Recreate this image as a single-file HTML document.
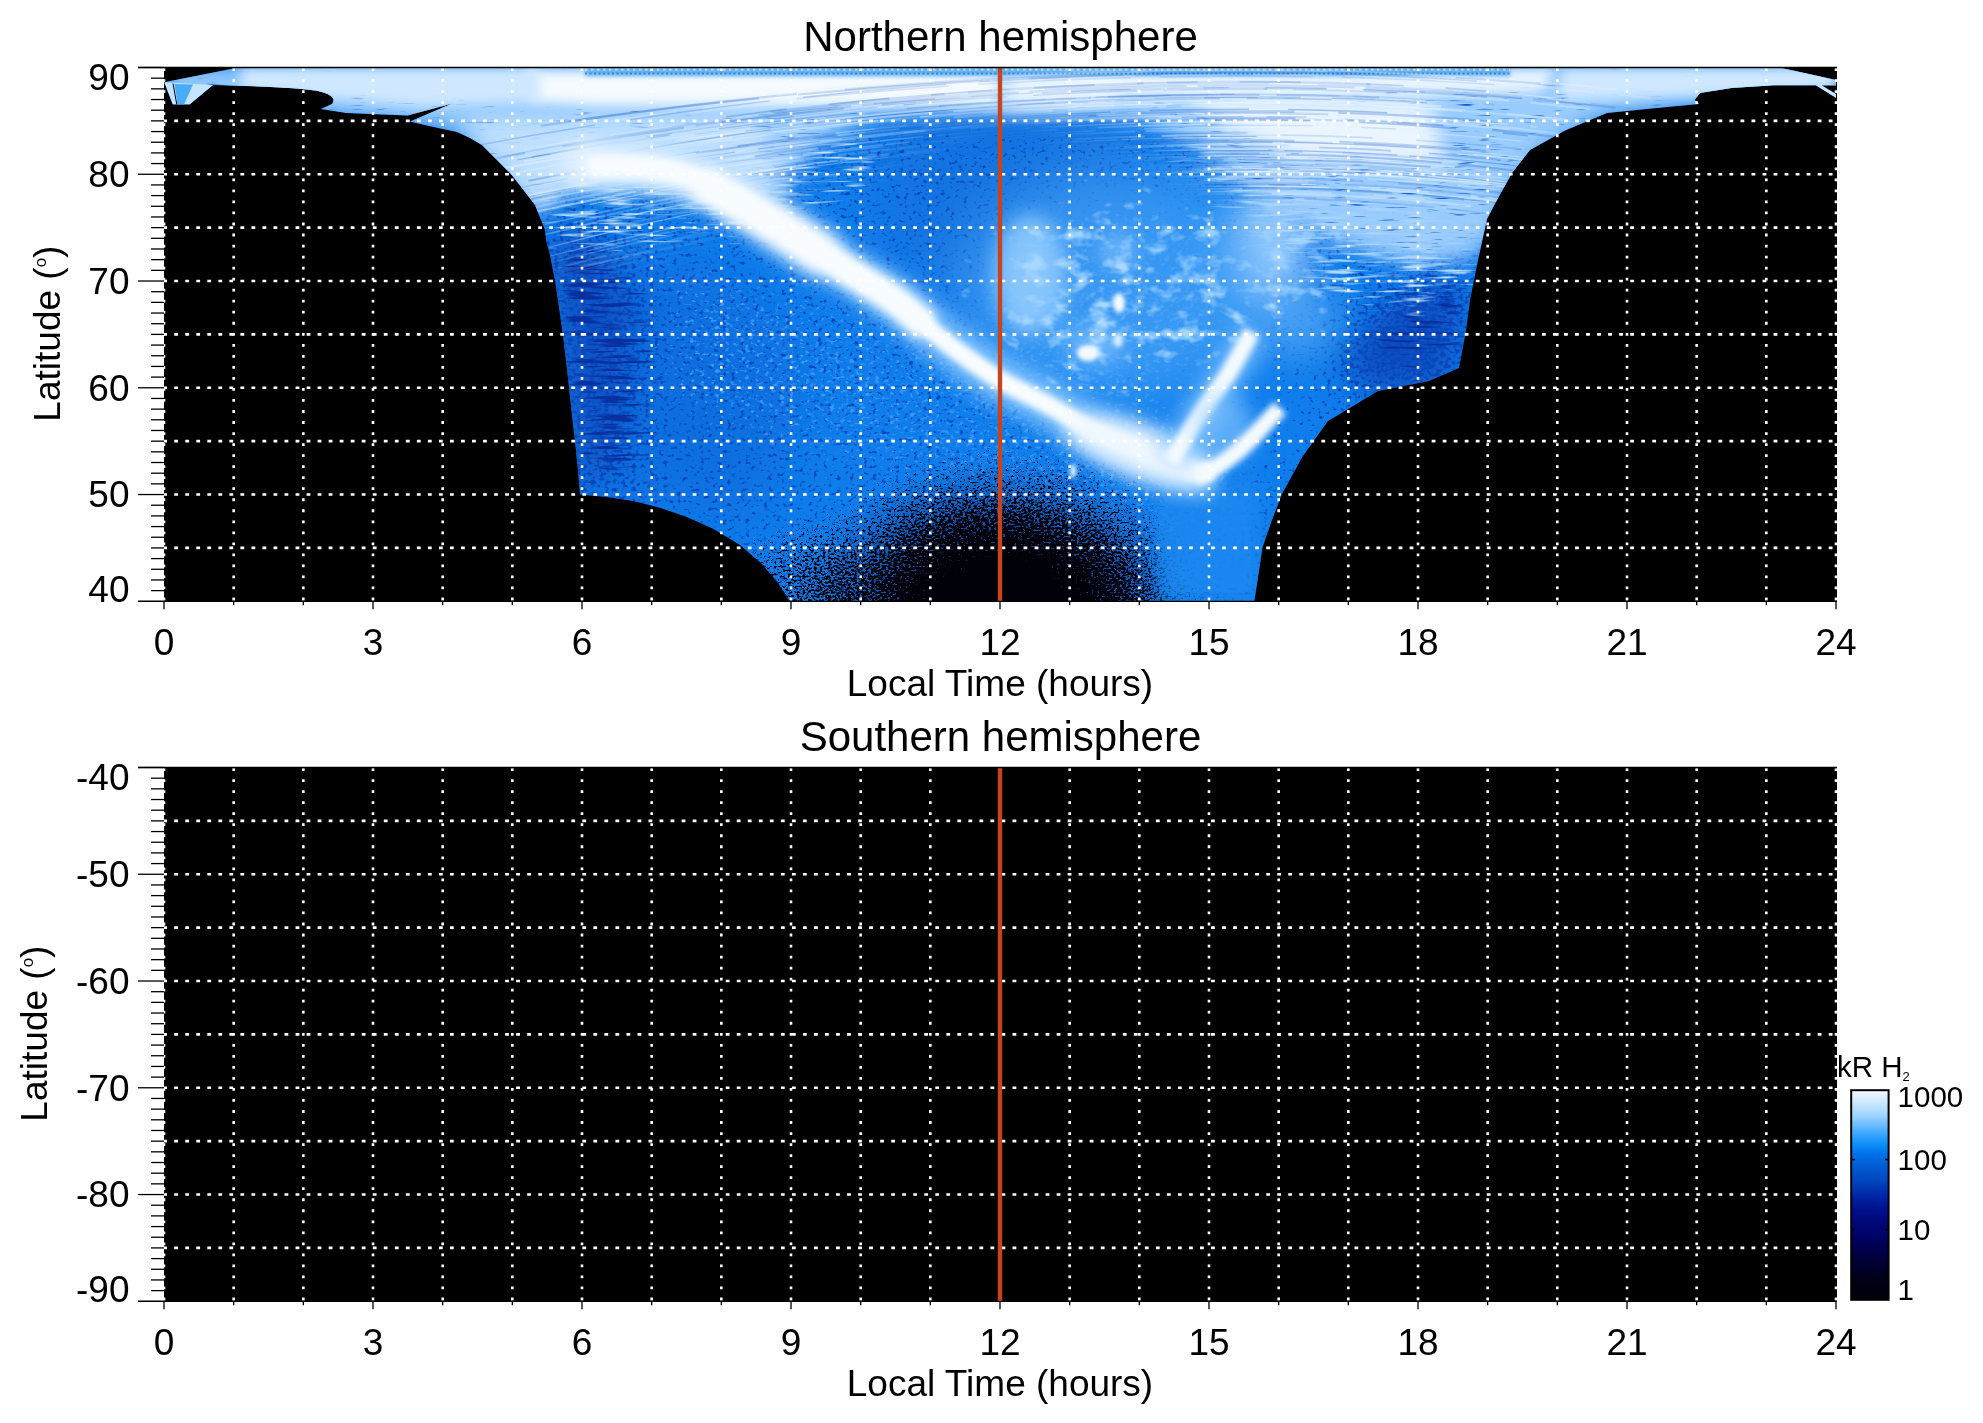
<!DOCTYPE html>
<html><head><meta charset="utf-8"><style>
html,body{margin:0;padding:0;background:#fff;width:1983px;height:1423px;overflow:hidden}
svg{display:block;will-change:transform}
</style></head><body>
<svg width="1983" height="1423" viewBox="0 0 1983 1423">
<defs><clipPath id="plotclipN"><rect x="164.0" y="67.5" width="1672.0" height="533.8"/></clipPath></defs>
<rect width="1983" height="1423" fill="#fff"/>
<rect x="164.0" y="67.5" width="1673.0" height="533.8" fill="#000"/>
<g clip-path="url(#plotclipN)"><defs>
<clipPath id="em"><path d="M238.4,67.5 L1779.4,67.5 L1836,80 L1836,98 L1816,85.3 L1773.8,85.3 L1731.6,88 L1700,93 L1694.7,100 L1699,104 L1656.6,108 L1607,113 L1565,130.6 L1530,150 L1512,173 L1497,200 L1487,219 L1478,260 L1470,300 L1466,330 L1459,368 L1428.6,381 L1378,391 L1328,421 L1302.6,456.5 L1282,494 L1272,520 L1262.6,547 L1254.2,602 L789.7,602 L777.7,582.5 L761.7,563.8 L740,545 L713.6,529 L687,517 L660,507.7 L633.5,501 L606.8,497 L580,494.4 L578,470 L575,441 L572,415 L569,387 L566,360 L563,335 L559,307 L555,280 L550,255 L546,240 L545,230 L535,205 L522,188 L511,174 L497,160 L482,145 L470,138 L457,132 L429,126 L410,121.4 L452.3,103.4 L407.8,115.5 L346.4,113 L321,109 L332,104 C336,99 332,94 318,91 C300,88 270,86.5 213,85 L189.7,104.5 L172.7,104.5 L164.2,82.2 Z"/></clipPath>
<filter id="b2" x="-40%" y="-40%" width="180%" height="180%"><feGaussianBlur stdDeviation="2"/></filter>
<filter id="b3" x="-40%" y="-40%" width="180%" height="180%"><feGaussianBlur stdDeviation="3"/></filter>
<filter id="b6" x="-40%" y="-40%" width="180%" height="180%"><feGaussianBlur stdDeviation="6"/></filter>
<filter id="b10" x="-40%" y="-40%" width="180%" height="180%"><feGaussianBlur stdDeviation="10"/></filter>
<filter id="b18" x="-40%" y="-40%" width="180%" height="180%"><feGaussianBlur stdDeviation="18"/></filter>
<filter id="b30" x="-40%" y="-40%" width="180%" height="180%"><feGaussianBlur stdDeviation="30"/></filter>
<filter id="spkDark" x="0" y="0" width="100%" height="100%" color-interpolation-filters="sRGB"><feTurbulence type="fractalNoise" baseFrequency="0.35 0.5" numOctaves="2" seed="5" result="n"/><feColorMatrix in="n" type="matrix" values="1 0 0 0 0  0 1 0 0 0  0 0 1 0 0  0 0 0 0 1" result="n1"/><feComposite in="n1" in2="SourceGraphic" operator="arithmetic" k1="0" k2="1" k3="1" k4="-0.95" result="s"/><feColorMatrix in="s" type="matrix" values="0 0 0 0 0.000  0 0 0 0 0.000  0 0 0 0 0.031  8 0 0 0 0"/></filter>
<filter id="spkBody" x="0" y="0" width="100%" height="100%" color-interpolation-filters="sRGB"><feTurbulence type="fractalNoise" baseFrequency="0.22 0.26" numOctaves="2" seed="11" result="n"/><feColorMatrix in="n" type="matrix" values="1 0 0 0 0  0 1 0 0 0  0 0 1 0 0  0 0 0 0 1" result="n1"/><feComposite in="n1" in2="SourceGraphic" operator="arithmetic" k1="0" k2="1" k3="1" k4="-0.95" result="s"/><feColorMatrix in="s" type="matrix" values="0 0 0 0 0.031  0 0 0 0 0.282  0 0 0 0 0.737  6 0 0 0 0"/></filter>
<filter id="spkBodyL" x="0" y="0" width="100%" height="100%" color-interpolation-filters="sRGB"><feTurbulence type="fractalNoise" baseFrequency="0.2 0.3" numOctaves="2" seed="29" result="n"/><feColorMatrix in="n" type="matrix" values="1 0 0 0 0  0 1 0 0 0  0 0 1 0 0  0 0 0 0 1" result="n1"/><feComposite in="n1" in2="SourceGraphic" operator="arithmetic" k1="0" k2="1" k3="1" k4="-0.95" result="s"/><feColorMatrix in="s" type="matrix" values="0 0 0 0 0.220  0 0 0 0 0.596  0 0 0 0 0.957  6 0 0 0 0"/></filter>
<filter id="spkEdge" x="0" y="0" width="100%" height="100%" color-interpolation-filters="sRGB"><feTurbulence type="fractalNoise" baseFrequency="0.025 0.28" numOctaves="2" seed="31" result="n"/><feColorMatrix in="n" type="matrix" values="1 0 0 0 0  0 1 0 0 0  0 0 1 0 0  0 0 0 0 1" result="n1"/><feComposite in="n1" in2="SourceGraphic" operator="arithmetic" k1="0" k2="1" k3="1" k4="-0.95" result="s"/><feColorMatrix in="s" type="matrix" values="0 0 0 0 0.031  0 0 0 0 0.188  0 0 0 0 0.627  6 0 0 0 0"/></filter>
<filter id="spkStreak" x="0" y="0" width="100%" height="100%" color-interpolation-filters="sRGB"><feTurbulence type="fractalNoise" baseFrequency="0.04 0.45" numOctaves="2" seed="23" result="n"/><feColorMatrix in="n" type="matrix" values="1 0 0 0 0  0 1 0 0 0  0 0 1 0 0  0 0 0 0 1" result="n1"/><feComposite in="n1" in2="SourceGraphic" operator="arithmetic" k1="0" k2="1" k3="1" k4="-0.95" result="s"/><feColorMatrix in="s" type="matrix" values="0 0 0 0 0.039  0 0 0 0 0.353  0 0 0 0 0.816  5 0 0 0 0"/></filter>
<filter id="spkMottle" x="0" y="0" width="100%" height="100%" color-interpolation-filters="sRGB"><feTurbulence type="fractalNoise" baseFrequency="0.045 0.07" numOctaves="3" seed="41" result="n"/><feColorMatrix in="n" type="matrix" values="1 0 0 0 0  0 1 0 0 0  0 0 1 0 0  0 0 0 0 1" result="n1"/><feComposite in="n1" in2="SourceGraphic" operator="arithmetic" k1="0" k2="1" k3="1" k4="-0.95" result="s"/><feColorMatrix in="s" type="matrix" values="0 0 0 0 0.659  0 0 0 0 0.847  0 0 0 0 1.000  3 0 0 0 0"/></filter>
<filter id="spkLight" x="0" y="0" width="100%" height="100%" color-interpolation-filters="sRGB"><feTurbulence type="fractalNoise" baseFrequency="0.025 0.3" numOctaves="2" seed="17" result="n"/><feColorMatrix in="n" type="matrix" values="1 0 0 0 0  0 1 0 0 0  0 0 1 0 0  0 0 0 0 1" result="n1"/><feComposite in="n1" in2="SourceGraphic" operator="arithmetic" k1="0" k2="1" k3="1" k4="-0.95" result="s"/><feColorMatrix in="s" type="matrix" values="0 0 0 0 0.722  0 0 0 0 0.871  0 0 0 0 0.973  4 0 0 0 0"/></filter>
<radialGradient id="dDark" cx="0.5" cy="0.5" r="0.5">
<stop offset="0" stop-color="#fff"/>
<stop offset="0.25" stop-color="#d4d4d4"/>
<stop offset="0.5" stop-color="#8c8c8c"/>
<stop offset="0.75" stop-color="#4a4a4a"/>
<stop offset="1" stop-color="#000"/>
</radialGradient>
<radialGradient id="gCore" cx="0.5" cy="0.5" r="0.5">
<stop offset="0" stop-color="#000010" stop-opacity="0.7"/>
<stop offset="0.6" stop-color="#000a40" stop-opacity="0.35"/>
<stop offset="1" stop-color="#001060" stop-opacity="0"/>
</radialGradient>
</defs>
<g clip-path="url(#em)">
<rect x="164" y="67" width="1672" height="535" fill="#0f7eec"/>
<path d="M560,250 L700,260 L790,330 L800,420 L760,520 L600,500 L575,420 Z" fill="#0a66d8" filter="url(#b30)" opacity="0.6"/>
<path d="M545,235 L600,240 L630,300 L620,420 L600,490 L575,490 L565,380 Z" fill="#0a48bc" filter="url(#b18)" opacity="0.75"/>
<path d="M1466,280 L1390,300 L1340,360 L1370,395 L1450,385 Z" fill="#0a48bc" filter="url(#b18)" opacity="0.9"/>
<path d="M880,110 L1000,80 L1120,120 L1160,250 L1000,330 L880,250 Z" fill="#1470dc" filter="url(#b30)" opacity="0.7"/>
<g filter="url(#spkBody)"><rect x="164" y="67" width="1672" height="535" fill="#5c5c5c"/><path d="M540,230 L630,240 L650,330 L640,500 L570,500 Z" fill="#7a7a7a" filter="url(#b18)"/><path d="M1470,260 L1380,290 L1330,380 L1460,390 Z" fill="#8a8a8a" filter="url(#b18)"/><path d="M164,67 L1836,67 L1836,130 L164,130 Z" fill="#202020" filter="url(#b10)"/><ellipse cx="1120" cy="300" rx="140" ry="110" fill="#383838" filter="url(#b30)"/><ellipse cx="1190" cy="410" rx="110" ry="70" fill="#303030" filter="url(#b30)"/></g>
<g filter="url(#spkBodyL)"><rect x="164" y="67" width="1672" height="535" fill="#000"/><path d="M640,240 L1000,330 L1250,420 L1260,600 L820,470 L650,420 Z" fill="#646464" filter="url(#b30)"/><ellipse cx="1110" cy="300" rx="130" ry="100" fill="#6c6c6c" filter="url(#b18)"/></g>
<g filter="url(#spkEdge)"><rect x="164" y="67" width="1672" height="535" fill="#000"/><path d="M545,240 L640,250 L660,330 L650,480 L580,495 Z" fill="#7a7a7a" filter="url(#b18)"/><path d="M1470,260 L1400,280 L1360,370 L1460,380 Z" fill="#7a7a7a" filter="url(#b18)"/></g>
<ellipse cx="1000" cy="610" rx="200" ry="150" fill="url(#gCore)"/>
<g filter="url(#spkDark)"><rect x="164" y="67" width="1672" height="535" fill="#000"/><ellipse cx="1000" cy="614" rx="275" ry="205" fill="url(#dDark)"/><ellipse cx="790" cy="590" rx="80" ry="60" fill="#9a9a9a" filter="url(#b18)" opacity="0.6"/></g>
<path d="M1150,492 L1260,482 L1262,602 L1160,602 Z" fill="#1f88f0" filter="url(#b10)" opacity="0.9"/>
<g filter="url(#spkLight)"><rect x="164" y="67" width="1672" height="535" fill="#000"/><path d="M450,120 L850,120 L900,170 L800,240 L700,250 L560,260 L470,150 Z" fill="#707070" filter="url(#b18)"/><path d="M1150,110 L1500,110 L1490,280 L1420,320 L1300,300 L1200,200 Z" fill="#787878" filter="url(#b18)"/></g>
<path d="M164,67 L1836,67 L1836,95 L1700,103 L1600,118 L1545,150 L1510,190 L1490,245 L1460,262 L1400,262 L1330,240 L1262,200 L1205,150 L1135,118 L1070,114 L1012,112 L1000,112 L985,112 L940,112 L870,118 L810,150 L775,200 L700,178 L620,168 L560,178 L532,220 L450,128 L164,96 Z" fill="#a4d2ff" filter="url(#b10)" opacity="0.92"/>
<g filter="url(#spkStreak)"><rect x="164" y="67" width="1672" height="535" fill="#000"/><path d="M164,67 L1836,67 L1836,95 L1700,103 L1600,118 L1545,150 L1510,190 L1490,245 L1460,262 L1400,262 L1330,240 L1262,200 L1205,150 L1135,118 L1070,114 L1012,112 L1000,112 L985,112 L940,112 L870,118 L810,150 L775,200 L700,178 L620,168 L560,178 L532,220 L450,128 L164,96 Z" fill="#484848" filter="url(#b10)"/><path d="M480,68 L980,68 L960,100 L700,110 L480,100 Z" fill="#000" filter="url(#b6)"/></g>
<path d="M525,70 L998,70 L998,106 L900,106 L760,106 L600,106 L530,102 Z" fill="#f4faff" filter="url(#b6)"/>
<path d="M240,68 L540,68 L540,102 L420,106 L240,90 Z" fill="#d0e8ff" filter="url(#b6)"/>
<path d="M1035,68 L1560,68 L1540,92 L1300,98 L1100,96 Z" fill="#e8f4ff" filter="url(#b6)"/>
<path d="M1560,68 L1836,68 L1836,88 L1700,96 L1560,100 Z" fill="#d0e8ff" filter="url(#b6)"/>
<path d="M1002,70 L1120,70 L1120,100 L1068,108 L1002,108 Z" fill="#eef7ff" filter="url(#b10)"/>
<rect x="585" y="67.5" width="925" height="8.5" fill="#62b0f0" filter="url(#b2)"/>
<line x1="585" y1="73.5" x2="1510" y2="73.5" stroke="#0a58c8" stroke-width="1.8" stroke-dasharray="2 2.5" opacity="0.55"/>
<line x1="585" y1="69.5" x2="1510" y2="69.5" stroke="#d8ecff" stroke-width="2" stroke-dasharray="2.5 3.5" opacity="0.8"/>
<path d="M470,120 L760,118 L780,190 L700,172 L600,165 L545,210 L480,140 Z" fill="#c4e2ff" filter="url(#b10)" opacity="0.9"/>
<path d="M1190,96 L1430,100 L1445,165 L1300,160 L1225,130 Z" fill="#eaf5ff" filter="url(#b10)"/>
<ellipse cx="1265" cy="250" rx="42" ry="60" fill="#b8dcff" filter="url(#b18)" opacity="0.9"/>
<ellipse cx="1300" cy="320" rx="40" ry="40" fill="#5aaaf6" filter="url(#b18)" opacity="0.7"/>
<ellipse cx="1115" cy="285" rx="160" ry="115" fill="#4aa4f8" filter="url(#b30)" opacity="0.7"/>
<ellipse cx="1030" cy="275" rx="36" ry="60" fill="#9ad0ff" filter="url(#b10)" opacity="0.8"/>
<ellipse cx="1118" cy="250" rx="18" ry="18" fill="#8ac8ff" filter="url(#b10)" opacity="0.6"/>
<ellipse cx="1095" cy="345" rx="30" ry="20" fill="#8ac8ff" filter="url(#b10)" opacity="0.6"/>
<mask id="stm" maskUnits="userSpaceOnUse" x="164" y="67" width="1672" height="535"><rect x="164" y="67" width="1672" height="535" fill="#000"/><path d="M380,68 L1836,68 L1836,90 L1620,110 L1540,170 L1500,250 L1480,320 L1400,300 L1300,240 L1150,140 L1000,100 L880,150 L700,220 L600,260 L545,250 L470,140 Z" fill="#fff" filter="url(#b18)"/></mask>
<g mask="url(#stm)"><path d="M783.6,139.0 C790.2,138.2 810.2,135.8 823.6,134.4 C836.9,132.9 850.2,131.5 863.6,130.1 C876.9,128.8 890.2,127.5 903.6,126.3 C916.9,125.1 930.2,124.0 943.6,122.9 C956.9,121.9 970.2,120.9 983.6,120.0 C996.9,119.0 1010.2,118.2 1023.6,117.4 C1036.9,116.6 1050.2,115.9 1063.6,115.3 C1076.9,114.6 1090.2,114.0 1103.6,113.5 C1116.9,113.0 1130.2,112.6 1143.6,112.2 C1156.9,111.8 1170.2,111.5 1183.6,111.3 C1196.9,111.1 1216.9,110.9 1223.6,110.8" stroke="#e6f3ff" stroke-opacity="0.31" stroke-width="1.1" stroke-dasharray="161 11" fill="none"/><path d="M436.2,215.8 C442.9,214.4 462.9,209.9 476.2,207.1 C489.6,204.3 502.9,201.5 516.2,198.9 C529.6,196.2 542.9,193.6 556.2,191.1 C569.6,188.5 582.9,186.1 596.2,183.7 C609.6,181.3 622.9,179.0 636.2,176.8 C649.6,174.5 662.9,172.4 676.2,170.3 C689.6,168.2 702.9,166.1 716.2,164.2 C729.6,162.3 742.9,160.4 756.2,158.6 C769.6,156.8 782.9,155.1 796.2,153.4 C809.6,151.7 822.9,150.2 836.2,148.7 C849.6,147.1 862.9,145.7 876.2,144.3 C889.6,143.0 902.9,141.7 916.2,140.5 C929.6,139.3 942.9,138.1 956.2,137.0 C969.6,136.0 982.9,135.0 996.2,134.0 C1009.6,133.1 1022.9,132.3 1036.2,131.5 C1049.6,130.7 1062.9,130.0 1076.2,129.4 C1089.6,128.7 1102.9,128.2 1116.2,127.7 C1129.6,127.2 1142.9,126.8 1156.2,126.4 C1169.6,126.1 1182.9,125.8 1196.2,125.6 C1209.6,125.4 1222.9,125.3 1236.2,125.3 C1249.6,125.2 1262.9,125.2 1276.2,125.4 C1289.6,125.5 1302.9,125.7 1316.2,126.0 C1329.6,126.3 1342.9,126.7 1356.2,127.2 C1369.6,127.8 1389.6,128.7 1396.2,129.0" stroke="#0850c0" stroke-opacity="0.14" stroke-width="1.3" stroke-dasharray="185 48" fill="none"/><path d="M985.3,155.3 C991.9,154.8 1011.9,153.2 1025.3,152.2 C1038.6,151.3 1051.9,150.4 1065.3,149.6 C1078.6,148.8 1091.9,148.1 1105.3,147.5 C1118.6,146.9 1131.9,146.4 1145.3,145.9 C1158.6,145.5 1178.6,145.0 1185.3,144.8" stroke="#0850c0" stroke-opacity="0.17" stroke-width="1.2" stroke-dasharray="84 22" fill="none"/><path d="M740.6,220.6 C747.3,219.4 767.3,216.0 780.6,213.8 C793.9,211.6 807.3,209.6 820.6,207.6 C833.9,205.6 847.3,203.7 860.6,201.9 C873.9,200.1 887.3,198.4 900.6,196.8 C913.9,195.2 927.3,193.7 940.6,192.3 C953.9,190.8 967.3,189.5 980.6,188.3 C993.9,187.0 1007.3,185.9 1020.6,184.8 C1033.9,183.8 1047.3,182.8 1060.6,181.9 C1073.9,181.1 1087.3,180.3 1100.6,179.6 C1113.9,178.9 1127.3,178.3 1140.6,177.8 C1153.9,177.3 1167.3,176.9 1180.6,176.6 C1193.9,176.2 1207.3,176.0 1220.6,175.9 C1233.9,175.7 1247.3,175.7 1260.6,175.8 C1273.9,175.8 1287.3,176.0 1300.6,176.3 C1313.9,176.6 1327.3,177.0 1340.6,177.6 C1353.9,178.1 1367.3,178.8 1380.6,179.6 C1393.9,180.3 1407.3,181.2 1420.6,182.3 C1433.9,183.3 1447.3,184.4 1460.6,185.7 C1473.9,187.0 1493.9,189.1 1500.6,189.8" stroke="#e6f3ff" stroke-opacity="0.36" stroke-width="1.1" stroke-dasharray="72 18" fill="none"/><path d="M574.8,235.2 C581.4,233.7 601.4,229.2 614.8,226.3 C628.1,223.4 641.4,220.6 654.8,217.9 C668.1,215.2 681.4,212.6 694.8,210.1 C708.1,207.6 721.4,205.2 734.8,202.9 C748.1,200.5 761.4,198.3 774.8,196.1 C788.1,194.0 801.4,191.9 814.8,190.0 C828.1,188.0 841.4,186.1 854.8,184.3 C868.1,182.5 881.4,180.8 894.8,179.2 C908.1,177.6 921.4,176.1 934.8,174.7 C948.1,173.2 961.4,171.9 974.8,170.7 C988.1,169.4 1001.4,168.3 1014.8,167.2 C1028.1,166.1 1041.4,165.2 1054.8,164.3 C1068.1,163.4 1081.4,162.6 1094.8,161.9 C1108.1,161.2 1121.4,160.6 1134.8,160.1 C1148.1,159.5 1161.4,159.1 1174.8,158.8 C1188.1,158.4 1201.4,158.2 1214.8,158.0 C1228.1,157.9 1241.4,157.8 1254.8,157.8 C1268.1,157.9 1281.4,158.0 1294.8,158.3 C1308.1,158.5 1321.4,158.9 1334.8,159.4 C1348.1,159.9 1361.4,160.5 1374.8,161.2 C1388.1,162.0 1401.4,162.8 1414.8,163.8 C1428.1,164.8 1448.1,166.5 1454.8,167.1" stroke="#e6f3ff" stroke-opacity="0.29" stroke-width="2.1" stroke-dasharray="200 20" fill="none"/><path d="M922.6,161.3 C929.3,160.7 949.3,158.6 962.6,157.3 C975.9,156.1 989.3,154.9 1002.6,153.8 C1015.9,152.7 1029.3,151.8 1042.6,150.8 C1055.9,149.9 1069.3,149.1 1082.6,148.4 C1095.9,147.7 1109.3,147.0 1122.6,146.5 C1135.9,145.9 1149.3,145.5 1162.6,145.1 C1175.9,144.7 1189.3,144.4 1202.6,144.2 C1215.9,144.0 1229.3,143.9 1242.6,143.8 C1255.9,143.8 1269.3,143.9 1282.6,144.0 C1295.9,144.2 1309.3,144.5 1322.6,144.9 C1335.9,145.4 1349.3,145.9 1362.6,146.5 C1375.9,147.2 1389.3,147.9 1402.6,148.8 C1415.9,149.6 1429.3,150.6 1442.6,151.7 C1455.9,152.8 1469.3,154.0 1482.6,155.3 C1495.9,156.6 1509.3,158.1 1522.6,159.6 C1535.9,161.1 1555.9,163.7 1562.6,164.6" stroke="#e6f3ff" stroke-opacity="0.49" stroke-width="1.2" stroke-dasharray="144 40" fill="none"/><path d="M404.3,176.5 C411.0,175.1 431.0,171.0 444.3,168.3 C457.6,165.6 471.0,163.1 484.3,160.5 C497.6,158.0 511.0,155.6 524.3,153.2 C537.6,150.8 551.0,148.4 564.3,146.2 C577.6,143.9 591.0,141.7 604.3,139.6 C617.6,137.5 631.0,135.4 644.3,133.4 C657.6,131.4 671.0,129.5 684.3,127.6 C697.6,125.8 711.0,124.0 724.3,122.2 C737.6,120.5 751.0,118.8 764.3,117.2 C777.6,115.6 791.0,114.1 804.3,112.6 C817.6,111.1 831.0,109.7 844.3,108.4 C857.6,107.1 871.0,105.8 884.3,104.6 C897.6,103.4 911.0,102.2 924.3,101.2 C937.6,100.1 951.0,99.1 964.3,98.2 C977.6,97.2 991.0,96.3 1004.3,95.5 C1017.6,94.7 1031.0,94.0 1044.3,93.3 C1057.6,92.6 1071.0,92.0 1084.3,91.5 C1097.6,90.9 1111.0,90.4 1124.3,90.0 C1137.6,89.6 1151.0,89.3 1164.3,89.0 C1177.6,88.7 1191.0,88.5 1204.3,88.3 C1217.6,88.2 1231.0,88.1 1244.3,88.1 C1257.6,88.1 1271.0,88.1 1284.3,88.3 C1297.6,88.4 1311.0,88.6 1324.3,88.9 C1337.6,89.3 1351.0,89.7 1364.3,90.2 C1377.6,90.7 1391.0,91.2 1404.3,91.9 C1417.6,92.5 1431.0,93.3 1444.3,94.1 C1457.6,95.0 1471.0,95.9 1484.3,96.9 C1497.6,97.9 1517.6,99.6 1524.3,100.2" stroke="#0850c0" stroke-opacity="0.22" stroke-width="2.2" stroke-dasharray="123 38" fill="none"/><path d="M662.8,204.0 C669.5,202.7 689.5,198.9 702.8,196.4 C716.2,194.0 729.5,191.7 742.8,189.4 C756.2,187.1 769.5,185.0 782.8,182.9 C796.2,180.8 809.5,178.8 822.8,176.9 C836.2,175.0 849.5,173.2 862.8,171.5 C876.2,169.8 889.5,168.1 902.8,166.6 C916.2,165.0 929.5,163.6 942.8,162.2 C956.2,160.8 969.5,159.6 982.8,158.4 C996.2,157.2 1009.5,156.1 1022.8,155.1 C1036.2,154.1 1049.5,153.1 1062.8,152.3 C1076.2,151.5 1089.5,150.7 1102.8,150.1 C1116.2,149.4 1129.5,148.9 1142.8,148.4 C1156.2,147.9 1169.5,147.5 1182.8,147.2 C1196.2,146.9 1209.5,146.7 1222.8,146.6 C1236.2,146.5 1249.5,146.4 1262.8,146.5 C1276.2,146.6 1289.5,146.8 1302.8,147.1 C1316.2,147.4 1329.5,147.8 1342.8,148.3 C1356.2,148.9 1369.5,149.5 1382.8,150.3 C1396.2,151.1 1409.5,151.9 1422.8,152.9 C1436.2,153.9 1449.5,155.1 1462.8,156.3 C1476.2,157.5 1489.5,158.9 1502.8,160.3 C1516.2,161.8 1529.5,163.4 1542.8,165.1 C1556.2,166.8 1576.2,169.6 1582.8,170.5" stroke="#0850c0" stroke-opacity="0.21" stroke-width="1.9" stroke-dasharray="72 38" fill="none"/><path d="M889.6,177.6 C896.3,176.7 916.3,174.1 929.6,172.5 C942.9,170.9 956.3,169.4 969.6,168.0 C982.9,166.6 996.3,165.4 1009.6,164.2 C1022.9,163.0 1036.3,161.9 1049.6,160.9 C1062.9,159.9 1076.3,159.0 1089.6,158.2 C1102.9,157.4 1116.3,156.7 1129.6,156.1 C1142.9,155.5 1156.3,155.0 1169.6,154.6 C1182.9,154.2 1196.3,153.9 1209.6,153.7 C1222.9,153.5 1236.3,153.4 1249.6,153.4 C1262.9,153.4 1276.3,153.5 1289.6,153.8 C1302.9,154.1 1322.9,154.8 1329.6,155.0" stroke="#e6f3ff" stroke-opacity="0.40" stroke-width="1.0" stroke-dasharray="152 17" fill="none"/><path d="M856.3,100.5 C863.0,100.0 883.0,98.3 896.3,97.2 C909.6,96.2 923.0,95.2 936.3,94.3 C949.6,93.4 963.0,92.5 976.3,91.7 C989.6,90.9 1003.0,90.2 1016.3,89.5 C1029.6,88.8 1043.0,88.2 1056.3,87.6 C1069.6,87.0 1083.0,86.5 1096.3,86.1 C1109.6,85.6 1123.0,85.2 1136.3,84.9 C1149.6,84.5 1163.0,84.3 1176.3,84.1 C1189.6,83.8 1203.0,83.7 1216.3,83.6 C1229.6,83.5 1249.6,83.5 1256.3,83.5" stroke="#e6f3ff" stroke-opacity="0.32" stroke-width="2.2" stroke-dasharray="76 28" fill="none"/><path d="M888.0,163.1 C894.6,162.3 914.6,159.9 928.0,158.4 C941.3,156.9 954.6,155.5 968.0,154.2 C981.3,153.0 994.6,151.7 1008.0,150.6 C1021.3,149.5 1034.6,148.5 1048.0,147.6 C1061.3,146.6 1074.6,145.8 1088.0,145.1 C1101.3,144.3 1114.6,143.7 1128.0,143.1 C1141.3,142.5 1154.6,142.1 1168.0,141.7 C1181.3,141.3 1194.6,141.0 1208.0,140.8 C1221.3,140.6 1234.6,140.5 1248.0,140.5 C1261.3,140.5 1274.6,140.6 1288.0,140.8 C1301.3,141.1 1314.6,141.4 1328.0,141.9 C1341.3,142.4 1354.6,142.9 1368.0,143.6 C1381.3,144.4 1394.6,145.2 1408.0,146.1 C1421.3,147.1 1434.6,148.1 1448.0,149.3 C1461.3,150.5 1474.6,151.8 1488.0,153.2 C1501.3,154.6 1514.6,156.2 1528.0,157.9 C1541.3,159.5 1554.6,161.3 1568.0,163.2 C1581.3,165.1 1601.3,168.2 1608.0,169.3" stroke="#e6f3ff" stroke-opacity="0.32" stroke-width="1.5" stroke-dasharray="237 48" fill="none"/><path d="M523.8,149.0 C530.5,147.9 550.5,144.6 563.8,142.4 C577.1,140.3 590.5,138.3 603.8,136.3 C617.1,134.3 630.5,132.3 643.8,130.5 C657.1,128.6 670.5,126.8 683.8,125.0 C697.1,123.3 710.5,121.6 723.8,120.0 C737.1,118.4 750.5,116.8 763.8,115.3 C777.1,113.8 790.5,112.3 803.8,111.0 C817.1,109.6 830.5,108.3 843.8,107.0 C857.1,105.8 870.5,104.6 883.8,103.4 C897.1,102.3 910.5,101.2 923.8,100.2 C937.1,99.2 950.5,98.3 963.8,97.4 C977.1,96.5 990.5,95.7 1003.8,94.9 C1017.1,94.2 1030.5,93.5 1043.8,92.8 C1057.1,92.2 1070.5,91.6 1083.8,91.1 C1097.1,90.6 1110.5,90.2 1123.8,89.8 C1137.1,89.4 1150.5,89.0 1163.8,88.8 C1177.1,88.5 1190.5,88.3 1203.8,88.2 C1217.1,88.0 1230.5,87.9 1243.8,87.9 C1257.1,87.9 1277.1,88.1 1283.8,88.1" stroke="#e6f3ff" stroke-opacity="0.38" stroke-width="1.4" stroke-dasharray="61 27" fill="none"/><path d="M970.9,128.1 C977.6,127.6 997.6,126.0 1010.9,125.1 C1024.3,124.1 1037.6,123.3 1050.9,122.5 C1064.3,121.7 1077.6,121.0 1090.9,120.4 C1104.3,119.8 1117.6,119.3 1130.9,118.8 C1144.3,118.3 1157.6,118.0 1170.9,117.7 C1184.3,117.3 1197.6,117.1 1210.9,117.0 C1224.3,116.8 1237.6,116.7 1250.9,116.7 C1264.3,116.8 1277.6,116.9 1290.9,117.1 C1304.3,117.3 1317.6,117.6 1330.9,118.0 C1344.3,118.4 1357.6,118.9 1370.9,119.5 C1384.3,120.1 1397.6,120.8 1410.9,121.6 C1424.3,122.5 1437.6,123.4 1450.9,124.4 C1464.3,125.4 1477.6,126.5 1490.9,127.7 C1504.3,128.9 1524.3,131.0 1530.9,131.7" stroke="#e6f3ff" stroke-opacity="0.39" stroke-width="1.9" stroke-dasharray="71 46" fill="none"/><path d="M874.7,198.4 C881.3,197.5 901.3,194.6 914.7,192.9 C928.0,191.1 941.3,189.5 954.7,187.9 C968.0,186.4 981.3,185.0 994.7,183.7 C1008.0,182.3 1021.3,181.1 1034.7,180.0 C1048.0,178.9 1061.3,177.9 1074.7,176.9 C1088.0,176.0 1101.3,175.2 1114.7,174.5 C1128.0,173.8 1141.3,173.2 1154.7,172.7 C1168.0,172.2 1181.3,171.8 1194.7,171.6 C1208.0,171.3 1221.3,171.1 1234.7,171.0 C1248.0,170.9 1261.3,170.9 1274.7,171.1 C1288.0,171.3 1301.3,171.6 1314.7,172.0 C1328.0,172.5 1341.3,173.0 1354.7,173.7 C1368.0,174.4 1388.0,175.8 1394.7,176.3" stroke="#e6f3ff" stroke-opacity="0.23" stroke-width="1.9" stroke-dasharray="72 13" fill="none"/><path d="M590.8,147.9 C597.5,146.8 617.5,143.7 630.8,141.7 C644.2,139.7 657.5,137.8 670.8,135.9 C684.2,134.1 697.5,132.3 710.8,130.5 C724.2,128.8 737.5,127.1 750.8,125.5 C764.2,123.9 777.5,122.4 790.8,120.9 C804.2,119.5 817.5,118.0 830.8,116.7 C844.2,115.4 857.5,114.1 870.8,112.9 C884.2,111.6 897.5,110.5 910.8,109.4 C924.2,108.3 937.5,107.3 950.8,106.3 C964.2,105.4 977.5,104.5 990.8,103.6 C1004.2,102.8 1017.5,102.0 1030.8,101.3 C1044.2,100.6 1057.5,100.0 1070.8,99.4 C1084.2,98.8 1097.5,98.3 1110.8,97.9 C1124.2,97.4 1137.5,97.1 1150.8,96.7 C1164.2,96.4 1184.2,96.1 1190.8,96.0" stroke="#e6f3ff" stroke-opacity="0.25" stroke-width="1.1" stroke-dasharray="133 11" fill="none"/><path d="M472.1,300.9 C478.8,299.0 498.8,293.0 512.1,289.2 C525.4,285.3 538.8,281.6 552.1,278.0 C565.4,274.4 578.8,270.9 592.1,267.5 C605.4,264.1 618.8,260.8 632.1,257.6 C645.4,254.4 658.8,251.3 672.1,248.3 C685.4,245.3 698.8,242.4 712.1,239.6 C725.4,236.8 738.8,234.1 752.1,231.6 C765.4,229.0 778.8,226.5 792.1,224.1 C805.4,221.8 818.8,219.5 832.1,217.3 C845.4,215.2 858.8,213.1 872.1,211.1 C885.4,209.2 898.8,207.3 912.1,205.6 C925.4,203.8 938.8,202.2 952.1,200.6 C965.4,199.1 978.8,197.7 992.1,196.3 C1005.4,195.0 1018.8,193.8 1032.1,192.6 C1045.4,191.5 1058.8,190.5 1072.1,189.6 C1085.4,188.6 1098.8,187.8 1112.1,187.1 C1125.4,186.4 1138.8,185.8 1152.1,185.3 C1165.4,184.8 1178.8,184.4 1192.1,184.1 C1205.4,183.8 1218.8,183.6 1232.1,183.5 C1245.4,183.4 1258.8,183.4 1272.1,183.5 C1285.4,183.7 1305.4,184.2 1312.1,184.4" stroke="#e6f3ff" stroke-opacity="0.31" stroke-width="1.2" stroke-dasharray="230 50" fill="none"/><path d="M433.2,231.0 C439.9,229.4 459.9,224.4 473.2,221.3 C486.6,218.1 499.9,215.1 513.2,212.1 C526.6,209.1 539.9,206.2 553.2,203.3 C566.6,200.5 579.9,197.8 593.2,195.1 C606.6,192.4 619.9,189.9 633.2,187.4 C646.6,184.9 659.9,182.4 673.2,180.1 C686.6,177.8 699.9,175.5 713.2,173.3 C726.6,171.2 739.9,169.1 753.2,167.0 C766.6,165.0 779.9,163.1 793.2,161.2 C806.6,159.4 819.9,157.6 833.2,155.9 C846.6,154.2 859.9,152.6 873.2,151.1 C886.6,149.6 899.9,148.1 913.2,146.8 C926.6,145.4 939.9,144.1 953.2,142.9 C966.6,141.7 979.9,140.6 993.2,139.5 C1006.6,138.5 1019.9,137.5 1033.2,136.7 C1046.6,135.8 1059.9,135.0 1073.2,134.3 C1086.6,133.5 1099.9,132.9 1113.2,132.4 C1126.6,131.8 1139.9,131.3 1153.2,130.9 C1166.6,130.5 1179.9,130.2 1193.2,130.0 C1206.6,129.8 1226.6,129.6 1233.2,129.6" stroke="#e6f3ff" stroke-opacity="0.28" stroke-width="2.2" stroke-dasharray="92 11" fill="none"/><path d="M470.9,313.7 C477.6,311.7 497.6,305.6 510.9,301.7 C524.2,297.8 537.6,294.0 550.9,290.3 C564.2,286.6 577.6,283.0 590.9,279.6 C604.2,276.1 617.6,272.7 630.9,269.4 C644.2,266.2 657.6,263.0 670.9,259.9 C684.2,256.9 697.6,253.9 710.9,251.1 C724.2,248.2 737.6,245.5 750.9,242.9 C764.2,240.2 777.6,237.7 790.9,235.3 C804.2,232.8 817.6,230.5 830.9,228.3 C844.2,226.1 857.6,224.0 870.9,222.0 C884.2,220.0 897.6,218.1 910.9,216.3 C924.2,214.5 937.6,212.8 950.9,211.2 C964.2,209.7 977.6,208.2 990.9,206.8 C1004.2,205.5 1017.6,204.2 1030.9,203.0 C1044.2,201.9 1057.6,200.8 1070.9,199.9 C1084.2,198.9 1097.6,198.1 1110.9,197.4 C1124.2,196.6 1137.6,196.0 1150.9,195.5 C1164.2,195.0 1177.6,194.5 1190.9,194.2 C1204.2,193.9 1217.6,193.7 1230.9,193.6 C1244.2,193.5 1257.6,193.5 1270.9,193.6 C1284.2,193.8 1297.6,194.1 1310.9,194.5 C1324.2,194.9 1337.6,195.5 1350.9,196.2 C1364.2,196.8 1377.6,197.7 1390.9,198.6 C1404.2,199.6 1417.6,200.7 1430.9,202.0 C1444.2,203.2 1464.2,205.4 1470.9,206.1" stroke="#e6f3ff" stroke-opacity="0.36" stroke-width="2.4" stroke-dasharray="233 38" fill="none"/><path d="M483.6,179.0 C490.2,177.7 510.2,173.7 523.6,171.2 C536.9,168.7 550.2,166.2 563.6,163.9 C576.9,161.5 590.2,159.2 603.6,156.9 C616.9,154.7 630.2,152.5 643.6,150.4 C656.9,148.3 670.2,146.2 683.6,144.3 C696.9,142.3 710.2,140.4 723.6,138.6 C736.9,136.7 750.2,135.0 763.6,133.3 C776.9,131.6 790.2,130.0 803.6,128.4 C816.9,126.9 830.2,125.4 843.6,124.0 C856.9,122.6 870.2,121.2 883.6,120.0 C896.9,118.7 910.2,117.5 923.6,116.4 C936.9,115.2 950.2,114.2 963.6,113.2 C976.9,112.2 990.2,111.2 1003.6,110.4 C1016.9,109.5 1030.2,108.7 1043.6,108.0 C1056.9,107.3 1070.2,106.7 1083.6,106.1 C1096.9,105.5 1110.2,105.0 1123.6,104.6 C1136.9,104.1 1150.2,103.7 1163.6,103.4 C1176.9,103.1 1190.2,102.9 1203.6,102.7 C1216.9,102.6 1230.2,102.5 1243.6,102.5 C1256.9,102.5 1270.2,102.5 1283.6,102.7 C1296.9,102.8 1310.2,103.1 1323.6,103.4 C1336.9,103.7 1350.2,104.1 1363.6,104.7 C1376.9,105.2 1390.2,105.8 1403.6,106.5 C1416.9,107.2 1430.2,107.9 1443.6,108.8 C1456.9,109.7 1470.2,110.7 1483.6,111.7 C1496.9,112.8 1510.2,113.9 1523.6,115.1 C1536.9,116.4 1556.9,118.5 1563.6,119.1" stroke="#e6f3ff" stroke-opacity="0.43" stroke-width="1.5" stroke-dasharray="105 42" fill="none"/><path d="M879.8,227.4 C886.4,226.4 906.4,223.2 919.8,221.4 C933.1,219.5 946.4,217.7 959.8,216.0 C973.1,214.4 986.4,212.8 999.8,211.4 C1013.1,210.0 1026.4,208.7 1039.8,207.5 C1053.1,206.3 1066.4,205.2 1079.8,204.2 C1093.1,203.2 1106.4,202.4 1119.8,201.6 C1133.1,200.9 1146.4,200.3 1159.8,199.8 C1173.1,199.2 1186.4,198.8 1199.8,198.6 C1213.1,198.3 1226.4,198.1 1239.8,198.0 C1253.1,198.0 1266.4,198.0 1279.8,198.3 C1293.1,198.5 1306.4,198.8 1319.8,199.4 C1333.1,199.9 1346.4,200.5 1359.8,201.4 C1373.1,202.2 1386.4,203.1 1399.8,204.3 C1413.1,205.4 1426.4,206.6 1439.8,208.0 C1453.1,209.4 1466.4,211.0 1479.8,212.7 C1493.1,214.4 1506.4,216.3 1519.8,218.3 C1533.1,220.3 1546.4,222.4 1559.8,224.7 C1573.1,227.0 1593.1,230.8 1599.8,232.1" stroke="#0850c0" stroke-opacity="0.16" stroke-width="1.7" stroke-dasharray="131 11" fill="none"/><path d="M540.7,125.8 C547.4,124.8 567.4,121.8 580.7,119.9 C594.0,118.0 607.4,116.1 620.7,114.3 C634.0,112.5 647.4,110.7 660.7,109.1 C674.0,107.4 687.4,105.7 700.7,104.2 C714.0,102.6 727.4,101.1 740.7,99.6 C754.0,98.1 767.4,96.7 780.7,95.4 C794.0,94.0 807.4,92.7 820.7,91.5 C834.0,90.3 847.4,89.1 860.7,88.0 C874.0,86.9 887.4,85.8 900.7,84.8 C914.0,83.8 927.4,82.9 940.7,82.0 C954.0,81.1 967.4,80.3 980.7,79.5 C994.0,78.7 1007.4,78.0 1020.7,77.3 C1034.0,76.7 1047.4,76.1 1060.7,75.5 C1074.0,75.0 1087.4,74.5 1100.7,74.1 C1114.0,73.7 1127.4,73.3 1140.7,73.0 C1154.0,72.7 1167.4,72.4 1180.7,72.2 C1194.0,72.0 1207.4,71.9 1220.7,71.8 C1234.0,71.7 1247.4,71.7 1260.7,71.7 C1274.0,71.7 1287.4,71.9 1300.7,72.0 C1314.0,72.2 1327.4,72.5 1340.7,72.8 C1354.0,73.2 1367.4,73.6 1380.7,74.1 C1394.0,74.6 1407.4,75.1 1420.7,75.8 C1434.0,76.4 1447.4,77.1 1460.7,77.9 C1474.0,78.7 1487.4,79.5 1500.7,80.5 C1514.0,81.4 1534.0,83.0 1540.7,83.5" stroke="#0850c0" stroke-opacity="0.20" stroke-width="2.3" stroke-dasharray="258 48" fill="none"/><path d="M520.6,188.1 C527.3,186.8 547.3,182.9 560.6,180.4 C574.0,177.9 587.3,175.5 600.6,173.2 C614.0,170.8 627.3,168.6 640.6,166.4 C654.0,164.2 667.3,162.0 680.6,160.0 C694.0,157.9 707.3,156.0 720.6,154.0 C734.0,152.1 747.3,150.3 760.6,148.5 C774.0,146.8 787.3,145.1 800.6,143.5 C814.0,141.8 827.3,140.3 840.6,138.8 C854.0,137.3 867.3,135.9 880.6,134.6 C894.0,133.3 907.3,132.0 920.6,130.8 C934.0,129.6 947.3,128.5 960.6,127.5 C974.0,126.4 987.3,125.4 1000.6,124.5 C1014.0,123.6 1027.3,122.8 1040.6,122.1 C1054.0,121.3 1067.3,120.6 1080.6,120.0 C1094.0,119.4 1107.3,118.9 1120.6,118.4 C1134.0,117.9 1147.3,117.5 1160.6,117.2 C1174.0,116.9 1187.3,116.6 1200.6,116.5 C1214.0,116.3 1227.3,116.2 1240.6,116.1 C1254.0,116.1 1274.0,116.3 1280.6,116.3" stroke="#e6f3ff" stroke-opacity="0.39" stroke-width="2.3" stroke-dasharray="228 29" fill="none"/><path d="M432.6,274.4 C439.2,272.5 459.2,266.6 472.6,262.9 C485.9,259.2 499.2,255.5 512.6,252.0 C525.9,248.5 539.2,245.0 552.6,241.7 C565.9,238.3 579.2,235.1 592.6,231.9 C605.9,228.8 619.2,225.7 632.6,222.8 C645.9,219.8 659.2,216.9 672.6,214.2 C685.9,211.4 699.2,208.7 712.6,206.1 C725.9,203.6 739.2,201.1 752.6,198.7 C765.9,196.3 779.2,194.0 792.6,191.8 C805.9,189.6 819.2,187.5 832.6,185.5 C845.9,183.5 859.2,181.6 872.6,179.8 C885.9,178.0 899.2,176.3 912.6,174.7 C925.9,173.1 939.2,171.5 952.6,170.1 C965.9,168.7 979.2,167.3 992.6,166.1 C1005.9,164.9 1019.2,163.7 1032.6,162.7 C1045.9,161.7 1059.2,160.7 1072.6,159.9 C1085.9,159.0 1099.2,158.2 1112.6,157.6 C1125.9,156.9 1139.2,156.4 1152.6,155.9 C1165.9,155.4 1179.2,155.1 1192.6,154.8 C1205.9,154.5 1219.2,154.3 1232.6,154.2 C1245.9,154.2 1259.2,154.2 1272.6,154.3 C1285.9,154.5 1299.2,154.7 1312.6,155.1 C1325.9,155.5 1339.2,156.0 1352.6,156.7 C1365.9,157.3 1379.2,158.1 1392.6,158.9 C1405.9,159.8 1419.2,160.8 1432.6,162.0 C1445.9,163.1 1459.2,164.4 1472.6,165.8 C1485.9,167.2 1505.9,169.6 1512.6,170.3" stroke="#0850c0" stroke-opacity="0.26" stroke-width="2.1" stroke-dasharray="156 17" fill="none"/><path d="M876.5,196.7 C883.2,195.9 903.2,193.3 916.5,191.7 C929.8,190.2 943.2,188.7 956.5,187.3 C969.8,185.9 983.2,184.7 996.5,183.5 C1009.8,182.3 1023.2,181.2 1036.5,180.2 C1049.8,179.2 1063.2,178.3 1076.5,177.5 C1089.8,176.6 1103.2,175.9 1116.5,175.3 C1129.8,174.7 1143.2,174.1 1156.5,173.7 C1169.8,173.3 1183.2,172.9 1196.5,172.7 C1209.8,172.4 1223.2,172.3 1236.5,172.2 C1249.8,172.1 1263.2,172.2 1276.5,172.3 C1289.8,172.5 1303.2,172.8 1316.5,173.2 C1329.8,173.6 1343.2,174.1 1356.5,174.8 C1369.8,175.4 1383.2,176.2 1396.5,177.1 C1409.8,178.0 1423.2,179.0 1436.5,180.1 C1449.8,181.3 1463.2,182.5 1476.5,183.9 C1489.8,185.3 1503.2,186.8 1516.5,188.4 C1529.8,190.0 1543.2,191.8 1556.5,193.7 C1569.8,195.5 1583.2,197.5 1596.5,199.6 C1609.8,201.8 1623.2,204.0 1636.5,206.3 C1649.8,208.7 1669.8,212.6 1676.5,213.8" stroke="#e6f3ff" stroke-opacity="0.32" stroke-width="2.3" stroke-dasharray="205 17" fill="none"/><path d="M941.0,95.6 C947.7,95.1 967.7,93.8 981.0,93.0 C994.3,92.1 1007.7,91.4 1021.0,90.7 C1034.3,90.0 1047.7,89.4 1061.0,88.8 C1074.3,88.2 1087.7,87.7 1101.0,87.3 C1114.3,86.8 1127.7,86.4 1141.0,86.1 C1154.3,85.8 1167.7,85.5 1181.0,85.3 C1194.3,85.1 1207.7,85.0 1221.0,84.9 C1234.3,84.8 1247.7,84.7 1261.0,84.8 C1274.3,84.8 1287.7,85.0 1301.0,85.2 C1314.3,85.4 1327.7,85.6 1341.0,86.0 C1354.3,86.3 1367.7,86.8 1381.0,87.3 C1394.3,87.8 1407.7,88.4 1421.0,89.1 C1434.3,89.7 1447.7,90.5 1461.0,91.3 C1474.3,92.1 1487.7,93.1 1501.0,94.0 C1514.3,95.0 1527.7,96.1 1541.0,97.2 C1554.3,98.4 1574.3,100.3 1581.0,100.9" stroke="#e6f3ff" stroke-opacity="0.45" stroke-width="2.4" stroke-dasharray="191 24" fill="none"/><path d="M388.8,250.4 C395.5,248.8 415.5,243.7 428.8,240.4 C442.2,237.2 455.5,234.0 468.8,230.9 C482.2,227.8 495.5,224.8 508.8,221.9 C522.2,219.0 535.5,216.1 548.8,213.3 C562.2,210.6 575.5,207.9 588.8,205.3 C602.2,202.6 615.5,200.1 628.8,197.7 C642.2,195.2 655.5,192.8 668.8,190.5 C682.2,188.2 695.5,186.0 708.8,183.9 C722.2,181.7 735.5,179.7 748.8,177.7 C762.2,175.7 775.5,173.8 788.8,172.0 C802.2,170.1 815.5,168.4 828.8,166.7 C842.2,165.1 855.5,163.5 868.8,162.0 C882.2,160.5 895.5,159.0 908.8,157.7 C922.2,156.3 935.5,155.1 948.8,153.9 C962.2,152.7 975.5,151.6 988.8,150.5 C1002.2,149.5 1015.5,148.6 1028.8,147.7 C1042.2,146.8 1055.5,146.0 1068.8,145.3 C1082.2,144.6 1095.5,143.9 1108.8,143.4 C1122.2,142.8 1135.5,142.3 1148.8,141.9 C1162.2,141.5 1175.5,141.2 1188.8,141.0 C1202.2,140.7 1215.5,140.6 1228.8,140.5 C1242.2,140.4 1255.5,140.4 1268.8,140.5 C1282.2,140.6 1295.5,140.8 1308.8,141.1 C1322.2,141.4 1335.5,141.8 1348.8,142.3 C1362.2,142.8 1375.5,143.4 1388.8,144.1 C1402.2,144.9 1415.5,145.7 1428.8,146.6 C1442.2,147.5 1455.5,148.5 1468.8,149.7 C1482.2,150.8 1495.5,152.0 1508.8,153.3 C1522.2,154.7 1535.5,156.1 1548.8,157.6 C1562.2,159.2 1575.5,160.8 1588.8,162.6 C1602.2,164.3 1615.5,166.1 1628.8,168.1 C1642.2,170.0 1662.2,173.2 1668.8,174.2" stroke="#0850c0" stroke-opacity="0.21" stroke-width="2.3" stroke-dasharray="147 45" fill="none"/><path d="M536.1,266.1 C542.8,264.5 562.8,259.6 576.1,256.4 C589.5,253.3 602.8,250.2 616.1,247.3 C629.5,244.3 642.8,241.5 656.1,238.7 C669.5,235.9 682.8,233.2 696.1,230.7 C709.5,228.1 722.8,225.6 736.1,223.2 C749.5,220.8 762.8,218.5 776.1,216.3 C789.5,214.1 802.8,212.0 816.1,210.0 C829.5,207.9 842.8,206.0 856.1,204.2 C869.5,202.3 882.8,200.6 896.1,198.9 C909.5,197.3 922.8,195.7 936.1,194.3 C949.5,192.8 962.8,191.4 976.1,190.2 C989.5,188.9 1002.8,187.7 1016.1,186.6 C1029.5,185.5 1042.8,184.5 1056.1,183.6 C1069.5,182.7 1082.8,181.9 1096.1,181.2 C1109.5,180.5 1122.8,179.8 1136.1,179.3 C1149.5,178.8 1162.8,178.4 1176.1,178.0 C1189.5,177.7 1202.8,177.4 1216.1,177.3 C1229.5,177.1 1242.8,177.0 1256.1,177.1 C1269.5,177.1 1282.8,177.3 1296.1,177.5 C1309.5,177.8 1329.5,178.5 1336.1,178.7" stroke="#e6f3ff" stroke-opacity="0.38" stroke-width="1.4" stroke-dasharray="144 15" fill="none"/><path d="M664.1,252.5 C670.7,251.1 690.7,246.7 704.1,244.0 C717.4,241.3 730.7,238.7 744.1,236.1 C757.4,233.6 770.7,231.2 784.1,228.8 C797.4,226.5 810.7,224.3 824.1,222.1 C837.4,220.0 850.7,218.0 864.1,216.1 C877.4,214.1 890.7,212.3 904.1,210.6 C917.4,208.8 930.7,207.2 944.1,205.7 C957.4,204.1 970.7,202.7 984.1,201.4 C997.4,200.1 1010.7,198.8 1024.1,197.7 C1037.4,196.6 1050.7,195.5 1064.1,194.6 C1077.4,193.7 1090.7,192.8 1104.1,192.1 C1117.4,191.4 1130.7,190.8 1144.1,190.2 C1157.4,189.7 1170.7,189.3 1184.1,188.9 C1197.4,188.6 1210.7,188.4 1224.1,188.2 C1237.4,188.1 1250.7,188.1 1264.1,188.2 C1277.4,188.3 1290.7,188.5 1304.1,188.8 C1317.4,189.2 1330.7,189.7 1344.1,190.3 C1357.4,190.9 1370.7,191.6 1384.1,192.5 C1397.4,193.4 1410.7,194.4 1424.1,195.5 C1437.4,196.6 1457.4,198.7 1464.1,199.3" stroke="#0850c0" stroke-opacity="0.20" stroke-width="2.3" stroke-dasharray="160 31" fill="none"/><path d="M652.9,188.0 C659.5,186.9 679.5,183.5 692.9,181.4 C706.2,179.3 719.5,177.2 732.9,175.2 C746.2,173.3 759.5,171.4 772.9,169.6 C786.2,167.8 799.5,166.0 812.9,164.4 C826.2,162.7 839.5,161.1 852.9,159.6 C866.2,158.1 879.5,156.7 892.9,155.3 C906.2,153.9 919.5,152.7 932.9,151.4 C946.2,150.2 959.5,149.1 972.9,148.1 C986.2,147.0 999.5,146.0 1012.9,145.1 C1026.2,144.2 1039.5,143.4 1052.9,142.6 C1066.2,141.9 1079.5,141.2 1092.9,140.6 C1106.2,140.0 1119.5,139.5 1132.9,139.1 C1146.2,138.6 1159.5,138.2 1172.9,138.0 C1186.2,137.7 1199.5,137.4 1212.9,137.3 C1226.2,137.2 1246.2,137.1 1252.9,137.1" stroke="#e6f3ff" stroke-opacity="0.44" stroke-width="1.2" stroke-dasharray="155 39" fill="none"/><path d="M701.4,188.2 C708.0,187.1 728.0,183.7 741.4,181.6 C754.7,179.5 768.0,177.5 781.4,175.6 C794.7,173.6 808.0,171.8 821.4,170.0 C834.7,168.2 848.0,166.5 861.4,164.9 C874.7,163.3 888.0,161.8 901.4,160.3 C914.7,158.9 928.0,157.5 941.4,156.2 C954.7,155.0 968.0,153.8 981.4,152.7 C994.7,151.5 1008.0,150.5 1021.4,149.6 C1034.7,148.6 1048.0,147.8 1061.4,147.0 C1074.7,146.2 1088.0,145.5 1101.4,144.9 C1114.7,144.3 1128.0,143.7 1141.4,143.3 C1154.7,142.8 1168.0,142.5 1181.4,142.2 C1194.7,141.9 1208.0,141.7 1221.4,141.6 C1234.7,141.5 1248.0,141.4 1261.4,141.5 C1274.7,141.5 1288.0,141.7 1301.4,142.0 C1314.7,142.3 1328.0,142.6 1341.4,143.1 C1354.7,143.6 1368.0,144.2 1381.4,144.9 C1394.7,145.6 1408.0,146.5 1421.4,147.4 C1434.7,148.3 1454.7,150.0 1461.4,150.5" stroke="#0850c0" stroke-opacity="0.14" stroke-width="1.8" stroke-dasharray="110 21" fill="none"/><path d="M728.3,219.2 C734.9,218.0 754.9,214.2 768.3,211.9 C781.6,209.6 794.9,207.4 808.3,205.2 C821.6,203.1 834.9,201.1 848.3,199.1 C861.6,197.2 874.9,195.3 888.3,193.6 C901.6,191.9 914.9,190.2 928.3,188.7 C941.6,187.1 954.9,185.7 968.3,184.3 C981.6,182.9 994.9,181.7 1008.3,180.5 C1021.6,179.3 1034.9,178.3 1048.3,177.3 C1061.6,176.3 1074.9,175.4 1088.3,174.7 C1101.6,173.9 1114.9,173.2 1128.3,172.6 C1141.6,172.0 1154.9,171.5 1168.3,171.1 C1181.6,170.8 1194.9,170.5 1208.3,170.3 C1221.6,170.1 1234.9,169.9 1248.3,169.9 C1261.6,169.9 1274.9,170.0 1288.3,170.3 C1301.6,170.5 1314.9,170.9 1328.3,171.4 C1341.6,171.9 1354.9,172.5 1368.3,173.2 C1381.6,174.0 1394.9,174.8 1408.3,175.8 C1421.6,176.8 1434.9,177.9 1448.3,179.2 C1461.6,180.4 1474.9,181.8 1488.3,183.3 C1501.6,184.8 1514.9,186.4 1528.3,188.1 C1541.6,189.9 1561.6,192.8 1568.3,193.8" stroke="#0850c0" stroke-opacity="0.20" stroke-width="1.9" stroke-dasharray="161 30" fill="none"/><path d="M710.6,209.4 C717.3,208.2 737.3,204.5 750.6,202.2 C764.0,200.0 777.3,197.8 790.6,195.7 C804.0,193.6 817.3,191.5 830.6,189.6 C844.0,187.7 857.3,185.9 870.6,184.1 C884.0,182.4 897.3,180.8 910.6,179.2 C924.0,177.7 937.3,176.2 950.6,174.8 C964.0,173.5 977.3,172.2 990.6,171.0 C1004.0,169.8 1017.3,168.7 1030.6,167.7 C1044.0,166.7 1057.3,165.8 1070.6,165.0 C1084.0,164.1 1097.3,163.4 1110.6,162.8 C1124.0,162.1 1137.3,161.6 1150.6,161.1 C1164.0,160.7 1177.3,160.3 1190.6,160.0 C1204.0,159.8 1217.3,159.6 1230.6,159.5 C1244.0,159.4 1257.3,159.4 1270.6,159.5 C1284.0,159.7 1297.3,159.9 1310.6,160.3 C1324.0,160.6 1337.3,161.1 1350.6,161.7 C1364.0,162.3 1377.3,163.0 1390.6,163.9 C1404.0,164.7 1424.0,166.2 1430.6,166.7" stroke="#0850c0" stroke-opacity="0.25" stroke-width="2.2" stroke-dasharray="248 20" fill="none"/><path d="M900.8,163.2 C907.5,162.5 927.5,160.1 940.8,158.6 C954.1,157.2 967.5,155.8 980.8,154.6 C994.1,153.3 1007.5,152.1 1020.8,151.1 C1034.1,150.0 1047.5,149.0 1060.8,148.1 C1074.1,147.3 1087.5,146.5 1100.8,145.8 C1114.1,145.1 1127.5,144.5 1140.8,143.9 C1154.1,143.4 1167.5,143.0 1180.8,142.7 C1194.1,142.4 1207.5,142.1 1220.8,142.0 C1234.1,141.9 1254.1,141.9 1260.8,141.9" stroke="#e6f3ff" stroke-opacity="0.33" stroke-width="1.1" stroke-dasharray="108 13" fill="none"/><path d="M936.2,174.2 C942.8,173.5 962.8,171.3 976.2,169.9 C989.5,168.6 1002.8,167.4 1016.2,166.3 C1029.5,165.1 1042.8,164.1 1056.2,163.2 C1069.5,162.2 1082.8,161.4 1096.2,160.7 C1109.5,159.9 1122.8,159.3 1136.2,158.7 C1149.5,158.2 1162.8,157.7 1176.2,157.4 C1189.5,157.0 1202.8,156.7 1216.2,156.6 C1229.5,156.4 1249.5,156.4 1256.2,156.4" stroke="#0850c0" stroke-opacity="0.24" stroke-width="1.2" stroke-dasharray="237 49" fill="none"/><path d="M626.9,152.1 C633.6,150.9 653.6,147.4 666.9,145.2 C680.3,143.0 693.6,140.9 706.9,138.8 C720.3,136.8 733.6,134.8 746.9,132.9 C760.3,131.0 773.6,129.2 786.9,127.4 C800.3,125.7 813.6,124.0 826.9,122.4 C840.3,120.8 853.6,119.2 866.9,117.8 C880.3,116.4 893.6,115.0 906.9,113.7 C920.3,112.4 933.6,111.2 946.9,110.0 C960.3,108.9 973.6,107.8 986.9,106.8 C1000.3,105.8 1013.6,104.9 1026.9,104.0 C1040.3,103.2 1053.6,102.4 1066.9,101.7 C1080.3,101.0 1093.6,100.4 1106.9,99.9 C1120.3,99.3 1133.6,98.9 1146.9,98.5 C1160.3,98.1 1173.6,97.8 1186.9,97.5 C1200.3,97.3 1213.6,97.1 1226.9,97.1 C1240.3,97.0 1253.6,97.0 1266.9,97.0 C1280.3,97.1 1293.6,97.3 1306.9,97.6 C1320.3,97.9 1333.6,98.2 1346.9,98.7 C1360.3,99.2 1373.6,99.8 1386.9,100.4 C1400.3,101.1 1420.3,102.4 1426.9,102.8" stroke="#0850c0" stroke-opacity="0.27" stroke-width="1.2" stroke-dasharray="146 31" fill="none"/><path d="M577.5,172.6 C584.2,171.5 604.2,168.0 617.5,165.7 C630.8,163.5 644.2,161.3 657.5,159.2 C670.8,157.2 684.2,155.1 697.5,153.2 C710.8,151.2 724.2,149.4 737.5,147.5 C750.8,145.7 764.2,144.0 777.5,142.3 C790.8,140.7 804.2,139.1 817.5,137.5 C830.8,136.0 844.2,134.5 857.5,133.2 C870.8,131.8 884.2,130.5 897.5,129.2 C910.8,128.0 924.2,126.8 937.5,125.7 C950.8,124.6 964.2,123.6 977.5,122.6 C990.8,121.6 1004.2,120.7 1017.5,119.9 C1030.8,119.1 1044.2,118.4 1057.5,117.7 C1070.8,117.0 1084.2,116.4 1097.5,115.8 C1110.8,115.3 1124.2,114.8 1137.5,114.4 C1150.8,114.0 1164.2,113.7 1177.5,113.5 C1190.8,113.2 1204.2,113.0 1217.5,112.9 C1230.8,112.8 1244.2,112.7 1257.5,112.8 C1270.8,112.8 1284.2,112.9 1297.5,113.2 C1310.8,113.4 1324.2,113.7 1337.5,114.1 C1350.8,114.5 1364.2,115.0 1377.5,115.6 C1390.8,116.1 1404.2,116.8 1417.5,117.6 C1430.8,118.4 1444.2,119.2 1457.5,120.2 C1470.8,121.1 1484.2,122.2 1497.5,123.3 C1510.8,124.4 1530.8,126.4 1537.5,127.0" stroke="#e6f3ff" stroke-opacity="0.37" stroke-width="1.6" stroke-dasharray="64 23" fill="none"/><path d="M419.9,265.7 C426.5,263.9 446.5,258.4 459.9,254.9 C473.2,251.4 486.5,247.9 499.9,244.6 C513.2,241.2 526.5,238.0 539.9,234.8 C553.2,231.6 566.5,228.5 579.9,225.5 C593.2,222.6 606.5,219.7 619.9,216.8 C633.2,214.0 646.5,211.3 659.9,208.7 C673.2,206.0 686.5,203.5 699.9,201.0 C713.2,198.6 726.5,196.2 739.9,193.9 C753.2,191.7 766.5,189.5 779.9,187.4 C793.2,185.3 806.5,183.3 819.9,181.3 C833.2,179.4 846.5,177.6 859.9,175.8 C873.2,174.1 886.5,172.4 899.9,170.9 C913.2,169.3 926.5,167.8 939.9,166.5 C953.2,165.1 966.5,163.8 979.9,162.6 C993.2,161.4 1006.5,160.3 1019.9,159.2 C1033.2,158.2 1046.5,157.3 1059.9,156.4 C1073.2,155.6 1086.5,154.8 1099.9,154.1 C1113.2,153.5 1126.5,152.9 1139.9,152.4 C1153.2,151.9 1166.5,151.5 1179.9,151.2 C1193.2,150.9 1206.5,150.6 1219.9,150.5 C1233.2,150.4 1246.5,150.3 1259.9,150.4 C1273.2,150.4 1286.5,150.6 1299.9,150.9 C1313.2,151.2 1326.5,151.6 1339.9,152.1 C1353.2,152.6 1366.5,153.3 1379.9,154.0 C1393.2,154.8 1406.5,155.7 1419.9,156.6 C1433.2,157.6 1446.5,158.7 1459.9,159.9 C1473.2,161.2 1486.5,162.5 1499.9,163.9 C1513.2,165.4 1526.5,167.0 1539.9,168.6 C1553.2,170.3 1566.5,172.1 1579.9,174.0 C1593.2,176.0 1606.5,178.0 1619.9,180.1 C1633.2,182.3 1653.2,185.8 1659.9,186.9" stroke="#0850c0" stroke-opacity="0.29" stroke-width="1.1" stroke-dasharray="113 12" fill="none"/><path d="M460.3,278.6 C467.0,276.9 487.0,271.4 500.3,268.0 C513.7,264.5 527.0,261.2 540.3,257.9 C553.7,254.6 567.0,251.4 580.3,248.4 C593.7,245.3 607.0,242.3 620.3,239.4 C633.7,236.5 647.0,233.7 660.3,230.9 C673.7,228.2 687.0,225.6 700.3,223.1 C713.7,220.5 727.0,218.1 740.3,215.7 C753.7,213.4 767.0,211.1 780.3,209.0 C793.7,206.8 807.0,204.7 820.3,202.7 C833.7,200.8 847.0,198.9 860.3,197.1 C873.7,195.3 887.0,193.6 900.3,192.0 C913.7,190.4 927.0,188.8 940.3,187.4 C953.7,186.0 967.0,184.6 980.3,183.4 C993.7,182.2 1007.0,181.0 1020.3,179.9 C1033.7,178.9 1047.0,177.9 1060.3,177.0 C1073.7,176.2 1087.0,175.4 1100.3,174.7 C1113.7,174.0 1127.0,173.4 1140.3,172.9 C1153.7,172.4 1167.0,172.0 1180.3,171.7 C1193.7,171.3 1207.0,171.1 1220.3,171.0 C1233.7,170.8 1247.0,170.8 1260.3,170.9 C1273.7,170.9 1287.0,171.1 1300.3,171.4 C1313.7,171.7 1327.0,172.1 1340.3,172.7 C1353.7,173.2 1373.7,174.3 1380.3,174.6" stroke="#0850c0" stroke-opacity="0.27" stroke-width="1.4" stroke-dasharray="90 47" fill="none"/><path d="M435.5,255.2 C442.1,253.4 462.1,248.0 475.5,244.5 C488.8,241.0 502.1,237.6 515.5,234.3 C528.8,231.0 542.1,227.8 555.5,224.7 C568.8,221.5 582.1,218.5 595.5,215.6 C608.8,212.6 622.1,209.8 635.5,207.0 C648.8,204.2 662.1,201.6 675.5,199.0 C688.8,196.4 702.1,193.9 715.5,191.5 C728.8,189.1 742.1,186.8 755.5,184.6 C768.8,182.3 782.1,180.2 795.5,178.2 C808.8,176.1 822.1,174.2 835.5,172.3 C848.8,170.4 862.1,168.7 875.5,167.0 C888.8,165.3 902.1,163.7 915.5,162.2 C928.8,160.7 942.1,159.3 955.5,157.9 C968.8,156.6 982.1,155.4 995.5,154.2 C1008.8,153.1 1022.1,152.0 1035.5,151.1 C1048.8,150.1 1062.1,149.2 1075.5,148.5 C1088.8,147.7 1102.1,147.0 1115.5,146.4 C1128.8,145.8 1142.1,145.3 1155.5,144.8 C1168.8,144.4 1188.8,144.0 1195.5,143.8" stroke="#0850c0" stroke-opacity="0.20" stroke-width="1.1" stroke-dasharray="248 35" fill="none"/><path d="M910.9,193.1 C917.5,192.4 937.5,190.2 950.9,188.8 C964.2,187.5 977.5,186.3 990.9,185.1 C1004.2,183.9 1017.5,182.9 1030.9,181.9 C1044.2,180.9 1057.5,180.0 1070.9,179.2 C1084.2,178.4 1097.5,177.7 1110.9,177.1 C1124.2,176.4 1137.5,175.9 1150.9,175.5 C1164.2,175.0 1177.5,174.7 1190.9,174.4 C1204.2,174.1 1224.2,174.0 1230.9,173.9" stroke="#0850c0" stroke-opacity="0.20" stroke-width="1.5" stroke-dasharray="171 47" fill="none"/><path d="M706.7,140.1 C713.4,139.2 733.4,136.6 746.7,134.9 C760.0,133.2 773.4,131.6 786.7,130.1 C800.0,128.5 813.4,127.1 826.7,125.7 C840.0,124.3 853.4,122.9 866.7,121.7 C880.0,120.4 893.4,119.2 906.7,118.0 C920.0,116.9 933.4,115.8 946.7,114.8 C960.0,113.8 973.4,112.9 986.7,112.0 C1000.0,111.1 1013.4,110.3 1026.7,109.6 C1040.0,108.8 1053.4,108.1 1066.7,107.5 C1080.0,106.9 1093.4,106.4 1106.7,105.9 C1120.0,105.4 1133.4,105.0 1146.7,104.7 C1160.0,104.3 1173.4,104.1 1186.7,103.9 C1200.0,103.6 1213.4,103.5 1226.7,103.4 C1240.0,103.3 1253.4,103.3 1266.7,103.4 C1280.0,103.5 1300.0,103.8 1306.7,103.9" stroke="#e6f3ff" stroke-opacity="0.25" stroke-width="1.1" stroke-dasharray="100 22" fill="none"/><path d="M559.8,177.4 C566.4,176.1 586.4,172.1 599.8,169.6 C613.1,167.1 626.4,164.6 639.8,162.3 C653.1,159.9 666.4,157.6 679.8,155.4 C693.1,153.2 706.4,151.1 719.8,149.0 C733.1,147.0 746.4,145.0 759.8,143.1 C773.1,141.2 786.4,139.4 799.8,137.7 C813.1,135.9 826.4,134.3 839.8,132.7 C853.1,131.1 866.4,129.6 879.8,128.1 C893.1,126.7 906.4,125.4 919.8,124.1 C933.1,122.8 946.4,121.6 959.8,120.5 C973.1,119.4 986.4,118.3 999.8,117.3 C1013.1,116.4 1026.4,115.5 1039.8,114.7 C1053.1,113.9 1066.4,113.1 1079.8,112.5 C1093.1,111.8 1106.4,111.2 1119.8,110.7 C1133.1,110.2 1146.4,109.8 1159.8,109.4 C1173.1,109.1 1186.4,108.8 1199.8,108.6 C1213.1,108.4 1226.4,108.3 1239.8,108.3 C1253.1,108.2 1266.4,108.3 1279.8,108.4 C1293.1,108.6 1306.4,108.8 1319.8,109.2 C1333.1,109.5 1346.4,110.0 1359.8,110.5 C1373.1,111.1 1386.4,111.7 1399.8,112.5 C1413.1,113.2 1433.1,114.6 1439.8,115.1" stroke="#e6f3ff" stroke-opacity="0.30" stroke-width="1.0" stroke-dasharray="110 11" fill="none"/><path d="M497.5,266.0 C504.1,264.3 524.1,258.9 537.5,255.5 C550.8,252.1 564.1,248.8 577.5,245.6 C590.8,242.4 604.1,239.3 617.5,236.3 C630.8,233.3 644.1,230.4 657.5,227.5 C670.8,224.7 684.1,222.0 697.5,219.4 C710.8,216.7 724.1,214.2 737.5,211.7 C750.8,209.3 764.1,206.9 777.5,204.7 C790.8,202.4 804.1,200.3 817.5,198.2 C830.8,196.2 844.1,194.2 857.5,192.3 C870.8,190.4 884.1,188.7 897.5,187.0 C910.8,185.3 924.1,183.7 937.5,182.2 C950.8,180.7 964.1,179.3 977.5,178.0 C990.8,176.7 1004.1,175.5 1017.5,174.4 C1030.8,173.3 1044.1,172.3 1057.5,171.4 C1070.8,170.5 1084.1,169.7 1097.5,168.9 C1110.8,168.2 1124.1,167.6 1137.5,167.0 C1150.8,166.5 1164.1,166.1 1177.5,165.7 C1190.8,165.4 1204.1,165.1 1217.5,165.0 C1230.8,164.8 1244.1,164.7 1257.5,164.8 C1270.8,164.8 1284.1,165.0 1297.5,165.3 C1310.8,165.6 1324.1,166.0 1337.5,166.5 C1350.8,167.1 1364.1,167.8 1377.5,168.5 C1390.8,169.3 1410.8,170.8 1417.5,171.3" stroke="#0850c0" stroke-opacity="0.14" stroke-width="2.1" stroke-dasharray="146 30" fill="none"/><path d="M694.1,234.5 C700.8,233.2 720.8,229.2 734.1,226.7 C747.5,224.2 760.8,221.8 774.1,219.4 C787.5,217.1 800.8,214.9 814.1,212.8 C827.5,210.7 840.8,208.7 854.1,206.7 C867.5,204.8 880.8,203.0 894.1,201.3 C907.5,199.5 920.8,197.9 934.1,196.4 C947.5,194.8 960.8,193.4 974.1,192.0 C987.5,190.7 1000.8,189.5 1014.1,188.3 C1027.5,187.2 1040.8,186.1 1054.1,185.2 C1067.5,184.2 1080.8,183.4 1094.1,182.6 C1107.5,181.8 1120.8,181.2 1134.1,180.6 C1147.5,180.1 1160.8,179.6 1174.1,179.2 C1187.5,178.8 1200.8,178.6 1214.1,178.4 C1227.5,178.2 1240.8,178.1 1254.1,178.2 C1267.5,178.2 1280.8,178.4 1294.1,178.6 C1307.5,178.9 1320.8,179.3 1334.1,179.8 C1347.5,180.4 1360.8,181.0 1374.1,181.8 C1387.5,182.6 1400.8,183.5 1414.1,184.6 C1427.5,185.6 1440.8,186.8 1454.1,188.0 C1467.5,189.3 1480.8,190.8 1494.1,192.3 C1507.5,193.8 1527.5,196.5 1534.1,197.3" stroke="#0850c0" stroke-opacity="0.18" stroke-width="2.2" stroke-dasharray="201 35" fill="none"/><path d="M413.7,221.1 C420.4,219.5 440.4,214.8 453.7,211.8 C467.1,208.7 480.4,205.8 493.7,202.9 C507.1,200.1 520.4,197.3 533.7,194.5 C547.1,191.8 560.4,189.2 573.7,186.6 C587.1,184.0 600.4,181.5 613.7,179.1 C627.1,176.7 640.4,174.4 653.7,172.1 C667.1,169.8 680.4,167.6 693.7,165.5 C707.1,163.4 720.4,161.4 733.7,159.4 C747.1,157.4 760.4,155.6 773.7,153.7 C787.1,151.9 800.4,150.2 813.7,148.5 C827.1,146.9 840.4,145.3 853.7,143.8 C867.1,142.3 880.4,140.9 893.7,139.5 C907.1,138.2 920.4,136.9 933.7,135.7 C947.1,134.5 960.4,133.3 973.7,132.3 C987.1,131.2 1000.4,130.3 1013.7,129.4 C1027.1,128.5 1040.4,127.7 1053.7,126.9 C1067.1,126.2 1080.4,125.5 1093.7,124.9 C1107.1,124.3 1120.4,123.8 1133.7,123.3 C1147.1,122.9 1160.4,122.5 1173.7,122.2 C1187.1,122.0 1200.4,121.7 1213.7,121.6 C1227.1,121.5 1247.1,121.5 1253.7,121.4" stroke="#e6f3ff" stroke-opacity="0.42" stroke-width="1.4" stroke-dasharray="93 13" fill="none"/><path d="M795.7,220.5 C802.4,219.3 822.4,215.7 835.7,213.5 C849.1,211.3 862.4,209.2 875.7,207.2 C889.1,205.2 902.4,203.3 915.7,201.5 C929.1,199.7 942.4,198.0 955.7,196.4 C969.1,194.9 982.4,193.4 995.7,192.0 C1009.1,190.7 1022.4,189.4 1035.7,188.3 C1049.1,187.1 1062.4,186.1 1075.7,185.1 C1089.1,184.2 1102.4,183.4 1115.7,182.7 C1129.1,181.9 1142.4,181.3 1155.7,180.8 C1169.1,180.3 1182.4,179.9 1195.7,179.6 C1209.1,179.3 1222.4,179.2 1235.7,179.1 C1249.1,179.0 1262.4,179.0 1275.7,179.2 C1289.1,179.4 1309.1,180.0 1315.7,180.2" stroke="#e6f3ff" stroke-opacity="0.29" stroke-width="1.6" stroke-dasharray="92 28" fill="none"/><path d="M983.0,113.2 C989.7,112.7 1009.7,111.2 1023.0,110.3 C1036.4,109.4 1049.7,108.6 1063.0,107.9 C1076.4,107.1 1089.7,106.5 1103.0,105.9 C1116.4,105.3 1129.7,104.8 1143.0,104.4 C1156.4,104.0 1169.7,103.7 1183.0,103.4 C1196.4,103.1 1209.7,103.0 1223.0,102.9 C1236.4,102.8 1249.7,102.7 1263.0,102.8 C1276.4,102.9 1289.7,103.0 1303.0,103.3 C1316.4,103.6 1329.7,103.9 1343.0,104.4 C1356.4,104.9 1369.7,105.4 1383.0,106.1 C1396.4,106.8 1409.7,107.6 1423.0,108.4 C1436.4,109.3 1456.4,110.9 1463.0,111.4" stroke="#e6f3ff" stroke-opacity="0.49" stroke-width="1.4" stroke-dasharray="131 10" fill="none"/><path d="M691.7,163.3 C698.4,162.3 718.4,159.1 731.7,157.1 C745.0,155.1 758.4,153.2 771.7,151.3 C785.0,149.5 798.4,147.7 811.7,146.1 C825.0,144.4 838.4,142.8 851.7,141.2 C865.0,139.7 878.4,138.3 891.7,136.9 C905.0,135.5 918.4,134.2 931.7,133.0 C945.0,131.8 958.4,130.6 971.7,129.5 C985.0,128.5 998.4,127.5 1011.7,126.6 C1025.0,125.6 1038.4,124.8 1051.7,124.0 C1065.0,123.3 1078.4,122.6 1091.7,122.0 C1105.0,121.4 1118.4,120.8 1131.7,120.4 C1145.0,119.9 1158.4,119.6 1171.7,119.3 C1185.0,119.0 1198.4,118.7 1211.7,118.6 C1225.0,118.4 1238.4,118.4 1251.7,118.4 C1265.0,118.4 1285.0,118.6 1291.7,118.7" stroke="#e6f3ff" stroke-opacity="0.20" stroke-width="1.4" stroke-dasharray="78 26" fill="none"/><path d="M568.6,121.3 C575.3,120.4 595.3,117.6 608.6,115.8 C622.0,114.1 635.3,112.4 648.6,110.7 C662.0,109.1 675.3,107.5 688.6,105.9 C702.0,104.4 715.3,102.9 728.6,101.5 C742.0,100.1 755.3,98.7 768.6,97.4 C782.0,96.0 795.3,94.8 808.6,93.6 C822.0,92.3 835.3,91.2 848.6,90.1 C862.0,89.0 875.3,87.9 888.6,86.9 C902.0,86.0 915.3,85.0 928.6,84.1 C942.0,83.2 955.3,82.4 968.6,81.6 C982.0,80.9 995.3,80.2 1008.6,79.5 C1022.0,78.8 1035.3,78.2 1048.6,77.7 C1062.0,77.1 1075.3,76.6 1088.6,76.2 C1102.0,75.7 1115.3,75.3 1128.6,75.0 C1142.0,74.7 1155.3,74.4 1168.6,74.2 C1182.0,74.0 1195.3,73.8 1208.6,73.7 C1222.0,73.6 1235.3,73.5 1248.6,73.5 C1262.0,73.5 1282.0,73.7 1288.6,73.7" stroke="#0850c0" stroke-opacity="0.22" stroke-width="2.1" stroke-dasharray="192 39" fill="none"/><path d="M582.2,267.0 C588.9,265.4 608.9,260.5 622.2,257.4 C635.5,254.3 648.9,251.3 662.2,248.3 C675.5,245.4 688.9,242.6 702.2,239.9 C715.5,237.2 728.9,234.6 742.2,232.0 C755.5,229.5 768.9,227.1 782.2,224.8 C795.5,222.4 808.9,220.2 822.2,218.1 C835.5,216.0 848.9,214.0 862.2,212.0 C875.5,210.1 888.9,208.3 902.2,206.6 C915.5,204.8 928.9,203.2 942.2,201.7 C955.5,200.1 968.9,198.7 982.2,197.4 C995.5,196.1 1008.9,194.8 1022.2,193.7 C1035.5,192.6 1048.9,191.5 1062.2,190.6 C1075.5,189.7 1088.9,188.8 1102.2,188.1 C1115.5,187.4 1128.9,186.7 1142.2,186.2 C1155.5,185.7 1168.9,185.2 1182.2,184.9 C1195.5,184.6 1208.9,184.3 1222.2,184.2 C1235.5,184.0 1248.9,184.0 1262.2,184.1 C1275.5,184.2 1288.9,184.4 1302.2,184.7 C1315.5,185.0 1328.9,185.5 1342.2,186.1 C1355.5,186.7 1368.9,187.4 1382.2,188.3 C1395.5,189.1 1408.9,190.1 1422.2,191.2 C1435.5,192.3 1448.9,193.6 1462.2,194.9 C1475.5,196.3 1488.9,197.8 1502.2,199.4 C1515.5,201.1 1528.9,202.8 1542.2,204.7 C1555.5,206.6 1568.9,208.6 1582.2,210.7 C1595.5,212.9 1608.9,215.2 1622.2,217.6 C1635.5,220.0 1655.5,223.9 1662.2,225.2" stroke="#e6f3ff" stroke-opacity="0.42" stroke-width="1.9" stroke-dasharray="69 43" fill="none"/><path d="M835.0,219.6 C841.7,218.5 861.7,215.3 875.0,213.4 C888.3,211.4 901.7,209.5 915.0,207.8 C928.3,206.0 941.7,204.4 955.0,202.8 C968.3,201.3 981.7,199.8 995.0,198.5 C1008.3,197.2 1021.7,195.9 1035.0,194.8 C1048.3,193.7 1061.7,192.7 1075.0,191.8 C1088.3,190.8 1101.7,190.0 1115.0,189.3 C1128.3,188.6 1141.7,188.0 1155.0,187.5 C1168.3,187.0 1181.7,186.6 1195.0,186.3 C1208.3,186.0 1221.7,185.9 1235.0,185.8 C1248.3,185.7 1261.7,185.7 1275.0,185.9 C1288.3,186.1 1301.7,186.4 1315.0,186.8 C1328.3,187.3 1341.7,187.8 1355.0,188.6 C1368.3,189.3 1381.7,190.1 1395.0,191.1 C1408.3,192.1 1421.7,193.2 1435.0,194.5 C1448.3,195.7 1461.7,197.1 1475.0,198.7 C1488.3,200.2 1501.7,201.9 1515.0,203.7 C1528.3,205.5 1541.7,207.4 1555.0,209.5 C1568.3,211.6 1588.3,215.0 1595.0,216.1" stroke="#e6f3ff" stroke-opacity="0.36" stroke-width="1.7" stroke-dasharray="227 42" fill="none"/><path d="M933.6,196.0 C940.2,195.2 960.2,192.9 973.6,191.5 C986.9,190.1 1000.2,188.8 1013.6,187.6 C1026.9,186.4 1040.2,185.4 1053.6,184.4 C1066.9,183.4 1080.2,182.5 1093.6,181.7 C1106.9,180.9 1120.2,180.2 1133.6,179.6 C1146.9,179.1 1160.2,178.6 1173.6,178.2 C1186.9,177.8 1200.2,177.5 1213.6,177.3 C1226.9,177.2 1240.2,177.1 1253.6,177.1 C1266.9,177.1 1280.2,177.3 1293.6,177.6 C1306.9,177.8 1320.2,178.3 1333.6,178.8 C1346.9,179.3 1360.2,180.0 1373.6,180.8 C1386.9,181.6 1400.2,182.6 1413.6,183.6 C1426.9,184.7 1440.2,185.9 1453.6,187.2 C1466.9,188.6 1480.2,190.0 1493.6,191.6 C1506.9,193.2 1526.9,195.9 1533.6,196.8" stroke="#0850c0" stroke-opacity="0.16" stroke-width="1.0" stroke-dasharray="87 24" fill="none"/><path d="M726.3,116.9 C733.0,116.0 753.0,113.4 766.3,111.7 C779.6,110.1 793.0,108.5 806.3,107.0 C819.6,105.5 833.0,104.0 846.3,102.6 C859.6,101.3 873.0,100.0 886.3,98.7 C899.6,97.5 913.0,96.3 926.3,95.2 C939.6,94.1 953.0,93.1 966.3,92.1 C979.6,91.2 993.0,90.3 1006.3,89.4 C1019.6,88.6 1033.0,87.8 1046.3,87.1 C1059.6,86.5 1073.0,85.8 1086.3,85.3 C1099.6,84.7 1113.0,84.2 1126.3,83.8 C1139.6,83.4 1153.0,83.0 1166.3,82.7 C1179.6,82.5 1193.0,82.2 1206.3,82.1 C1219.6,81.9 1233.0,81.9 1246.3,81.9 C1259.6,81.8 1273.0,81.9 1286.3,82.1 C1299.6,82.2 1313.0,82.5 1326.3,82.8 C1339.6,83.2 1353.0,83.6 1366.3,84.1 C1379.6,84.6 1393.0,85.2 1406.3,85.9 C1419.6,86.6 1433.0,87.4 1446.3,88.2 C1459.6,89.1 1479.6,90.6 1486.3,91.1" stroke="#0850c0" stroke-opacity="0.24" stroke-width="1.7" stroke-dasharray="61 42" fill="none"/><path d="M711.8,218.5 C718.5,217.2 738.5,213.4 751.8,211.1 C765.2,208.7 778.5,206.4 791.8,204.2 C805.2,202.1 818.5,200.0 831.8,198.0 C845.2,196.0 858.5,194.1 871.8,192.3 C885.2,190.5 898.5,188.8 911.8,187.2 C925.2,185.6 938.5,184.1 951.8,182.6 C965.2,181.2 978.5,179.9 991.8,178.7 C1005.2,177.4 1018.5,176.3 1031.8,175.3 C1045.2,174.2 1058.5,173.3 1071.8,172.4 C1085.2,171.6 1098.5,170.8 1111.8,170.2 C1125.2,169.5 1138.5,169.0 1151.8,168.5 C1165.2,168.0 1178.5,167.7 1191.8,167.4 C1205.2,167.1 1218.5,166.9 1231.8,166.8 C1245.2,166.7 1258.5,166.7 1271.8,166.9 C1285.2,167.0 1298.5,167.3 1311.8,167.7 C1325.2,168.0 1338.5,168.5 1351.8,169.2 C1365.2,169.8 1378.5,170.6 1391.8,171.4 C1405.2,172.3 1418.5,173.3 1431.8,174.4 C1445.2,175.6 1458.5,176.8 1471.8,178.2 C1485.2,179.6 1505.2,181.9 1511.8,182.7" stroke="#e6f3ff" stroke-opacity="0.42" stroke-width="1.4" stroke-dasharray="75 21" fill="none"/><path d="M838.7,192.4 C845.4,191.5 865.4,188.8 878.7,187.2 C892.0,185.5 905.4,184.0 918.7,182.5 C932.0,181.1 945.4,179.7 958.7,178.4 C972.0,177.1 985.4,175.9 998.7,174.8 C1012.0,173.7 1025.4,172.6 1038.7,171.7 C1052.0,170.8 1065.4,169.9 1078.7,169.2 C1092.0,168.4 1105.4,167.7 1118.7,167.1 C1132.0,166.6 1145.4,166.1 1158.7,165.7 C1172.0,165.3 1185.4,164.9 1198.7,164.7 C1212.0,164.5 1225.4,164.3 1238.7,164.3 C1252.0,164.3 1265.4,164.3 1278.7,164.5 C1292.0,164.6 1305.4,164.9 1318.7,165.3 C1332.0,165.7 1345.4,166.2 1358.7,166.8 C1372.0,167.5 1385.4,168.2 1398.7,169.1 C1412.0,169.9 1425.4,170.9 1438.7,172.0 C1452.0,173.1 1465.4,174.3 1478.7,175.6 C1492.0,176.9 1505.4,178.3 1518.7,179.9 C1532.0,181.4 1545.4,183.1 1558.7,184.9 C1572.0,186.6 1585.4,188.5 1598.7,190.5 C1612.0,192.6 1625.4,194.7 1638.7,196.9 C1652.0,199.2 1672.0,202.8 1678.7,204.0" stroke="#e6f3ff" stroke-opacity="0.31" stroke-width="1.7" stroke-dasharray="197 41" fill="none"/><path d="M428.0,265.1 C434.7,263.2 454.7,257.7 468.0,254.1 C481.4,250.5 494.7,247.0 508.0,243.7 C521.4,240.3 534.7,237.0 548.0,233.8 C561.4,230.6 574.7,227.5 588.0,224.4 C601.4,221.4 614.7,218.5 628.0,215.6 C641.4,212.8 654.7,210.1 668.0,207.4 C681.4,204.7 694.7,202.2 708.0,199.7 C721.4,197.2 734.7,194.9 748.0,192.6 C761.4,190.3 774.7,188.1 788.0,186.0 C801.4,183.9 814.7,181.8 828.0,179.9 C841.4,178.0 854.7,176.2 868.0,174.4 C881.4,172.7 894.7,171.0 908.0,169.5 C921.4,167.9 934.7,166.4 948.0,165.0 C961.4,163.7 974.7,162.4 988.0,161.2 C1001.4,160.0 1014.7,158.9 1028.0,157.9 C1041.4,156.9 1054.7,155.9 1068.0,155.1 C1081.4,154.3 1094.7,153.5 1108.0,152.9 C1121.4,152.2 1134.7,151.7 1148.0,151.2 C1161.4,150.8 1174.7,150.4 1188.0,150.1 C1201.4,149.8 1214.7,149.6 1228.0,149.5 C1241.4,149.4 1261.4,149.5 1268.0,149.5" stroke="#e6f3ff" stroke-opacity="0.42" stroke-width="1.4" stroke-dasharray="174 10" fill="none"/><path d="M796.6,98.7 C803.3,98.0 823.3,96.1 836.6,94.8 C850.0,93.6 863.3,92.5 876.6,91.4 C890.0,90.3 903.3,89.2 916.6,88.3 C930.0,87.3 943.3,86.4 956.6,85.5 C970.0,84.6 983.3,83.8 996.6,83.1 C1010.0,82.3 1023.3,81.7 1036.6,81.0 C1050.0,80.4 1063.3,79.8 1076.6,79.3 C1090.0,78.8 1103.3,78.4 1116.6,78.0 C1130.0,77.6 1143.3,77.2 1156.6,77.0 C1170.0,76.7 1183.3,76.5 1196.6,76.3 C1210.0,76.2 1223.3,76.1 1236.6,76.0 C1250.0,76.0 1263.3,76.0 1276.6,76.1 C1290.0,76.2 1303.3,76.4 1316.6,76.6 C1330.0,76.9 1343.3,77.2 1356.6,77.6 C1370.0,78.0 1383.3,78.5 1396.6,79.1 C1410.0,79.6 1423.3,80.3 1436.6,81.0 C1450.0,81.7 1463.3,82.5 1476.6,83.4 C1490.0,84.2 1510.0,85.7 1516.6,86.2" stroke="#0850c0" stroke-opacity="0.17" stroke-width="1.7" stroke-dasharray="153 29" fill="none"/><path d="M503.5,156.3 C510.2,155.0 530.2,151.2 543.5,148.7 C556.9,146.2 570.2,143.9 583.5,141.5 C596.9,139.2 610.2,137.0 623.5,134.8 C636.9,132.6 650.2,130.5 663.5,128.5 C676.9,126.4 690.2,124.5 703.5,122.6 C716.9,120.7 730.2,118.8 743.5,117.1 C756.9,115.3 770.2,113.6 783.5,112.0 C796.9,110.4 810.2,108.8 823.5,107.3 C836.9,105.9 850.2,104.5 863.5,103.1 C876.9,101.8 890.2,100.5 903.5,99.3 C916.9,98.1 930.2,96.9 943.5,95.9 C956.9,94.8 970.2,93.8 983.5,92.9 C996.9,92.0 1010.2,91.1 1023.5,90.3 C1036.9,89.5 1050.2,88.8 1063.5,88.2 C1076.9,87.5 1090.2,86.9 1103.5,86.4 C1116.9,85.9 1130.2,85.5 1143.5,85.1 C1156.9,84.7 1170.2,84.4 1183.5,84.2 C1196.9,84.0 1210.2,83.8 1223.5,83.7 C1236.9,83.6 1250.2,83.6 1263.5,83.7 C1276.9,83.7 1290.2,83.9 1303.5,84.1 C1316.9,84.4 1330.2,84.7 1343.5,85.1 C1356.9,85.5 1370.2,86.1 1383.5,86.7 C1396.9,87.3 1410.2,88.0 1423.5,88.7 C1436.9,89.5 1450.2,90.4 1463.5,91.4 C1476.9,92.3 1490.2,93.4 1503.5,94.5 C1516.9,95.7 1530.2,96.9 1543.5,98.2 C1556.9,99.6 1570.2,101.0 1583.5,102.5 C1596.9,104.0 1610.2,105.6 1623.5,107.3 C1636.9,109.0 1656.9,111.7 1663.5,112.6" stroke="#0850c0" stroke-opacity="0.12" stroke-width="1.6" stroke-dasharray="224 49" fill="none"/><path d="M510.1,206.2 C516.8,204.8 536.8,200.6 550.1,197.9 C563.4,195.2 576.8,192.6 590.1,190.1 C603.4,187.5 616.8,185.1 630.1,182.7 C643.4,180.3 656.8,178.0 670.1,175.8 C683.4,173.6 696.8,171.4 710.1,169.3 C723.4,167.3 736.8,165.3 750.1,163.3 C763.4,161.4 776.8,159.6 790.1,157.8 C803.4,156.0 816.8,154.3 830.1,152.7 C843.4,151.1 856.8,149.6 870.1,148.1 C883.4,146.7 896.8,145.3 910.1,144.0 C923.4,142.7 936.8,141.4 950.1,140.3 C963.4,139.1 976.8,138.1 990.1,137.1 C1003.4,136.1 1016.8,135.1 1030.1,134.3 C1043.4,133.4 1056.8,132.7 1070.1,132.0 C1083.4,131.3 1096.8,130.7 1110.1,130.1 C1123.4,129.6 1136.8,129.1 1150.1,128.8 C1163.4,128.4 1176.8,128.1 1190.1,127.8 C1203.4,127.6 1216.8,127.5 1230.1,127.4 C1243.4,127.3 1256.8,127.3 1270.1,127.4 C1283.4,127.5 1296.8,127.7 1310.1,128.0 C1323.4,128.3 1336.8,128.7 1350.1,129.2 C1363.4,129.7 1376.8,130.3 1390.1,131.0 C1403.4,131.7 1416.8,132.5 1430.1,133.4 C1443.4,134.3 1456.8,135.3 1470.1,136.4 C1483.4,137.5 1496.8,138.7 1510.1,140.0 C1523.4,141.3 1536.8,142.7 1550.1,144.2 C1563.4,145.7 1576.8,147.3 1590.1,149.0 C1603.4,150.7 1616.8,152.5 1630.1,154.4 C1643.4,156.3 1663.4,159.4 1670.1,160.4" stroke="#e6f3ff" stroke-opacity="0.37" stroke-width="1.2" stroke-dasharray="165 48" fill="none"/><path d="M695.4,125.5 C702.1,124.5 722.1,121.7 735.4,119.9 C748.8,118.1 762.1,116.4 775.4,114.8 C788.8,113.1 802.1,111.5 815.4,110.0 C828.8,108.5 842.1,107.1 855.4,105.7 C868.8,104.4 882.1,103.1 895.4,101.8 C908.8,100.6 922.1,99.5 935.4,98.4 C948.8,97.3 962.1,96.3 975.4,95.3 C988.8,94.3 1002.1,93.5 1015.4,92.7 C1028.8,91.8 1042.1,91.1 1055.4,90.4 C1068.8,89.7 1082.1,89.1 1095.4,88.6 C1108.8,88.1 1122.1,87.6 1135.4,87.2 C1148.8,86.8 1162.1,86.5 1175.4,86.2 C1188.8,86.0 1202.1,85.8 1215.4,85.7 C1228.8,85.5 1242.1,85.5 1255.4,85.5 C1268.8,85.5 1282.1,85.6 1295.4,85.9 C1308.8,86.1 1322.1,86.4 1335.4,86.7 C1348.8,87.1 1362.1,87.6 1375.4,88.2 C1388.8,88.7 1402.1,89.4 1415.4,90.1 C1428.8,90.9 1442.1,91.7 1455.4,92.6 C1468.8,93.6 1482.1,94.6 1495.4,95.7 C1508.8,96.8 1522.1,98.0 1535.4,99.3 C1548.8,100.6 1562.1,101.9 1575.4,103.4 C1588.8,104.9 1608.8,107.3 1615.4,108.1" stroke="#0850c0" stroke-opacity="0.16" stroke-width="2.3" stroke-dasharray="157 11" fill="none"/><path d="M659.5,106.9 C666.1,106.0 686.1,103.5 699.5,101.9 C712.8,100.2 726.1,98.7 739.5,97.2 C752.8,95.7 766.1,94.2 779.5,92.9 C792.8,91.5 806.1,90.2 819.5,88.9 C832.8,87.6 846.1,86.4 859.5,85.3 C872.8,84.1 886.1,83.0 899.5,82.0 C912.8,81.0 926.1,80.0 939.5,79.1 C952.8,78.2 966.1,77.3 979.5,76.5 C992.8,75.7 1006.1,75.0 1019.5,74.3 C1032.8,73.7 1046.1,73.0 1059.5,72.5 C1072.8,71.9 1086.1,71.4 1099.5,71.0 C1112.8,70.5 1126.1,70.1 1139.5,69.8 C1152.8,69.5 1166.1,69.2 1179.5,69.0 C1192.8,68.8 1206.1,68.7 1219.5,68.6 C1232.8,68.5 1246.1,68.4 1259.5,68.5 C1272.8,68.5 1286.1,68.6 1299.5,68.8 C1312.8,69.0 1332.8,69.5 1339.5,69.6" stroke="#e6f3ff" stroke-opacity="0.30" stroke-width="1.4" stroke-dasharray="228 10" fill="none"/><path d="M454.4,287.8 C461.1,285.8 481.1,279.8 494.4,276.0 C507.8,272.1 521.1,268.4 534.4,264.8 C547.8,261.1 561.1,257.6 574.4,254.1 C587.8,250.7 601.1,247.4 614.4,244.1 C627.8,240.9 641.1,237.8 654.4,234.7 C667.8,231.7 681.1,228.8 694.4,226.0 C707.8,223.1 721.1,220.4 734.4,217.8 C747.8,215.2 761.1,212.7 774.4,210.2 C787.8,207.8 801.1,205.5 814.4,203.3 C827.8,201.1 841.1,199.0 854.4,196.9 C867.8,194.9 881.1,193.0 894.4,191.2 C907.8,189.4 921.1,187.7 934.4,186.1 C947.8,184.5 961.1,183.0 974.4,181.6 C987.8,180.2 1001.1,178.9 1014.4,177.7 C1027.8,176.5 1041.1,175.4 1054.4,174.4 C1067.8,173.4 1081.1,172.5 1094.4,171.7 C1107.8,170.9 1121.1,170.2 1134.4,169.6 C1147.8,169.1 1161.1,168.6 1174.4,168.2 C1187.8,167.8 1201.1,167.5 1214.4,167.3 C1227.8,167.2 1241.1,167.1 1254.4,167.1 C1267.8,167.1 1281.1,167.3 1294.4,167.6 C1307.8,167.9 1321.1,168.3 1334.4,168.9 C1347.8,169.4 1361.1,170.1 1374.4,170.9 C1387.8,171.8 1401.1,172.7 1414.4,173.8 C1427.8,174.9 1441.1,176.1 1454.4,177.5 C1467.8,178.8 1481.1,180.3 1494.4,181.9 C1507.8,183.5 1521.1,185.3 1534.4,187.2 C1547.8,189.0 1561.1,191.0 1574.4,193.2 C1587.8,195.3 1601.1,197.6 1614.4,200.0 C1627.8,202.4 1647.8,206.4 1654.4,207.6" stroke="#0850c0" stroke-opacity="0.28" stroke-width="1.4" stroke-dasharray="134 26" fill="none"/><path d="M603.6,285.4 C610.3,283.7 630.3,278.5 643.6,275.2 C657.0,271.9 670.3,268.6 683.6,265.6 C697.0,262.5 710.3,259.5 723.6,256.6 C737.0,253.7 750.3,251.0 763.6,248.3 C777.0,245.6 790.3,243.1 803.6,240.7 C817.0,238.2 830.3,235.9 843.6,233.7 C857.0,231.4 870.3,229.3 883.6,227.3 C897.0,225.3 910.3,223.4 923.6,221.7 C937.0,219.9 950.3,218.2 963.6,216.6 C977.0,215.1 990.3,213.6 1003.6,212.3 C1017.0,210.9 1030.3,209.7 1043.6,208.6 C1057.0,207.4 1070.3,206.4 1083.6,205.5 C1097.0,204.6 1110.3,203.8 1123.6,203.1 C1137.0,202.4 1150.3,201.8 1163.6,201.4 C1177.0,200.9 1190.3,200.5 1203.6,200.3 C1217.0,200.0 1230.3,199.9 1243.6,199.8 C1257.0,199.8 1270.3,199.9 1283.6,200.1 C1297.0,200.4 1310.3,200.8 1323.6,201.3 C1337.0,201.8 1350.3,202.5 1363.6,203.3 C1377.0,204.1 1397.0,205.7 1403.6,206.1" stroke="#e6f3ff" stroke-opacity="0.21" stroke-width="1.1" stroke-dasharray="227 21" fill="none"/><path d="M544.8,283.9 C551.4,282.2 571.4,277.0 584.8,273.7 C598.1,270.4 611.4,267.2 624.8,264.1 C638.1,261.0 651.4,258.0 664.8,255.1 C678.1,252.2 691.4,249.4 704.8,246.7 C718.1,244.0 731.4,241.4 744.8,238.9 C758.1,236.4 771.4,234.0 784.8,231.7 C798.1,229.4 811.4,227.2 824.8,225.1 C838.1,223.0 851.4,221.0 864.8,219.1 C878.1,217.2 891.4,215.3 904.8,213.6 C918.1,211.9 931.4,210.3 944.8,208.8 C958.1,207.3 971.4,205.9 984.8,204.6 C998.1,203.2 1011.4,202.0 1024.8,200.9 C1038.1,199.8 1051.4,198.8 1064.8,197.9 C1078.1,197.0 1091.4,196.1 1104.8,195.4 C1118.1,194.7 1131.4,194.1 1144.8,193.6 C1158.1,193.0 1171.4,192.6 1184.8,192.3 C1198.1,192.0 1211.4,191.7 1224.8,191.6 C1238.1,191.5 1251.4,191.4 1264.8,191.6 C1278.1,191.7 1291.4,191.9 1304.8,192.2 C1318.1,192.6 1331.4,193.1 1344.8,193.7 C1358.1,194.3 1371.4,195.0 1384.8,195.9 C1398.1,196.7 1418.1,198.4 1424.8,198.9" stroke="#e6f3ff" stroke-opacity="0.31" stroke-width="2.3" stroke-dasharray="237 42" fill="none"/><path d="M963.2,166.2 C969.9,165.6 989.9,163.5 1003.2,162.3 C1016.6,161.1 1029.9,160.0 1043.2,159.0 C1056.6,158.0 1069.9,157.1 1083.2,156.3 C1096.6,155.5 1109.9,154.8 1123.2,154.2 C1136.6,153.6 1149.9,153.1 1163.2,152.6 C1176.6,152.2 1189.9,151.9 1203.2,151.7 C1216.6,151.4 1229.9,151.3 1243.2,151.3 C1256.6,151.3 1269.9,151.3 1283.2,151.5 C1296.6,151.7 1309.9,152.1 1323.2,152.5 C1336.6,153.0 1349.9,153.6 1363.2,154.3 C1376.6,155.0 1389.9,155.9 1403.2,156.8 C1416.6,157.8 1436.6,159.5 1443.2,160.1" stroke="#0850c0" stroke-opacity="0.13" stroke-width="2.0" stroke-dasharray="150 40" fill="none"/><path d="M410.4,267.1 C417.0,265.3 437.0,259.9 450.4,256.5 C463.7,253.0 477.0,249.6 490.4,246.4 C503.7,243.1 517.0,239.9 530.4,236.8 C543.7,233.7 557.0,230.7 570.4,227.8 C583.7,224.8 597.0,222.0 610.4,219.2 C623.7,216.5 637.0,213.8 650.4,211.2 C663.7,208.6 677.0,206.1 690.4,203.7 C703.7,201.3 717.0,199.0 730.4,196.7 C743.7,194.5 757.0,192.3 770.4,190.3 C783.7,188.2 797.0,186.2 810.4,184.3 C823.7,182.4 837.0,180.6 850.4,178.9 C863.7,177.2 877.0,175.5 890.4,174.0 C903.7,172.4 917.0,171.0 930.4,169.6 C943.7,168.2 957.0,166.9 970.4,165.7 C983.7,164.5 997.0,163.4 1010.4,162.4 C1023.7,161.3 1037.0,160.4 1050.4,159.5 C1063.7,158.7 1077.0,157.9 1090.4,157.2 C1103.7,156.5 1117.0,155.9 1130.4,155.4 C1143.7,154.9 1157.0,154.4 1170.4,154.1 C1183.7,153.8 1197.0,153.5 1210.4,153.3 C1223.7,153.2 1237.0,153.1 1250.4,153.1 C1263.7,153.1 1277.0,153.2 1290.4,153.4 C1303.7,153.6 1317.0,154.0 1330.4,154.4 C1343.7,154.9 1357.0,155.4 1370.4,156.1 C1383.7,156.8 1397.0,157.6 1410.4,158.5 C1423.7,159.4 1437.0,160.4 1450.4,161.5 C1463.7,162.6 1477.0,163.9 1490.4,165.2 C1503.7,166.6 1517.0,168.0 1530.4,169.6 C1543.7,171.2 1557.0,172.8 1570.4,174.6 C1583.7,176.4 1597.0,178.3 1610.4,180.4 C1623.7,182.4 1643.7,185.7 1650.4,186.8" stroke="#e6f3ff" stroke-opacity="0.34" stroke-width="1.5" stroke-dasharray="120 40" fill="none"/><path d="M786.7,237.6 C793.4,236.5 813.4,233.0 826.7,230.9 C840.1,228.7 853.4,226.7 866.7,224.7 C880.1,222.8 893.4,221.0 906.7,219.2 C920.1,217.5 933.4,215.9 946.7,214.3 C960.1,212.8 973.4,211.3 986.7,210.0 C1000.1,208.7 1013.4,207.5 1026.7,206.3 C1040.1,205.2 1053.4,204.2 1066.7,203.2 C1080.1,202.3 1093.4,201.5 1106.7,200.8 C1120.1,200.0 1133.4,199.4 1146.7,198.9 C1160.1,198.4 1173.4,198.0 1186.7,197.6 C1200.1,197.3 1213.4,197.1 1226.7,197.0 C1240.1,196.9 1253.4,196.8 1266.7,196.9 C1280.1,197.1 1293.4,197.3 1306.7,197.7 C1320.1,198.0 1340.1,198.9 1346.7,199.2" stroke="#0850c0" stroke-opacity="0.19" stroke-width="1.2" stroke-dasharray="92 18" fill="none"/><path d="M516.4,291.3 C523.1,289.4 543.1,283.8 556.4,280.3 C569.7,276.7 583.1,273.3 596.4,269.9 C609.7,266.5 623.1,263.3 636.4,260.1 C649.7,257.0 663.1,253.9 676.4,251.0 C689.7,248.0 703.1,245.2 716.4,242.4 C729.7,239.7 743.1,237.1 756.4,234.5 C769.7,232.0 783.1,229.6 796.4,227.2 C809.7,224.9 823.1,222.7 836.4,220.5 C849.7,218.4 863.1,216.4 876.4,214.5 C889.7,212.6 903.1,210.7 916.4,209.0 C929.7,207.3 943.1,205.7 956.4,204.2 C969.7,202.7 983.1,201.3 996.4,200.0 C1009.7,198.7 1023.1,197.5 1036.4,196.4 C1049.7,195.3 1063.1,194.3 1076.4,193.4 C1089.7,192.5 1103.1,191.7 1116.4,191.0 C1129.7,190.3 1143.1,189.8 1156.4,189.3 C1169.7,188.8 1183.1,188.4 1196.4,188.1 C1209.7,187.9 1223.1,187.7 1236.4,187.6 C1249.7,187.6 1263.1,187.6 1276.4,187.8 C1289.7,187.9 1303.1,188.2 1316.4,188.7 C1329.7,189.1 1343.1,189.7 1356.4,190.4 C1369.7,191.1 1383.1,192.0 1396.4,193.0 C1409.7,193.9 1423.1,195.0 1436.4,196.3 C1449.7,197.5 1463.1,198.9 1476.4,200.4 C1489.7,201.9 1503.1,203.6 1516.4,205.4 C1529.7,207.1 1543.1,209.1 1556.4,211.1 C1569.7,213.2 1583.1,215.3 1596.4,217.6 C1609.7,220.0 1629.7,223.8 1636.4,225.0" stroke="#0850c0" stroke-opacity="0.20" stroke-width="1.2" stroke-dasharray="98 14" fill="none"/><path d="M528.3,180.7 C534.9,179.5 554.9,175.8 568.3,173.4 C581.6,171.1 594.9,168.8 608.3,166.6 C621.6,164.3 634.9,162.2 648.3,160.1 C661.6,158.0 674.9,156.0 688.3,154.1 C701.6,152.1 714.9,150.2 728.3,148.4 C741.6,146.6 754.9,144.9 768.3,143.2 C781.6,141.6 794.9,140.0 808.3,138.4 C821.6,136.9 834.9,135.5 848.3,134.1 C861.6,132.7 874.9,131.4 888.3,130.1 C901.6,128.9 914.9,127.7 928.3,126.6 C941.6,125.5 954.9,124.4 968.3,123.4 C981.6,122.5 994.9,121.6 1008.3,120.7 C1021.6,119.9 1034.9,119.1 1048.3,118.4 C1061.6,117.7 1074.9,117.1 1088.3,116.5 C1101.6,116.0 1114.9,115.5 1128.3,115.1 C1141.6,114.6 1154.9,114.3 1168.3,114.0 C1181.6,113.7 1194.9,113.5 1208.3,113.4 C1221.6,113.2 1234.9,113.1 1248.3,113.1 C1261.6,113.1 1274.9,113.2 1288.3,113.4 C1301.6,113.6 1321.6,114.0 1328.3,114.2" stroke="#0850c0" stroke-opacity="0.28" stroke-width="2.0" stroke-dasharray="143 27" fill="none"/><path d="M589.7,204.3 C596.4,203.0 616.4,199.0 629.7,196.5 C643.0,193.9 656.4,191.4 669.7,189.1 C683.0,186.7 696.4,184.4 709.7,182.2 C723.0,179.9 736.4,177.8 749.7,175.7 C763.0,173.7 776.4,171.7 789.7,169.8 C803.0,167.9 816.4,166.1 829.7,164.4 C843.0,162.7 856.4,161.0 869.7,159.5 C883.0,157.9 896.4,156.4 909.7,155.0 C923.0,153.6 936.4,152.3 949.7,151.1 C963.0,149.8 976.4,148.7 989.7,147.6 C1003.0,146.6 1016.4,145.6 1029.7,144.7 C1043.0,143.8 1056.4,142.9 1069.7,142.2 C1083.0,141.5 1096.4,140.8 1109.7,140.2 C1123.0,139.6 1136.4,139.2 1149.7,138.7 C1163.0,138.3 1176.4,138.0 1189.7,137.8 C1203.0,137.5 1223.0,137.3 1229.7,137.3" stroke="#e6f3ff" stroke-opacity="0.49" stroke-width="1.2" stroke-dasharray="161 35" fill="none"/><path d="M548.0,269.7 C554.7,268.1 574.7,263.1 588.0,260.0 C601.4,256.8 614.7,253.8 628.0,250.8 C641.4,247.8 654.7,245.0 668.0,242.2 C681.4,239.5 694.7,236.8 708.0,234.2 C721.4,231.6 734.7,229.2 748.0,226.8 C761.4,224.4 774.7,222.1 788.0,219.9 C801.4,217.7 814.7,215.6 828.0,213.6 C841.4,211.6 854.7,209.7 868.0,207.9 C881.4,206.1 894.7,204.4 908.0,202.7 C921.4,201.1 934.7,199.6 948.0,198.1 C961.4,196.7 974.7,195.4 988.0,194.1 C1001.4,192.9 1014.7,191.7 1028.0,190.7 C1041.4,189.6 1054.7,188.7 1068.0,187.8 C1081.4,186.9 1094.7,186.2 1108.0,185.5 C1121.4,184.8 1134.7,184.2 1148.0,183.7 C1161.4,183.3 1174.7,182.9 1188.0,182.6 C1201.4,182.3 1214.7,182.1 1228.0,182.0 C1241.4,181.9 1254.7,181.9 1268.0,182.0 C1281.4,182.1 1301.4,182.6 1308.0,182.7" stroke="#e6f3ff" stroke-opacity="0.33" stroke-width="2.3" stroke-dasharray="230 45" fill="none"/><path d="M819.9,89.7 C826.6,89.1 846.6,87.4 859.9,86.3 C873.2,85.3 886.6,84.3 899.9,83.3 C913.2,82.4 926.6,81.5 939.9,80.6 C953.2,79.8 966.6,79.0 979.9,78.3 C993.2,77.6 1006.6,76.9 1019.9,76.3 C1033.2,75.6 1046.6,75.1 1059.9,74.5 C1073.2,74.0 1086.6,73.6 1099.9,73.2 C1113.2,72.8 1126.6,72.4 1139.9,72.1 C1153.2,71.8 1166.6,71.6 1179.9,71.4 C1193.2,71.2 1206.6,71.1 1219.9,71.0 C1233.2,70.9 1246.6,70.9 1259.9,70.9 C1273.2,70.9 1286.6,71.0 1299.9,71.2 C1313.2,71.4 1326.6,71.6 1339.9,71.9 C1353.2,72.3 1366.6,72.6 1379.9,73.1 C1393.2,73.6 1406.6,74.1 1419.9,74.7 C1433.2,75.3 1446.6,76.0 1459.9,76.7 C1473.2,77.4 1486.6,78.2 1499.9,79.1 C1513.2,80.0 1526.6,80.9 1539.9,82.0 C1553.2,83.0 1566.6,84.1 1579.9,85.2 C1593.2,86.4 1613.2,88.3 1619.9,88.9" stroke="#e6f3ff" stroke-opacity="0.38" stroke-width="1.0" stroke-dasharray="138 47" fill="none"/><path d="M982.8,191.2 C989.5,190.5 1009.5,188.4 1022.8,187.2 C1036.1,186.0 1049.5,184.9 1062.8,183.9 C1076.1,182.9 1089.5,182.1 1102.8,181.3 C1116.1,180.5 1129.5,179.8 1142.8,179.3 C1156.1,178.7 1169.5,178.2 1182.8,177.9 C1196.1,177.5 1209.5,177.3 1222.8,177.1 C1236.1,177.0 1249.5,176.9 1262.8,177.0 C1276.1,177.1 1296.1,177.6 1302.8,177.7" stroke="#e6f3ff" stroke-opacity="0.25" stroke-width="1.7" stroke-dasharray="196 48" fill="none"/><path d="M854.2,191.6 C860.8,190.7 880.8,187.9 894.2,186.2 C907.5,184.5 920.8,182.9 934.2,181.3 C947.5,179.8 960.8,178.4 974.2,177.1 C987.5,175.7 1000.8,174.5 1014.2,173.3 C1027.5,172.2 1040.8,171.2 1054.2,170.2 C1067.5,169.3 1080.8,168.4 1094.2,167.7 C1107.5,166.9 1120.8,166.3 1134.2,165.7 C1147.5,165.1 1160.8,164.7 1174.2,164.3 C1187.5,163.9 1200.8,163.7 1214.2,163.5 C1227.5,163.3 1240.8,163.2 1254.2,163.3 C1267.5,163.3 1280.8,163.5 1294.2,163.7 C1307.5,164.0 1320.8,164.4 1334.2,164.9 C1347.5,165.5 1360.8,166.1 1374.2,166.9 C1387.5,167.7 1407.5,169.2 1414.2,169.6" stroke="#0850c0" stroke-opacity="0.13" stroke-width="2.1" stroke-dasharray="107 47" fill="none"/><path d="M459.3,254.7 C466.0,253.0 486.0,247.9 499.3,244.7 C512.7,241.4 526.0,238.3 539.3,235.2 C552.7,232.1 566.0,229.1 579.3,226.2 C592.7,223.3 606.0,220.5 619.3,217.8 C632.7,215.1 646.0,212.4 659.3,209.9 C672.7,207.3 686.0,204.8 699.3,202.4 C712.7,200.1 726.0,197.8 739.3,195.5 C752.7,193.3 766.0,191.2 779.3,189.2 C792.7,187.1 806.0,185.2 819.3,183.3 C832.7,181.5 846.0,179.7 859.3,178.0 C872.7,176.3 886.0,174.7 899.3,173.2 C912.7,171.7 926.0,170.2 939.3,168.9 C952.7,167.5 966.0,166.3 979.3,165.1 C992.7,163.9 1006.0,162.8 1019.3,161.8 C1032.7,160.8 1046.0,159.9 1059.3,159.1 C1072.7,158.3 1086.0,157.5 1099.3,156.9 C1112.7,156.2 1126.0,155.7 1139.3,155.2 C1152.7,154.7 1166.0,154.3 1179.3,154.0 C1192.7,153.7 1206.0,153.5 1219.3,153.4 C1232.7,153.2 1246.0,153.2 1259.3,153.2 C1272.7,153.3 1292.7,153.6 1299.3,153.7" stroke="#0850c0" stroke-opacity="0.25" stroke-width="1.2" stroke-dasharray="74 31" fill="none"/><path d="M518.6,230.3 C525.3,228.8 545.3,224.2 558.6,221.2 C572.0,218.3 585.3,215.4 598.6,212.7 C612.0,209.9 625.3,207.2 638.6,204.6 C652.0,202.0 665.3,199.5 678.6,197.1 C692.0,194.6 705.3,192.3 718.6,190.0 C732.0,187.7 745.3,185.6 758.6,183.5 C772.0,181.4 785.3,179.4 798.6,177.5 C812.0,175.5 825.3,173.7 838.6,172.0 C852.0,170.2 865.3,168.5 878.6,167.0 C892.0,165.4 905.3,163.9 918.6,162.5 C932.0,161.1 945.3,159.7 958.6,158.5 C972.0,157.3 985.3,156.1 998.6,155.0 C1012.0,154.0 1025.3,153.0 1038.6,152.1 C1052.0,151.2 1065.3,150.4 1078.6,149.6 C1092.0,148.9 1105.3,148.3 1118.6,147.7 C1132.0,147.1 1145.3,146.7 1158.6,146.3 C1172.0,145.9 1185.3,145.6 1198.6,145.4 C1212.0,145.1 1225.3,145.0 1238.6,145.0 C1252.0,144.9 1265.3,145.0 1278.6,145.1 C1292.0,145.3 1305.3,145.5 1318.6,145.9 C1332.0,146.3 1345.3,146.8 1358.6,147.4 C1372.0,148.0 1385.3,148.7 1398.6,149.5 C1412.0,150.3 1425.3,151.3 1438.6,152.3 C1452.0,153.4 1472.0,155.2 1478.6,155.8" stroke="#e6f3ff" stroke-opacity="0.29" stroke-width="1.6" stroke-dasharray="252 36" fill="none"/><path d="M525.6,284.3 C532.2,282.5 552.2,277.0 565.6,273.6 C578.9,270.1 592.2,266.8 605.6,263.5 C618.9,260.2 632.2,257.1 645.6,254.0 C658.9,251.0 672.2,248.0 685.6,245.1 C698.9,242.3 712.2,239.5 725.6,236.9 C738.9,234.2 752.2,231.7 765.6,229.2 C778.9,226.8 792.2,224.4 805.6,222.2 C818.9,219.9 832.2,217.8 845.6,215.7 C858.9,213.7 872.2,211.7 885.6,209.9 C898.9,208.0 912.2,206.3 925.6,204.6 C938.9,203.0 952.2,201.5 965.6,200.0 C978.9,198.6 992.2,197.2 1005.6,196.0 C1018.9,194.8 1032.2,193.6 1045.6,192.6 C1058.9,191.6 1072.2,190.6 1085.6,189.8 C1098.9,189.0 1112.2,188.2 1125.6,187.6 C1138.9,187.0 1152.2,186.4 1165.6,186.0 C1178.9,185.6 1192.2,185.3 1205.6,185.0 C1218.9,184.8 1232.2,184.7 1245.6,184.7 C1258.9,184.7 1278.9,184.9 1285.6,185.0" stroke="#0850c0" stroke-opacity="0.25" stroke-width="1.4" stroke-dasharray="64 30" fill="none"/><path d="M539.5,242.3 C546.2,240.7 566.2,236.0 579.5,233.0 C592.8,229.9 606.2,227.0 619.5,224.2 C632.8,221.3 646.2,218.6 659.5,215.9 C672.8,213.3 686.2,210.7 699.5,208.2 C712.8,205.7 726.2,203.3 739.5,201.0 C752.8,198.7 766.2,196.5 779.5,194.4 C792.8,192.3 806.2,190.3 819.5,188.3 C832.8,186.4 846.2,184.5 859.5,182.8 C872.8,181.0 886.2,179.4 899.5,177.8 C912.8,176.2 926.2,174.7 939.5,173.3 C952.8,171.9 966.2,170.6 979.5,169.4 C992.8,168.2 1006.2,167.0 1019.5,166.0 C1032.8,165.0 1046.2,164.0 1059.5,163.2 C1072.8,162.3 1086.2,161.5 1099.5,160.9 C1112.8,160.2 1126.2,159.6 1139.5,159.1 C1152.8,158.6 1166.2,158.2 1179.5,157.9 C1192.8,157.6 1206.2,157.3 1219.5,157.2 C1232.8,157.0 1246.2,157.0 1259.5,157.0 C1272.8,157.1 1286.2,157.3 1299.5,157.6 C1312.8,157.9 1326.2,158.3 1339.5,158.8 C1352.8,159.3 1366.2,160.0 1379.5,160.7 C1392.8,161.5 1406.2,162.3 1419.5,163.3 C1432.8,164.3 1446.2,165.4 1459.5,166.7 C1472.8,167.9 1492.8,170.0 1499.5,170.7" stroke="#0850c0" stroke-opacity="0.16" stroke-width="1.0" stroke-dasharray="128 27" fill="none"/><path d="M874.2,181.0 C880.8,180.2 900.8,177.8 914.2,176.4 C927.5,174.9 940.8,173.6 954.2,172.3 C967.5,171.0 980.8,169.8 994.2,168.7 C1007.5,167.6 1020.8,166.6 1034.2,165.6 C1047.5,164.7 1060.8,163.9 1074.2,163.1 C1087.5,162.3 1100.8,161.7 1114.2,161.1 C1127.5,160.5 1140.8,160.0 1154.2,159.6 C1167.5,159.2 1180.8,158.8 1194.2,158.6 C1207.5,158.4 1220.8,158.2 1234.2,158.1 C1247.5,158.1 1260.8,158.1 1274.2,158.2 C1287.5,158.4 1300.8,158.6 1314.2,159.0 C1327.5,159.3 1340.8,159.8 1354.2,160.4 C1367.5,161.0 1380.8,161.7 1394.2,162.5 C1407.5,163.3 1420.8,164.2 1434.2,165.2 C1447.5,166.3 1460.8,167.4 1474.2,168.7 C1487.5,169.9 1500.8,171.3 1514.2,172.8 C1527.5,174.3 1547.5,176.8 1554.2,177.6" stroke="#e6f3ff" stroke-opacity="0.26" stroke-width="2.4" stroke-dasharray="122 43" fill="none"/><path d="M851.5,118.1 C858.2,117.5 878.2,115.6 891.5,114.4 C904.8,113.2 918.2,112.1 931.5,111.0 C944.8,110.0 958.2,109.0 971.5,108.1 C984.8,107.1 998.2,106.3 1011.5,105.5 C1024.8,104.7 1038.2,104.0 1051.5,103.3 C1064.8,102.7 1078.2,102.1 1091.5,101.6 C1104.8,101.1 1118.2,100.6 1131.5,100.2 C1144.8,99.8 1158.2,99.5 1171.5,99.2 C1184.8,99.0 1198.2,98.8 1211.5,98.7 C1224.8,98.5 1238.2,98.5 1251.5,98.5 C1264.8,98.5 1278.2,98.6 1291.5,98.7 C1304.8,98.9 1324.8,99.4 1331.5,99.5" stroke="#0850c0" stroke-opacity="0.21" stroke-width="1.3" stroke-dasharray="105 27" fill="none"/><path d="M470.8,268.8 C477.4,267.0 497.4,261.2 510.8,257.5 C524.1,253.9 537.4,250.3 550.8,246.8 C564.1,243.4 577.4,240.0 590.8,236.7 C604.1,233.4 617.4,230.3 630.8,227.2 C644.1,224.1 657.4,221.1 670.8,218.3 C684.1,215.4 697.4,212.6 710.8,209.9 C724.1,207.3 737.4,204.7 750.8,202.2 C764.1,199.7 777.4,197.4 790.8,195.1 C804.1,192.8 817.4,190.6 830.8,188.5 C844.1,186.5 857.4,184.5 870.8,182.6 C884.1,180.7 897.4,178.9 910.8,177.2 C924.1,175.6 937.4,174.0 950.8,172.5 C964.1,171.0 977.4,169.6 990.8,168.3 C1004.1,167.0 1017.4,165.9 1030.8,164.8 C1044.1,163.7 1057.4,162.7 1070.8,161.8 C1084.1,160.9 1097.4,160.1 1110.8,159.4 C1124.1,158.7 1137.4,158.1 1150.8,157.7 C1164.1,157.2 1177.4,156.8 1190.8,156.5 C1204.1,156.2 1217.4,156.0 1230.8,155.9 C1244.1,155.8 1257.4,155.8 1270.8,155.9 C1284.1,156.1 1297.4,156.3 1310.8,156.7 C1324.1,157.1 1337.4,157.6 1350.8,158.3 C1364.1,158.9 1384.1,160.2 1390.8,160.6" stroke="#e6f3ff" stroke-opacity="0.49" stroke-width="1.2" stroke-dasharray="70 12" fill="none"/><path d="M927.8,136.3 C934.5,135.6 954.5,133.7 967.8,132.5 C981.2,131.3 994.5,130.2 1007.8,129.2 C1021.2,128.1 1034.5,127.2 1047.8,126.4 C1061.2,125.5 1074.5,124.7 1087.8,124.1 C1101.2,123.4 1114.5,122.8 1127.8,122.3 C1141.2,121.8 1154.5,121.3 1167.8,121.0 C1181.2,120.6 1194.5,120.4 1207.8,120.2 C1221.2,120.0 1234.5,119.9 1247.8,119.9 C1261.2,119.9 1274.5,120.0 1287.8,120.2 C1301.2,120.4 1314.5,120.7 1327.8,121.2 C1341.2,121.6 1354.5,122.1 1367.8,122.8 C1381.2,123.4 1394.5,124.2 1407.8,125.0 C1421.2,125.9 1434.5,126.9 1447.8,127.9 C1461.2,129.0 1474.5,130.2 1487.8,131.5 C1501.2,132.8 1521.2,135.0 1527.8,135.7" stroke="#0850c0" stroke-opacity="0.29" stroke-width="1.5" stroke-dasharray="97 47" fill="none"/><path d="M791.9,200.4 C798.6,199.5 818.6,196.5 831.9,194.7 C845.3,192.9 858.6,191.2 871.9,189.6 C885.3,188.0 898.6,186.4 911.9,185.0 C925.3,183.5 938.6,182.1 951.9,180.9 C965.3,179.6 978.6,178.4 991.9,177.3 C1005.3,176.2 1018.6,175.1 1031.9,174.2 C1045.3,173.3 1058.6,172.4 1071.9,171.6 C1085.3,170.9 1098.6,170.2 1111.9,169.6 C1125.3,169.0 1138.6,168.5 1151.9,168.1 C1165.3,167.6 1178.6,167.3 1191.9,167.1 C1205.3,166.8 1218.6,166.6 1231.9,166.6 C1245.3,166.5 1258.6,166.5 1271.9,166.6 C1285.3,166.7 1298.6,167.0 1311.9,167.3 C1325.3,167.7 1345.3,168.5 1351.9,168.7" stroke="#e6f3ff" stroke-opacity="0.30" stroke-width="1.2" stroke-dasharray="61 21" fill="none"/><path d="M456.7,212.0 C463.4,210.4 483.4,205.5 496.7,202.4 C510.0,199.3 523.4,196.2 536.7,193.3 C550.0,190.3 563.4,187.5 576.7,184.7 C590.0,181.9 603.4,179.2 616.7,176.6 C630.0,174.0 643.4,171.4 656.7,169.0 C670.0,166.5 683.4,164.2 696.7,161.9 C710.0,159.6 723.4,157.4 736.7,155.3 C750.0,153.1 763.4,151.1 776.7,149.1 C790.0,147.2 803.4,145.3 816.7,143.5 C830.0,141.7 843.4,140.0 856.7,138.4 C870.0,136.8 883.4,135.2 896.7,133.7 C910.0,132.3 923.4,130.9 936.7,129.6 C950.0,128.3 963.4,127.1 976.7,126.0 C990.0,124.8 1003.4,123.8 1016.7,122.8 C1030.0,121.9 1043.4,121.0 1056.7,120.2 C1070.0,119.4 1083.4,118.7 1096.7,118.0 C1110.0,117.4 1123.4,116.9 1136.7,116.4 C1150.0,115.9 1163.4,115.5 1176.7,115.2 C1190.0,114.9 1203.4,114.7 1216.7,114.6 C1230.0,114.4 1243.4,114.4 1256.7,114.4 C1270.0,114.4 1283.4,114.6 1296.7,114.8 C1310.0,115.1 1323.4,115.4 1336.7,115.9 C1350.0,116.4 1363.4,116.9 1376.7,117.6 C1390.0,118.3 1403.4,119.1 1416.7,120.0 C1430.0,120.9 1443.4,121.9 1456.7,123.0 C1470.0,124.1 1483.4,125.3 1496.7,126.7 C1510.0,128.0 1523.4,129.4 1536.7,131.0 C1550.0,132.5 1563.4,134.2 1576.7,135.9 C1590.0,137.7 1603.4,139.5 1616.7,141.5 C1630.0,143.5 1650.0,146.7 1656.7,147.7" stroke="#e6f3ff" stroke-opacity="0.31" stroke-width="2.2" stroke-dasharray="224 27" fill="none"/><path d="M611.1,121.0 C617.7,120.1 637.7,117.2 651.1,115.4 C664.4,113.5 677.7,111.8 691.1,110.1 C704.4,108.4 717.7,106.7 731.1,105.2 C744.4,103.6 757.7,102.1 771.1,100.6 C784.4,99.2 797.7,97.8 811.1,96.4 C824.4,95.1 837.7,93.8 851.1,92.6 C864.4,91.4 877.7,90.3 891.1,89.2 C904.4,88.1 917.7,87.1 931.1,86.1 C944.4,85.1 957.7,84.2 971.1,83.4 C984.4,82.5 997.7,81.7 1011.1,81.0 C1024.4,80.3 1037.7,79.6 1051.1,79.0 C1064.4,78.4 1077.7,77.9 1091.1,77.4 C1104.4,76.9 1117.7,76.5 1131.1,76.1 C1144.4,75.8 1157.7,75.5 1171.1,75.2 C1184.4,75.0 1197.7,74.8 1211.1,74.7 C1224.4,74.6 1237.7,74.5 1251.1,74.5 C1264.4,74.5 1277.7,74.6 1291.1,74.8 C1304.4,74.9 1317.7,75.2 1331.1,75.5 C1344.4,75.8 1357.7,76.2 1371.1,76.7 C1384.4,77.2 1397.7,77.7 1411.1,78.3 C1424.4,79.0 1437.7,79.7 1451.1,80.5 C1464.4,81.3 1477.7,82.2 1491.1,83.1 C1504.4,84.1 1517.7,85.1 1531.1,86.2 C1544.4,87.3 1557.7,88.5 1571.1,89.8 C1584.4,91.0 1597.7,92.4 1611.1,93.8 C1624.4,95.2 1644.4,97.6 1651.1,98.3" stroke="#e6f3ff" stroke-opacity="0.31" stroke-width="2.3" stroke-dasharray="66 26" fill="none"/><path d="M405.2,313.6 C411.9,311.5 431.9,305.0 445.2,300.8 C458.5,296.7 471.9,292.6 485.2,288.6 C498.5,284.7 511.9,280.8 525.2,277.1 C538.5,273.3 551.9,269.7 565.2,266.1 C578.5,262.6 591.9,259.2 605.2,255.8 C618.5,252.5 631.9,249.3 645.2,246.1 C658.5,243.0 671.9,240.0 685.2,237.0 C698.5,234.1 711.9,231.3 725.2,228.6 C738.5,225.9 751.9,223.3 765.2,220.8 C778.5,218.3 791.9,215.8 805.2,213.5 C818.5,211.2 831.9,209.0 845.2,207.0 C858.5,204.9 871.9,202.9 885.2,201.0 C898.5,199.1 911.9,197.3 925.2,195.6 C938.5,193.9 951.9,192.4 965.2,190.9 C978.5,189.4 991.9,188.1 1005.2,186.8 C1018.5,185.5 1031.9,184.4 1045.2,183.3 C1058.5,182.2 1071.9,181.3 1085.2,180.4 C1098.5,179.6 1111.9,178.8 1125.2,178.2 C1138.5,177.5 1151.9,177.0 1165.2,176.6 C1178.5,176.1 1198.5,175.7 1205.2,175.6" stroke="#e6f3ff" stroke-opacity="0.48" stroke-width="1.4" stroke-dasharray="209 46" fill="none"/><path d="M973.8,123.0 C980.4,122.6 1000.4,121.1 1013.8,120.3 C1027.1,119.4 1040.4,118.6 1053.8,117.9 C1067.1,117.2 1080.4,116.6 1093.8,116.0 C1107.1,115.5 1120.4,115.0 1133.8,114.6 C1147.1,114.2 1160.4,113.8 1173.8,113.5 C1187.1,113.3 1200.4,113.1 1213.8,112.9 C1227.1,112.8 1240.4,112.7 1253.8,112.8 C1267.1,112.8 1280.4,112.9 1293.8,113.1 C1307.1,113.3 1320.4,113.6 1333.8,114.0 C1347.1,114.4 1360.4,114.9 1373.8,115.4 C1387.1,116.0 1400.4,116.7 1413.8,117.4 C1427.1,118.2 1440.4,119.1 1453.8,120.0 C1467.1,121.0 1487.1,122.6 1493.8,123.2" stroke="#e6f3ff" stroke-opacity="0.41" stroke-width="1.4" stroke-dasharray="115 10" fill="none"/><path d="M773.1,211.9 C779.7,210.7 799.7,207.0 813.1,204.8 C826.4,202.5 839.7,200.4 853.1,198.3 C866.4,196.3 879.7,194.3 893.1,192.5 C906.4,190.6 919.7,188.9 933.1,187.2 C946.4,185.6 959.7,184.1 973.1,182.6 C986.4,181.2 999.7,179.9 1013.1,178.6 C1026.4,177.4 1039.7,176.3 1053.1,175.3 C1066.4,174.3 1079.7,173.3 1093.1,172.5 C1106.4,171.7 1119.7,171.0 1133.1,170.4 C1146.4,169.8 1159.7,169.3 1173.1,168.9 C1186.4,168.5 1199.7,168.2 1213.1,168.0 C1226.4,167.8 1239.7,167.7 1253.1,167.7 C1266.4,167.8 1279.7,167.9 1293.1,168.2 C1306.4,168.5 1319.7,168.9 1333.1,169.5 C1346.4,170.0 1359.7,170.7 1373.1,171.6 C1386.4,172.4 1399.7,173.4 1413.1,174.5 C1426.4,175.5 1439.7,176.8 1453.1,178.1 C1466.4,179.5 1479.7,181.0 1493.1,182.6 C1506.4,184.3 1519.7,186.0 1533.1,188.0 C1546.4,189.9 1559.7,191.9 1573.1,194.1 C1586.4,196.2 1599.7,198.5 1613.1,201.0 C1626.4,203.4 1646.4,207.4 1653.1,208.7" stroke="#e6f3ff" stroke-opacity="0.27" stroke-width="1.7" stroke-dasharray="251 48" fill="none"/><path d="M646.6,169.3 C653.2,168.2 673.2,164.9 686.6,162.9 C699.9,160.8 713.2,158.8 726.6,156.9 C739.9,154.9 753.2,153.1 766.6,151.3 C779.9,149.5 793.2,147.8 806.6,146.2 C819.9,144.5 833.2,143.0 846.6,141.5 C859.9,140.0 873.2,138.6 886.6,137.3 C899.9,135.9 913.2,134.7 926.6,133.5 C939.9,132.3 953.2,131.2 966.6,130.1 C979.9,129.1 993.2,128.1 1006.6,127.2 C1019.9,126.3 1033.2,125.5 1046.6,124.7 C1059.9,124.0 1073.2,123.3 1086.6,122.7 C1099.9,122.1 1113.2,121.6 1126.6,121.1 C1139.9,120.7 1153.2,120.3 1166.6,120.0 C1179.9,119.7 1193.2,119.4 1206.6,119.3 C1219.9,119.1 1233.2,119.0 1246.6,119.0 C1259.9,119.0 1273.2,119.1 1286.6,119.3 C1299.9,119.4 1313.2,119.7 1326.6,120.1 C1339.9,120.4 1353.2,120.9 1366.6,121.5 C1379.9,122.0 1393.2,122.7 1406.6,123.4 C1419.9,124.2 1439.9,125.5 1446.6,126.0" stroke="#0850c0" stroke-opacity="0.15" stroke-width="2.1" stroke-dasharray="208 43" fill="none"/><path d="M583.2,252.0 C589.9,250.4 609.9,245.6 623.2,242.5 C636.6,239.4 649.9,236.4 663.2,233.5 C676.6,230.6 689.9,227.9 703.2,225.2 C716.6,222.5 729.9,219.9 743.2,217.4 C756.6,214.9 769.9,212.5 783.2,210.2 C796.6,207.9 809.9,205.7 823.2,203.6 C836.6,201.5 849.9,199.5 863.2,197.6 C876.6,195.7 889.9,193.9 903.2,192.2 C916.6,190.5 929.9,188.9 943.2,187.4 C956.6,185.9 969.9,184.5 983.2,183.1 C996.6,181.8 1009.9,180.6 1023.2,179.5 C1036.6,178.4 1049.9,177.4 1063.2,176.4 C1076.6,175.5 1089.9,174.7 1103.2,174.0 C1116.6,173.3 1129.9,172.6 1143.2,172.1 C1156.6,171.6 1169.9,171.2 1183.2,170.8 C1196.6,170.5 1209.9,170.3 1223.2,170.1 C1236.6,170.0 1249.9,170.0 1263.2,170.1 C1276.6,170.1 1289.9,170.4 1303.2,170.7 C1316.6,171.0 1336.6,171.9 1343.2,172.1" stroke="#e6f3ff" stroke-opacity="0.43" stroke-width="1.1" stroke-dasharray="99 40" fill="none"/><path d="M401.0,187.9 C407.7,186.6 427.7,182.5 441.0,179.9 C454.3,177.3 467.7,174.7 481.0,172.2 C494.3,169.8 507.7,167.3 521.0,165.0 C534.3,162.6 547.7,160.3 561.0,158.1 C574.3,155.9 587.7,153.7 601.0,151.6 C614.3,149.5 627.7,147.5 641.0,145.5 C654.3,143.6 667.7,141.7 681.0,139.8 C694.3,138.0 707.7,136.2 721.0,134.5 C734.3,132.8 747.7,131.2 761.0,129.6 C774.3,128.0 787.7,126.5 801.0,125.1 C814.3,123.6 827.7,122.2 841.0,120.9 C854.3,119.6 867.7,118.3 881.0,117.1 C894.3,115.9 907.7,114.8 921.0,113.7 C934.3,112.7 947.7,111.7 961.0,110.8 C974.3,109.8 987.7,109.0 1001.0,108.2 C1014.3,107.3 1027.7,106.6 1041.0,105.9 C1054.3,105.3 1067.7,104.6 1081.0,104.1 C1094.3,103.6 1107.7,103.1 1121.0,102.7 C1134.3,102.2 1147.7,101.9 1161.0,101.6 C1174.3,101.3 1187.7,101.1 1201.0,100.9 C1214.3,100.8 1227.7,100.7 1241.0,100.7 C1254.3,100.6 1267.7,100.7 1281.0,100.8 C1294.3,100.9 1307.7,101.1 1321.0,101.4 C1334.3,101.7 1347.7,102.1 1361.0,102.6 C1374.3,103.0 1387.7,103.6 1401.0,104.2 C1414.3,104.9 1434.3,106.0 1441.0,106.4" stroke="#e6f3ff" stroke-opacity="0.49" stroke-width="2.2" stroke-dasharray="258 21" fill="none"/><path d="M689.1,113.1 C695.7,112.4 715.7,110.0 729.1,108.5 C742.4,107.0 755.7,105.5 769.1,104.1 C782.4,102.7 795.7,101.4 809.1,100.1 C822.4,98.9 835.7,97.6 849.1,96.5 C862.4,95.3 875.7,94.2 889.1,93.2 C902.4,92.2 915.7,91.2 929.1,90.2 C942.4,89.3 955.7,88.4 969.1,87.6 C982.4,86.8 995.7,86.1 1009.1,85.4 C1022.4,84.7 1035.7,84.0 1049.1,83.5 C1062.4,82.9 1075.7,82.4 1089.1,81.9 C1102.4,81.4 1115.7,81.0 1129.1,80.7 C1142.4,80.3 1155.7,80.0 1169.1,79.8 C1182.4,79.6 1195.7,79.4 1209.1,79.3 C1222.4,79.2 1235.7,79.1 1249.1,79.1 C1262.4,79.1 1275.7,79.2 1289.1,79.3 C1302.4,79.5 1315.7,79.7 1329.1,80.0 C1342.4,80.3 1355.7,80.6 1369.1,81.1 C1382.4,81.5 1395.7,82.1 1409.1,82.7 C1422.4,83.3 1435.7,83.9 1449.1,84.7 C1462.4,85.4 1475.7,86.2 1489.1,87.1 C1502.4,88.0 1522.4,89.6 1529.1,90.1" stroke="#e6f3ff" stroke-opacity="0.27" stroke-width="1.6" stroke-dasharray="184 37" fill="none"/><path d="M791.9,206.8 C798.6,205.6 818.6,202.2 831.9,200.1 C845.3,197.9 858.6,195.9 871.9,194.0 C885.3,192.1 898.6,190.2 911.9,188.5 C925.3,186.8 938.6,185.2 951.9,183.7 C965.3,182.2 978.6,180.7 991.9,179.4 C1005.3,178.1 1018.6,176.9 1031.9,175.8 C1045.3,174.7 1058.6,173.7 1071.9,172.8 C1085.3,171.9 1098.6,171.1 1111.9,170.4 C1125.3,169.7 1138.6,169.1 1151.9,168.6 C1165.3,168.1 1178.6,167.7 1191.9,167.4 C1205.3,167.1 1225.3,166.9 1231.9,166.8" stroke="#0850c0" stroke-opacity="0.17" stroke-width="1.8" stroke-dasharray="135 40" fill="none"/><path d="M532.1,157.0 C538.8,155.9 558.8,152.4 572.1,150.2 C585.4,148.0 598.8,145.9 612.1,143.8 C625.4,141.8 638.8,139.7 652.1,137.8 C665.4,135.9 678.8,134.0 692.1,132.2 C705.4,130.4 718.8,128.6 732.1,126.9 C745.4,125.3 758.8,123.6 772.1,122.1 C785.4,120.5 798.8,119.1 812.1,117.6 C825.4,116.2 838.8,114.9 852.1,113.6 C865.4,112.3 878.8,111.0 892.1,109.9 C905.4,108.7 918.8,107.6 932.1,106.6 C945.4,105.6 958.8,104.6 972.1,103.7 C985.4,102.8 998.8,102.0 1012.1,101.2 C1025.4,100.4 1038.8,99.7 1052.1,99.1 C1065.4,98.4 1078.8,97.8 1092.1,97.3 C1105.4,96.8 1118.8,96.4 1132.1,96.0 C1145.4,95.6 1158.8,95.3 1172.1,95.0 C1185.4,94.8 1198.8,94.6 1212.1,94.5 C1225.4,94.3 1245.4,94.3 1252.1,94.3" stroke="#0850c0" stroke-opacity="0.22" stroke-width="1.5" stroke-dasharray="139 50" fill="none"/><path d="M881.2,155.1 C887.9,154.4 907.9,152.3 921.2,151.0 C934.6,149.7 947.9,148.4 961.2,147.3 C974.6,146.2 987.9,145.1 1001.2,144.1 C1014.6,143.1 1027.9,142.2 1041.2,141.4 C1054.6,140.6 1067.9,139.8 1081.2,139.2 C1094.6,138.5 1107.9,137.9 1121.2,137.4 C1134.6,136.9 1147.9,136.5 1161.2,136.1 C1174.6,135.8 1187.9,135.5 1201.2,135.3 C1214.6,135.1 1227.9,135.0 1241.2,135.0 C1254.6,135.0 1267.9,135.0 1281.2,135.2 C1294.6,135.3 1307.9,135.6 1321.2,135.9 C1334.6,136.3 1347.9,136.8 1361.2,137.3 C1374.6,137.9 1387.9,138.6 1401.2,139.4 C1414.6,140.1 1427.9,141.0 1441.2,142.0 C1454.6,143.0 1467.9,144.1 1481.2,145.3 C1494.6,146.4 1514.6,148.5 1521.2,149.1" stroke="#0850c0" stroke-opacity="0.14" stroke-width="1.7" stroke-dasharray="224 44" fill="none"/><path d="M562.1,271.9 C568.7,270.3 588.7,265.5 602.1,262.5 C615.4,259.4 628.7,256.5 642.1,253.7 C655.4,250.8 668.7,248.0 682.1,245.4 C695.4,242.7 708.7,240.2 722.1,237.7 C735.4,235.2 748.7,232.8 762.1,230.5 C775.4,228.3 788.7,226.1 802.1,224.0 C815.4,221.9 828.7,219.9 842.1,217.9 C855.4,216.0 868.7,214.2 882.1,212.5 C895.4,210.8 908.7,209.1 922.1,207.6 C935.4,206.1 948.7,204.6 962.1,203.3 C975.4,201.9 988.7,200.7 1002.1,199.5 C1015.4,198.3 1028.7,197.3 1042.1,196.3 C1055.4,195.3 1068.7,194.4 1082.1,193.7 C1095.4,192.9 1108.7,192.2 1122.1,191.6 C1135.4,191.0 1148.7,190.5 1162.1,190.1 C1175.4,189.6 1188.7,189.3 1202.1,189.1 C1215.4,188.9 1235.4,188.8 1242.1,188.7" stroke="#e6f3ff" stroke-opacity="0.49" stroke-width="1.8" stroke-dasharray="246 25" fill="none"/><path d="M541.2,276.4 C547.8,274.7 567.8,269.4 581.2,266.1 C594.5,262.7 607.8,259.5 621.2,256.4 C634.5,253.2 647.8,250.2 661.2,247.2 C674.5,244.3 687.8,241.5 701.2,238.7 C714.5,236.0 727.8,233.3 741.2,230.8 C754.5,228.3 767.8,225.8 781.2,223.5 C794.5,221.1 807.8,218.9 821.2,216.8 C834.5,214.6 847.8,212.6 861.2,210.6 C874.5,208.7 887.8,206.9 901.2,205.1 C914.5,203.4 927.8,201.7 941.2,200.2 C954.5,198.6 967.8,197.2 981.2,195.9 C994.5,194.5 1007.8,193.3 1021.2,192.1 C1034.5,191.0 1047.8,189.9 1061.2,189.0 C1074.5,188.1 1087.8,187.2 1101.2,186.5 C1114.5,185.7 1127.8,185.1 1141.2,184.5 C1154.5,184.0 1167.8,183.6 1181.2,183.2 C1194.5,182.9 1207.8,182.6 1221.2,182.5 C1234.5,182.3 1247.8,182.3 1261.2,182.4 C1274.5,182.4 1287.8,182.6 1301.2,183.0 C1314.5,183.3 1327.8,183.8 1341.2,184.4 C1354.5,184.9 1367.8,185.7 1381.2,186.5 C1394.5,187.4 1407.8,188.3 1421.2,189.5 C1434.5,190.6 1447.8,191.8 1461.2,193.2 C1474.5,194.6 1487.8,196.1 1501.2,197.7 C1514.5,199.3 1527.8,201.1 1541.2,203.0 C1554.5,204.9 1574.5,208.0 1581.2,209.0" stroke="#0850c0" stroke-opacity="0.14" stroke-width="1.8" stroke-dasharray="184 19" fill="none"/><path d="M506.5,190.4 C513.1,189.1 533.1,185.2 546.5,182.7 C559.8,180.2 573.1,177.8 586.5,175.4 C599.8,173.0 613.1,170.7 626.5,168.5 C639.8,166.3 653.1,164.2 666.5,162.1 C679.8,160.0 693.1,158.0 706.5,156.1 C719.8,154.1 733.1,152.3 746.5,150.5 C759.8,148.7 773.1,147.0 786.5,145.3 C799.8,143.7 813.1,142.1 826.5,140.6 C839.8,139.1 853.1,137.7 866.5,136.3 C879.8,134.9 893.1,133.6 906.5,132.4 C919.8,131.2 933.1,130.0 946.5,129.0 C959.8,127.9 973.1,126.9 986.5,125.9 C999.8,125.0 1013.1,124.1 1026.5,123.3 C1039.8,122.5 1053.1,121.8 1066.5,121.2 C1079.8,120.5 1093.1,119.9 1106.5,119.4 C1119.8,118.9 1133.1,118.5 1146.5,118.1 C1159.8,117.7 1173.1,117.4 1186.5,117.2 C1199.8,117.0 1213.1,116.8 1226.5,116.7 C1239.8,116.7 1253.1,116.6 1266.5,116.7 C1279.8,116.8 1299.8,117.1 1306.5,117.2" stroke="#0850c0" stroke-opacity="0.24" stroke-width="1.3" stroke-dasharray="62 23" fill="none"/><path d="M573.6,231.3 C580.2,229.9 600.2,225.6 613.6,222.8 C626.9,220.1 640.2,217.4 653.6,214.9 C666.9,212.3 680.2,209.8 693.6,207.4 C706.9,205.0 720.2,202.7 733.6,200.5 C746.9,198.3 760.2,196.2 773.6,194.1 C786.9,192.1 800.2,190.1 813.6,188.2 C826.9,186.4 840.2,184.6 853.6,182.9 C866.9,181.2 880.2,179.5 893.6,178.0 C906.9,176.5 920.2,175.0 933.6,173.7 C946.9,172.3 960.2,171.0 973.6,169.9 C986.9,168.7 1000.2,167.6 1013.6,166.5 C1026.9,165.5 1040.2,164.6 1053.6,163.8 C1066.9,162.9 1080.2,162.2 1093.6,161.5 C1106.9,160.8 1120.2,160.2 1133.6,159.7 C1146.9,159.2 1160.2,158.8 1173.6,158.5 C1186.9,158.2 1200.2,157.9 1213.6,157.8 C1226.9,157.6 1240.2,157.5 1253.6,157.5 C1266.9,157.6 1286.9,157.9 1293.6,157.9" stroke="#0850c0" stroke-opacity="0.22" stroke-width="1.1" stroke-dasharray="80 26" fill="none"/><path d="M436.5,249.6 C443.2,247.9 463.2,242.6 476.5,239.2 C489.8,235.8 503.2,232.5 516.5,229.2 C529.8,226.0 543.2,222.9 556.5,219.8 C569.8,216.8 583.2,213.8 596.5,211.0 C609.8,208.1 623.2,205.3 636.5,202.6 C649.8,199.9 663.2,197.3 676.5,194.8 C689.8,192.3 703.2,189.8 716.5,187.5 C729.8,185.2 743.2,182.9 756.5,180.7 C769.8,178.6 783.2,176.5 796.5,174.5 C809.8,172.5 823.2,170.6 836.5,168.8 C849.8,167.0 863.2,165.2 876.5,163.6 C889.8,162.0 903.2,160.4 916.5,158.9 C929.8,157.5 943.2,156.1 956.5,154.8 C969.8,153.5 983.2,152.3 996.5,151.2 C1009.8,150.1 1023.2,149.1 1036.5,148.1 C1049.8,147.2 1063.2,146.3 1076.5,145.6 C1089.8,144.8 1103.2,144.1 1116.5,143.6 C1129.8,143.0 1143.2,142.5 1156.5,142.1 C1169.8,141.6 1183.2,141.3 1196.5,141.1 C1209.8,140.9 1223.2,140.7 1236.5,140.6 C1249.8,140.6 1269.8,140.7 1276.5,140.8" stroke="#0850c0" stroke-opacity="0.19" stroke-width="1.4" stroke-dasharray="122 48" fill="none"/><path d="M601.5,168.3 C608.1,167.1 628.1,163.5 641.5,161.2 C654.8,158.9 668.1,156.7 681.5,154.6 C694.8,152.5 708.1,150.4 721.5,148.5 C734.8,146.5 748.1,144.6 761.5,142.7 C774.8,140.9 788.1,139.2 801.5,137.5 C814.8,135.8 828.1,134.2 841.5,132.7 C854.8,131.1 868.1,129.7 881.5,128.3 C894.8,126.9 908.1,125.6 921.5,124.4 C934.8,123.2 948.1,122.0 961.5,120.9 C974.8,119.8 988.1,118.8 1001.5,117.9 C1014.8,117.0 1028.1,116.1 1041.5,115.3 C1054.8,114.6 1068.1,113.9 1081.5,113.2 C1094.8,112.6 1108.1,112.0 1121.5,111.6 C1134.8,111.1 1148.1,110.7 1161.5,110.3 C1174.8,110.0 1188.1,109.7 1201.5,109.6 C1214.8,109.4 1228.1,109.3 1241.5,109.2 C1254.8,109.2 1268.1,109.3 1281.5,109.4 C1294.8,109.6 1308.1,109.8 1321.5,110.2 C1334.8,110.5 1348.1,111.0 1361.5,111.5 C1374.8,112.0 1394.8,113.1 1401.5,113.4" stroke="#0850c0" stroke-opacity="0.30" stroke-width="1.5" stroke-dasharray="99 39" fill="none"/><path d="M939.0,106.1 C945.7,105.6 965.7,104.2 979.0,103.4 C992.3,102.6 1005.7,101.8 1019.0,101.1 C1032.3,100.4 1045.7,99.7 1059.0,99.1 C1072.3,98.5 1085.7,98.0 1099.0,97.5 C1112.3,97.1 1125.7,96.7 1139.0,96.3 C1152.3,96.0 1165.7,95.7 1179.0,95.5 C1192.3,95.2 1205.7,95.1 1219.0,95.0 C1232.3,94.9 1245.7,94.9 1259.0,94.9 C1272.3,94.9 1285.7,95.0 1299.0,95.2 C1312.3,95.4 1325.7,95.7 1339.0,96.1 C1352.3,96.4 1372.3,97.2 1379.0,97.4" stroke="#0850c0" stroke-opacity="0.19" stroke-width="2.2" stroke-dasharray="152 17" fill="none"/><path d="M777.2,95.1 C783.9,94.4 803.9,92.3 817.2,91.0 C830.5,89.7 843.9,88.5 857.2,87.3 C870.5,86.1 883.9,85.0 897.2,84.0 C910.5,82.9 923.9,81.9 937.2,81.0 C950.5,80.0 963.9,79.1 977.2,78.3 C990.5,77.5 1003.9,76.8 1017.2,76.1 C1030.5,75.4 1043.9,74.7 1057.2,74.1 C1070.5,73.6 1083.9,73.0 1097.2,72.6 C1110.5,72.1 1123.9,71.7 1137.2,71.4 C1150.5,71.1 1163.9,70.8 1177.2,70.6 C1190.5,70.3 1203.9,70.2 1217.2,70.1 C1230.5,70.0 1243.9,69.9 1257.2,70.0 C1270.5,70.0 1283.9,70.1 1297.2,70.3 C1310.5,70.5 1323.9,70.7 1337.2,71.1 C1350.5,71.4 1363.9,71.8 1377.2,72.3 C1390.5,72.8 1403.9,73.4 1417.2,74.0 C1430.5,74.7 1443.9,75.4 1457.2,76.2 C1470.5,77.0 1483.9,77.9 1497.2,78.9 C1510.5,79.9 1523.9,80.9 1537.2,82.0 C1550.5,83.1 1563.9,84.3 1577.2,85.6 C1590.5,86.9 1610.5,89.0 1617.2,89.7" stroke="#e6f3ff" stroke-opacity="0.39" stroke-width="1.5" stroke-dasharray="161 16" fill="none"/><path d="M953.8,117.4 C960.5,116.9 980.5,115.3 993.8,114.4 C1007.1,113.4 1020.5,112.6 1033.8,111.8 C1047.1,111.0 1060.5,110.3 1073.8,109.6 C1087.1,109.0 1100.5,108.4 1113.8,107.9 C1127.1,107.4 1140.5,107.0 1153.8,106.7 C1167.1,106.3 1180.5,106.0 1193.8,105.8 C1207.1,105.6 1227.1,105.5 1233.8,105.4" stroke="#e6f3ff" stroke-opacity="0.44" stroke-width="2.4" stroke-dasharray="99 15" fill="none"/><path d="M679.3,262.5 C686.0,260.9 706.0,256.0 719.3,253.0 C732.6,250.0 746.0,247.0 759.3,244.2 C772.6,241.4 786.0,238.7 799.3,236.1 C812.6,233.5 826.0,231.1 839.3,228.7 C852.6,226.4 866.0,224.1 879.3,222.0 C892.6,219.9 906.0,217.9 919.3,216.0 C932.6,214.1 946.0,212.3 959.3,210.6 C972.6,209.0 986.0,207.4 999.3,206.0 C1012.6,204.6 1026.0,203.2 1039.3,202.0 C1052.6,200.8 1066.0,199.7 1079.3,198.7 C1092.6,197.8 1106.0,196.9 1119.3,196.2 C1132.6,195.4 1146.0,194.8 1159.3,194.3 C1172.6,193.7 1192.6,193.2 1199.3,193.0" stroke="#0850c0" stroke-opacity="0.19" stroke-width="2.3" stroke-dasharray="184 43" fill="none"/><path d="M517.7,159.8 C524.4,158.6 544.4,154.7 557.7,152.3 C571.0,149.9 584.4,147.5 597.7,145.2 C611.0,142.9 624.4,140.7 637.7,138.6 C651.0,136.4 664.4,134.3 677.7,132.3 C691.0,130.3 704.4,128.4 717.7,126.5 C731.0,124.6 744.4,122.8 757.7,121.1 C771.0,119.4 784.4,117.7 797.7,116.1 C811.0,114.5 824.4,113.0 837.7,111.6 C851.0,110.1 864.4,108.7 877.7,107.4 C891.0,106.1 904.4,104.9 917.7,103.7 C931.0,102.5 944.4,101.4 957.7,100.4 C971.0,99.4 984.4,98.4 997.7,97.5 C1011.0,96.7 1024.4,95.8 1037.7,95.1 C1051.0,94.4 1064.4,93.7 1077.7,93.1 C1091.0,92.5 1104.4,91.9 1117.7,91.5 C1131.0,91.0 1144.4,90.6 1157.7,90.3 C1171.0,90.0 1184.4,89.7 1197.7,89.5 C1211.0,89.3 1224.4,89.2 1237.7,89.2 C1251.0,89.1 1264.4,89.2 1277.7,89.3 C1291.0,89.4 1304.4,89.6 1317.7,89.9 C1331.0,90.3 1344.4,90.7 1357.7,91.1 C1371.0,91.6 1391.0,92.6 1397.7,92.9" stroke="#0850c0" stroke-opacity="0.27" stroke-width="1.3" stroke-dasharray="104 26" fill="none"/><path d="M456.3,233.2 C463.0,231.6 483.0,226.7 496.3,223.7 C509.6,220.6 523.0,217.6 536.3,214.6 C549.6,211.7 563.0,208.9 576.3,206.1 C589.6,203.3 603.0,200.7 616.3,198.1 C629.6,195.5 643.0,193.0 656.3,190.5 C669.6,188.1 683.0,185.7 696.3,183.5 C709.6,181.2 723.0,179.0 736.3,176.9 C749.6,174.8 763.0,172.8 776.3,170.8 C789.6,168.9 803.0,167.0 816.3,165.3 C829.6,163.5 843.0,161.8 856.3,160.2 C869.6,158.6 883.0,157.0 896.3,155.6 C909.6,154.1 923.0,152.8 936.3,151.5 C949.6,150.2 963.0,149.0 976.3,147.9 C989.6,146.8 1003.0,145.7 1016.3,144.8 C1029.6,143.8 1043.0,142.9 1056.3,142.1 C1069.6,141.3 1083.0,140.6 1096.3,140.0 C1109.6,139.4 1123.0,138.8 1136.3,138.3 C1149.6,137.9 1163.0,137.5 1176.3,137.2 C1189.6,136.9 1203.0,136.7 1216.3,136.5 C1229.6,136.4 1243.0,136.3 1256.3,136.4 C1269.6,136.4 1289.6,136.7 1296.3,136.8" stroke="#0850c0" stroke-opacity="0.28" stroke-width="1.1" stroke-dasharray="172 40" fill="none"/><path d="M453.0,150.0 C459.7,148.7 479.7,144.9 493.0,142.5 C506.3,140.0 519.7,137.6 533.0,135.3 C546.3,133.0 559.7,130.8 573.0,128.6 C586.3,126.4 599.7,124.3 613.0,122.2 C626.3,120.1 639.7,118.1 653.0,116.2 C666.3,114.3 679.7,112.4 693.0,110.6 C706.3,108.8 719.7,107.1 733.0,105.4 C746.3,103.7 759.7,102.1 773.0,100.6 C786.3,99.1 799.7,97.6 813.0,96.2 C826.3,94.8 839.7,93.4 853.0,92.1 C866.3,90.8 879.7,89.6 893.0,88.5 C906.3,87.3 919.7,86.2 933.0,85.2 C946.3,84.2 959.7,83.2 973.0,82.3 C986.3,81.4 999.7,80.6 1013.0,79.8 C1026.3,79.1 1039.7,78.4 1053.0,77.7 C1066.3,77.1 1079.7,76.5 1093.0,76.0 C1106.3,75.5 1119.7,75.1 1133.0,74.7 C1146.3,74.3 1159.7,74.0 1173.0,73.8 C1186.3,73.5 1199.7,73.3 1213.0,73.2 C1226.3,73.1 1239.7,73.0 1253.0,73.0 C1266.3,73.1 1279.7,73.1 1293.0,73.3 C1306.3,73.5 1319.7,73.8 1333.0,74.1 C1346.3,74.5 1359.7,74.9 1373.0,75.4 C1386.3,75.9 1399.7,76.5 1413.0,77.2 C1426.3,77.9 1439.7,78.7 1453.0,79.5 C1466.3,80.4 1486.3,81.9 1493.0,82.3" stroke="#0850c0" stroke-opacity="0.23" stroke-width="1.4" stroke-dasharray="144 33" fill="none"/><path d="M657.0,178.2 C663.7,177.0 683.7,173.4 697.0,171.2 C710.3,168.9 723.7,166.7 737.0,164.6 C750.3,162.5 763.7,160.5 777.0,158.6 C790.3,156.6 803.7,154.8 817.0,153.0 C830.3,151.2 843.7,149.5 857.0,147.9 C870.3,146.3 883.7,144.8 897.0,143.3 C910.3,141.9 923.7,140.5 937.0,139.2 C950.3,138.0 963.7,136.8 977.0,135.6 C990.3,134.5 1003.7,133.5 1017.0,132.5 C1030.3,131.6 1043.7,130.7 1057.0,129.9 C1070.3,129.1 1083.7,128.4 1097.0,127.8 C1110.3,127.2 1123.7,126.6 1137.0,126.2 C1150.3,125.7 1163.7,125.3 1177.0,125.0 C1190.3,124.7 1203.7,124.5 1217.0,124.4 C1230.3,124.2 1243.7,124.2 1257.0,124.2 C1270.3,124.3 1283.7,124.4 1297.0,124.6 C1310.3,124.9 1323.7,125.2 1337.0,125.7 C1350.3,126.2 1363.7,126.7 1377.0,127.4 C1390.3,128.1 1410.3,129.4 1417.0,129.8" stroke="#e6f3ff" stroke-opacity="0.39" stroke-width="1.7" stroke-dasharray="107 41" fill="none"/><path d="M491.3,274.4 C498.0,272.7 518.0,267.2 531.3,263.8 C544.7,260.4 558.0,257.0 571.3,253.8 C584.7,250.5 598.0,247.3 611.3,244.3 C624.7,241.2 638.0,238.3 651.3,235.4 C664.7,232.5 678.0,229.7 691.3,227.1 C704.7,224.4 718.0,221.8 731.3,219.3 C744.7,216.8 758.0,214.4 771.3,212.1 C784.7,209.9 798.0,207.7 811.3,205.5 C824.7,203.4 838.0,201.4 851.3,199.5 C864.7,197.6 878.0,195.8 891.3,194.1 C904.7,192.4 918.0,190.7 931.3,189.2 C944.7,187.7 958.0,186.3 971.3,184.9 C984.7,183.6 998.0,182.3 1011.3,181.2 C1024.7,180.1 1038.0,179.0 1051.3,178.1 C1064.7,177.1 1078.0,176.2 1091.3,175.5 C1104.7,174.7 1118.0,174.1 1131.3,173.5 C1144.7,172.9 1158.0,172.4 1171.3,172.1 C1184.7,171.7 1198.0,171.4 1211.3,171.2 C1224.7,171.0 1238.0,170.9 1251.3,171.0 C1264.7,171.0 1278.0,171.1 1291.3,171.4 C1304.7,171.6 1318.0,172.0 1331.3,172.5 C1344.7,173.0 1358.0,173.6 1371.3,174.4 C1384.7,175.2 1404.7,176.6 1411.3,177.0" stroke="#e6f3ff" stroke-opacity="0.24" stroke-width="1.6" stroke-dasharray="78 28" fill="none"/><path d="M774.6,167.5 C781.3,166.6 801.3,164.0 814.6,162.3 C827.9,160.7 841.3,159.1 854.6,157.6 C867.9,156.1 881.3,154.7 894.6,153.3 C907.9,152.0 921.3,150.7 934.6,149.5 C947.9,148.3 961.3,147.2 974.6,146.1 C987.9,145.1 1001.3,144.1 1014.6,143.2 C1027.9,142.3 1041.3,141.5 1054.6,140.8 C1067.9,140.0 1081.3,139.4 1094.6,138.8 C1107.9,138.2 1121.3,137.7 1134.6,137.2 C1147.9,136.8 1161.3,136.4 1174.6,136.2 C1187.9,135.9 1207.9,135.6 1214.6,135.5" stroke="#0850c0" stroke-opacity="0.26" stroke-width="1.7" stroke-dasharray="71 30" fill="none"/><path d="M464.4,215.1 C471.1,213.5 491.1,208.6 504.4,205.5 C517.8,202.3 531.1,199.3 544.4,196.3 C557.8,193.4 571.1,190.5 584.4,187.7 C597.8,184.9 611.1,182.2 624.4,179.5 C637.8,176.9 651.1,174.4 664.4,171.9 C677.8,169.4 691.1,167.1 704.4,164.8 C717.8,162.5 731.1,160.3 744.4,158.2 C757.8,156.0 771.1,154.0 784.4,152.0 C797.8,150.1 811.1,148.2 824.4,146.4 C837.8,144.6 851.1,142.9 864.4,141.3 C877.8,139.7 891.1,138.1 904.4,136.7 C917.8,135.2 931.1,133.9 944.4,132.6 C957.8,131.3 971.1,130.1 984.4,129.0 C997.8,127.9 1011.1,126.8 1024.4,125.9 C1037.8,124.9 1051.1,124.1 1064.4,123.3 C1077.8,122.5 1091.1,121.8 1104.4,121.2 C1117.8,120.6 1131.1,120.1 1144.4,119.6 C1157.8,119.2 1171.1,118.8 1184.4,118.6 C1197.8,118.3 1211.1,118.1 1224.4,118.0 C1237.8,117.9 1251.1,117.8 1264.4,117.9 C1277.8,118.0 1291.1,118.2 1304.4,118.5 C1317.8,118.8 1331.1,119.2 1344.4,119.7 C1357.8,120.2 1371.1,120.8 1384.4,121.6 C1397.8,122.3 1411.1,123.2 1424.4,124.1 C1437.8,125.1 1451.1,126.1 1464.4,127.3 C1477.8,128.5 1491.1,129.7 1504.4,131.1 C1517.8,132.5 1531.1,134.0 1544.4,135.6 C1557.8,137.2 1571.1,139.0 1584.4,140.8 C1597.8,142.6 1617.8,145.6 1624.4,146.6" stroke="#0850c0" stroke-opacity="0.25" stroke-width="2.1" stroke-dasharray="99 49" fill="none"/><path d="M947.9,148.4 C954.6,147.7 974.6,145.7 987.9,144.5 C1001.3,143.4 1014.6,142.3 1027.9,141.3 C1041.3,140.3 1054.6,139.4 1067.9,138.5 C1081.3,137.7 1094.6,137.0 1107.9,136.3 C1121.3,135.7 1134.6,135.1 1147.9,134.7 C1161.3,134.2 1174.6,133.9 1187.9,133.6 C1201.3,133.3 1214.6,133.1 1227.9,133.0 C1241.3,132.9 1261.3,133.0 1267.9,133.0" stroke="#0850c0" stroke-opacity="0.29" stroke-width="1.1" stroke-dasharray="130 40" fill="none"/><path d="M550.5,154.7 C557.2,153.5 577.2,149.8 590.5,147.4 C603.8,145.0 617.2,142.8 630.5,140.5 C643.8,138.3 657.2,136.2 670.5,134.1 C683.8,132.0 697.2,130.0 710.5,128.1 C723.8,126.1 737.2,124.3 750.5,122.5 C763.8,120.7 777.2,119.0 790.5,117.3 C803.8,115.7 817.2,114.1 830.5,112.6 C843.8,111.1 857.2,109.7 870.5,108.3 C883.8,107.0 897.2,105.7 910.5,104.4 C923.8,103.2 937.2,102.1 950.5,101.0 C963.8,99.9 977.2,98.9 990.5,98.0 C1003.8,97.1 1017.2,96.2 1030.5,95.4 C1043.8,94.6 1057.2,93.9 1070.5,93.3 C1083.8,92.6 1097.2,92.1 1110.5,91.6 C1123.8,91.1 1137.2,90.6 1150.5,90.3 C1163.8,89.9 1177.2,89.6 1190.5,89.4 C1203.8,89.2 1217.2,89.1 1230.5,89.0 C1243.8,88.9 1257.2,88.9 1270.5,89.0 C1283.8,89.1 1297.2,89.3 1310.5,89.6 C1323.8,89.9 1337.2,90.3 1350.5,90.7 C1363.8,91.2 1377.2,91.8 1390.5,92.4 C1403.8,93.1 1417.2,93.8 1430.5,94.6 C1443.8,95.5 1457.2,96.4 1470.5,97.5 C1483.8,98.5 1497.2,99.6 1510.5,100.8 C1523.8,102.0 1537.2,103.3 1550.5,104.7 C1563.8,106.1 1583.8,108.5 1590.5,109.2" stroke="#e6f3ff" stroke-opacity="0.35" stroke-width="2.3" stroke-dasharray="102 21" fill="none"/><path d="M402.8,242.9 C409.5,241.2 429.5,236.1 442.8,232.9 C456.2,229.7 469.5,226.5 482.8,223.4 C496.2,220.3 509.5,217.3 522.8,214.4 C536.2,211.5 549.5,208.7 562.8,205.9 C576.2,203.1 589.5,200.5 602.8,197.9 C616.2,195.3 629.5,192.7 642.8,190.3 C656.2,187.9 669.5,185.5 682.8,183.2 C696.2,181.0 709.5,178.8 722.8,176.6 C736.2,174.5 749.5,172.5 762.8,170.5 C776.2,168.6 789.5,166.7 802.8,164.9 C816.2,163.1 829.5,161.4 842.8,159.8 C856.2,158.1 869.5,156.6 882.8,155.1 C896.2,153.6 909.5,152.2 922.8,150.9 C936.2,149.6 949.5,148.4 962.8,147.2 C976.2,146.1 989.5,145.0 1002.8,144.0 C1016.2,143.0 1029.5,142.1 1042.8,141.3 C1056.2,140.4 1069.5,139.7 1082.8,139.0 C1096.2,138.3 1109.5,137.7 1122.8,137.2 C1136.2,136.7 1149.5,136.3 1162.8,135.9 C1176.2,135.6 1189.5,135.3 1202.8,135.1 C1216.2,134.9 1229.5,134.8 1242.8,134.8 C1256.2,134.8 1276.2,135.0 1282.8,135.0" stroke="#e6f3ff" stroke-opacity="0.48" stroke-width="2.0" stroke-dasharray="239 17" fill="none"/><path d="M709.0,220.7 C715.7,219.5 735.7,215.9 749.0,213.7 C762.4,211.5 775.7,209.3 789.0,207.2 C802.4,205.2 815.7,203.2 829.0,201.3 C842.4,199.4 855.7,197.6 869.0,195.9 C882.4,194.2 895.7,192.6 909.0,191.1 C922.4,189.6 935.7,188.1 949.0,186.8 C962.4,185.4 975.7,184.2 989.0,183.0 C1002.4,181.9 1015.7,180.8 1029.0,179.8 C1042.4,178.8 1055.7,177.9 1069.0,177.1 C1082.4,176.3 1095.7,175.6 1109.0,174.9 C1122.4,174.3 1135.7,173.8 1149.0,173.3 C1162.4,172.9 1175.7,172.5 1189.0,172.2 C1202.4,172.0 1215.7,171.8 1229.0,171.7 C1242.4,171.6 1255.7,171.6 1269.0,171.7 C1282.4,171.8 1295.7,172.0 1309.0,172.4 C1322.4,172.7 1335.7,173.2 1349.0,173.7 C1362.4,174.3 1375.7,175.0 1389.0,175.8 C1402.4,176.6 1415.7,177.6 1429.0,178.6 C1442.4,179.6 1455.7,180.8 1469.0,182.1 C1482.4,183.3 1502.4,185.5 1509.0,186.2" stroke="#e6f3ff" stroke-opacity="0.46" stroke-width="1.8" stroke-dasharray="176 45" fill="none"/><path d="M770.5,112.0 C777.1,111.2 797.1,108.7 810.5,107.2 C823.8,105.6 837.1,104.2 850.5,102.8 C863.8,101.4 877.1,100.0 890.5,98.8 C903.8,97.5 917.1,96.3 930.5,95.2 C943.8,94.1 957.1,93.1 970.5,92.1 C983.8,91.1 997.1,90.2 1010.5,89.3 C1023.8,88.5 1037.1,87.7 1050.5,87.0 C1063.8,86.3 1077.1,85.7 1090.5,85.2 C1103.8,84.6 1117.1,84.1 1130.5,83.7 C1143.8,83.3 1157.1,82.9 1170.5,82.6 C1183.8,82.4 1197.1,82.2 1210.5,82.0 C1223.8,81.9 1237.1,81.8 1250.5,81.8 C1263.8,81.8 1277.1,81.9 1290.5,82.1 C1303.8,82.3 1317.1,82.5 1330.5,82.9 C1343.8,83.3 1363.8,84.1 1370.5,84.3" stroke="#0850c0" stroke-opacity="0.17" stroke-width="2.4" stroke-dasharray="175 24" fill="none"/><path d="M489.6,271.7 C496.3,270.0 516.3,264.6 529.6,261.2 C542.9,257.8 556.3,254.5 569.6,251.2 C582.9,248.0 596.3,244.9 609.6,241.9 C622.9,238.8 636.3,235.9 649.6,233.0 C662.9,230.2 676.3,227.4 689.6,224.8 C702.9,222.1 716.3,219.6 729.6,217.1 C742.9,214.6 756.3,212.2 769.6,210.0 C782.9,207.7 796.3,205.5 809.6,203.4 C822.9,201.3 836.3,199.3 849.6,197.4 C862.9,195.5 876.3,193.7 889.6,192.0 C902.9,190.3 916.3,188.7 929.6,187.2 C942.9,185.7 956.3,184.2 969.6,182.9 C982.9,181.6 996.3,180.3 1009.6,179.2 C1022.9,178.1 1036.3,177.0 1049.6,176.1 C1062.9,175.1 1076.3,174.3 1089.6,173.5 C1102.9,172.7 1116.3,172.1 1129.6,171.5 C1142.9,170.9 1156.3,170.5 1169.6,170.1 C1182.9,169.7 1196.3,169.4 1209.6,169.2 C1222.9,169.0 1236.3,168.9 1249.6,168.9 C1262.9,168.9 1276.3,169.1 1289.6,169.3 C1302.9,169.5 1316.3,169.9 1329.6,170.4 C1342.9,170.9 1356.3,171.5 1369.6,172.2 C1382.9,173.0 1396.3,173.8 1409.6,174.8 C1422.9,175.8 1436.3,176.9 1449.6,178.1 C1462.9,179.4 1476.3,180.7 1489.6,182.2 C1502.9,183.7 1516.3,185.3 1529.6,187.0 C1542.9,188.7 1562.9,191.6 1569.6,192.5" stroke="#e6f3ff" stroke-opacity="0.45" stroke-width="1.4" stroke-dasharray="188 49" fill="none"/><path d="M573.8,222.6 C580.5,221.1 600.5,216.6 613.8,213.7 C627.2,210.8 640.5,208.0 653.8,205.4 C667.2,202.7 680.5,200.1 693.8,197.6 C707.2,195.1 720.5,192.7 733.8,190.3 C747.2,188.0 760.5,185.8 773.8,183.6 C787.2,181.5 800.5,179.4 813.8,177.5 C827.2,175.5 840.5,173.6 853.8,171.8 C867.2,170.1 880.5,168.4 893.8,166.8 C907.2,165.2 920.5,163.6 933.8,162.2 C947.2,160.8 960.5,159.5 973.8,158.2 C987.2,157.0 1000.5,155.8 1013.8,154.8 C1027.2,153.7 1040.5,152.7 1053.8,151.8 C1067.2,151.0 1080.5,150.2 1093.8,149.5 C1107.2,148.8 1120.5,148.1 1133.8,147.6 C1147.2,147.1 1167.2,146.5 1173.8,146.3" stroke="#e6f3ff" stroke-opacity="0.24" stroke-width="1.9" stroke-dasharray="146 31" fill="none"/><path d="M520.9,280.7 C527.6,279.0 547.6,273.9 560.9,270.6 C574.2,267.3 587.6,264.2 600.9,261.1 C614.2,258.0 627.6,255.0 640.9,252.1 C654.2,249.3 667.6,246.5 680.9,243.8 C694.2,241.1 707.6,238.5 720.9,236.0 C734.2,233.5 747.6,231.0 760.9,228.7 C774.2,226.4 787.6,224.2 800.9,222.1 C814.2,219.9 827.6,217.9 840.9,216.0 C854.2,214.0 867.6,212.2 880.9,210.4 C894.2,208.7 907.6,207.0 920.9,205.5 C934.2,203.9 947.6,202.4 960.9,201.1 C974.2,199.7 987.6,198.4 1000.9,197.2 C1014.2,196.1 1027.6,195.0 1040.9,194.0 C1054.2,193.0 1067.6,192.1 1080.9,191.3 C1094.2,190.5 1107.6,189.8 1120.9,189.2 C1134.2,188.6 1147.6,188.0 1160.9,187.6 C1174.2,187.2 1187.6,186.9 1200.9,186.6 C1214.2,186.4 1227.6,186.3 1240.9,186.2 C1254.2,186.2 1267.6,186.2 1280.9,186.4 C1294.2,186.6 1307.6,186.9 1320.9,187.4 C1334.2,187.8 1347.6,188.4 1360.9,189.1 C1374.2,189.7 1387.6,190.5 1400.9,191.5 C1414.2,192.4 1427.6,193.5 1440.9,194.6 C1454.2,195.8 1467.6,197.1 1480.9,198.5 C1494.2,200.0 1514.2,202.4 1520.9,203.2" stroke="#e6f3ff" stroke-opacity="0.20" stroke-width="1.5" stroke-dasharray="81 24" fill="none"/><path d="M745.2,131.4 C751.9,130.5 771.9,127.9 785.2,126.3 C798.6,124.6 811.9,123.0 825.2,121.5 C838.6,120.0 851.9,118.6 865.2,117.2 C878.6,115.9 891.9,114.6 905.2,113.4 C918.6,112.2 931.9,111.0 945.2,109.9 C958.6,108.8 971.9,107.8 985.2,106.9 C998.6,106.0 1011.9,105.1 1025.2,104.3 C1038.6,103.5 1051.9,102.8 1065.2,102.1 C1078.6,101.5 1091.9,100.9 1105.2,100.4 C1118.6,99.9 1131.9,99.4 1145.2,99.1 C1158.6,98.7 1171.9,98.4 1185.2,98.2 C1198.6,97.9 1211.9,97.8 1225.2,97.7 C1238.6,97.6 1258.6,97.6 1265.2,97.6" stroke="#0850c0" stroke-opacity="0.21" stroke-width="1.2" stroke-dasharray="247 20" fill="none"/><path d="M775.7,113.3 C782.4,112.6 802.4,110.5 815.7,109.1 C829.0,107.8 842.4,106.6 855.7,105.4 C869.0,104.2 882.4,103.1 895.7,102.0 C909.0,100.9 922.4,99.9 935.7,98.9 C949.0,98.0 962.4,97.1 975.7,96.3 C989.0,95.4 1002.4,94.7 1015.7,93.9 C1029.0,93.2 1042.4,92.6 1055.7,92.0 C1069.0,91.4 1082.4,90.9 1095.7,90.4 C1109.0,89.9 1122.4,89.5 1135.7,89.2 C1149.0,88.8 1162.4,88.6 1175.7,88.3 C1189.0,88.1 1202.4,87.9 1215.7,87.8 C1229.0,87.7 1242.4,87.7 1255.7,87.7 C1269.0,87.7 1282.4,87.8 1295.7,88.0 C1309.0,88.2 1322.4,88.5 1335.7,88.8 C1349.0,89.1 1362.4,89.5 1375.7,90.0 C1389.0,90.5 1402.4,91.1 1415.7,91.8 C1429.0,92.4 1442.4,93.1 1455.7,94.0 C1469.0,94.8 1482.4,95.7 1495.7,96.6 C1509.0,97.6 1522.4,98.6 1535.7,99.8 C1549.0,100.9 1562.4,102.1 1575.7,103.4 C1589.0,104.7 1609.0,106.8 1615.7,107.5" stroke="#0850c0" stroke-opacity="0.19" stroke-width="1.4" stroke-dasharray="62 36" fill="none"/><path d="M780.3,176.8 C786.9,175.8 806.9,172.9 820.3,171.1 C833.6,169.3 846.9,167.6 860.3,166.0 C873.6,164.4 886.9,162.8 900.3,161.4 C913.6,159.9 926.9,158.5 940.3,157.2 C953.6,156.0 966.9,154.7 980.3,153.6 C993.6,152.5 1006.9,151.4 1020.3,150.5 C1033.6,149.5 1046.9,148.7 1060.3,147.9 C1073.6,147.1 1086.9,146.4 1100.3,145.7 C1113.6,145.1 1126.9,144.6 1140.3,144.1 C1153.6,143.7 1166.9,143.3 1180.3,143.0 C1193.6,142.7 1206.9,142.5 1220.3,142.4 C1233.6,142.2 1246.9,142.2 1260.3,142.2 C1273.6,142.3 1286.9,142.5 1300.3,142.7 C1313.6,143.0 1326.9,143.4 1340.3,143.9 C1353.6,144.4 1366.9,145.0 1380.3,145.7 C1393.6,146.4 1413.6,147.7 1420.3,148.1" stroke="#0850c0" stroke-opacity="0.25" stroke-width="1.3" stroke-dasharray="241 12" fill="none"/><path d="M527.4,219.4 C534.0,218.0 554.0,213.5 567.4,210.7 C580.7,207.8 594.0,205.1 607.4,202.4 C620.7,199.8 634.0,197.2 647.4,194.7 C660.7,192.2 674.0,189.8 687.4,187.4 C700.7,185.1 714.0,182.8 727.4,180.7 C740.7,178.5 754.0,176.4 767.4,174.4 C780.7,172.4 794.0,170.5 807.4,168.6 C820.7,166.8 834.0,165.1 847.4,163.4 C860.7,161.7 874.0,160.1 887.4,158.6 C900.7,157.1 914.0,155.7 927.4,154.4 C940.7,153.0 954.0,151.8 967.4,150.6 C980.7,149.4 994.0,148.3 1007.4,147.3 C1020.7,146.3 1034.0,145.4 1047.4,144.6 C1060.7,143.7 1074.0,143.0 1087.4,142.3 C1100.7,141.6 1114.0,141.0 1127.4,140.5 C1140.7,140.0 1154.0,139.6 1167.4,139.2 C1180.7,138.9 1200.7,138.6 1207.4,138.4" stroke="#0850c0" stroke-opacity="0.12" stroke-width="1.8" stroke-dasharray="248 16" fill="none"/><path d="M694.3,134.8 C701.0,133.9 721.0,131.0 734.3,129.2 C747.6,127.4 761.0,125.6 774.3,124.0 C787.6,122.3 801.0,120.7 814.3,119.2 C827.6,117.7 841.0,116.2 854.3,114.8 C867.6,113.5 881.0,112.2 894.3,110.9 C907.6,109.7 921.0,108.5 934.3,107.4 C947.6,106.3 961.0,105.3 974.3,104.3 C987.6,103.3 1001.0,102.4 1014.3,101.6 C1027.6,100.8 1041.0,100.0 1054.3,99.4 C1067.6,98.7 1081.0,98.1 1094.3,97.5 C1107.6,97.0 1121.0,96.5 1134.3,96.1 C1147.6,95.7 1161.0,95.4 1174.3,95.1 C1187.6,94.8 1201.0,94.6 1214.3,94.5 C1227.6,94.4 1241.0,94.3 1254.3,94.3 C1267.6,94.4 1281.0,94.5 1294.3,94.7 C1307.6,94.9 1321.0,95.2 1334.3,95.5 C1347.6,95.9 1361.0,96.4 1374.3,97.0 C1387.6,97.5 1401.0,98.2 1414.3,98.9 C1427.6,99.7 1441.0,100.5 1454.3,101.4 C1467.6,102.4 1487.6,104.0 1494.3,104.5" stroke="#0850c0" stroke-opacity="0.15" stroke-width="1.4" stroke-dasharray="120 12" fill="none"/><path d="M823.5,222.1 C830.2,221.1 850.2,217.7 863.5,215.6 C876.9,213.5 890.2,211.5 903.5,209.7 C916.9,207.8 930.2,206.0 943.5,204.4 C956.9,202.7 970.2,201.2 983.5,199.7 C996.9,198.3 1010.2,197.0 1023.5,195.8 C1036.9,194.5 1050.2,193.4 1063.5,192.4 C1076.9,191.4 1090.2,190.5 1103.5,189.7 C1116.9,188.9 1130.2,188.3 1143.5,187.7 C1156.9,187.1 1176.9,186.5 1183.5,186.3" stroke="#0850c0" stroke-opacity="0.25" stroke-width="1.7" stroke-dasharray="208 28" fill="none"/><path d="M524.0,161.2 C530.7,160.1 550.7,156.7 564.0,154.5 C577.4,152.2 590.7,150.1 604.0,148.0 C617.4,146.0 630.7,144.0 644.0,142.0 C657.4,140.1 670.7,138.2 684.0,136.4 C697.4,134.6 710.7,132.8 724.0,131.1 C737.4,129.4 750.7,127.8 764.0,126.2 C777.4,124.7 790.7,123.2 804.0,121.8 C817.4,120.3 830.7,119.0 844.0,117.7 C857.4,116.4 870.7,115.1 884.0,113.9 C897.4,112.8 910.7,111.7 924.0,110.6 C937.4,109.6 950.7,108.6 964.0,107.7 C977.4,106.7 990.7,105.9 1004.0,105.1 C1017.4,104.3 1030.7,103.6 1044.0,102.9 C1057.4,102.3 1070.7,101.7 1084.0,101.1 C1097.4,100.6 1110.7,100.1 1124.0,99.7 C1137.4,99.3 1150.7,99.0 1164.0,98.7 C1177.4,98.4 1197.4,98.2 1204.0,98.1" stroke="#e6f3ff" stroke-opacity="0.42" stroke-width="2.0" stroke-dasharray="229 38" fill="none"/><path d="M650.4,151.9 C657.0,150.9 677.0,147.7 690.4,145.6 C703.7,143.6 717.0,141.6 730.4,139.8 C743.7,137.9 757.0,136.1 770.4,134.3 C783.7,132.6 797.0,130.9 810.4,129.3 C823.7,127.8 837.0,126.2 850.4,124.8 C863.7,123.3 877.0,122.0 890.4,120.7 C903.7,119.4 917.0,118.1 930.4,117.0 C943.7,115.8 957.0,114.7 970.4,113.7 C983.7,112.7 997.0,111.8 1010.4,110.9 C1023.7,110.0 1037.0,109.2 1050.4,108.5 C1063.7,107.8 1077.0,107.1 1090.4,106.6 C1103.7,106.0 1117.0,105.5 1130.4,105.1 C1143.7,104.6 1157.0,104.3 1170.4,104.0 C1183.7,103.7 1197.0,103.5 1210.4,103.3 C1223.7,103.2 1237.0,103.1 1250.4,103.1 C1263.7,103.1 1277.0,103.2 1290.4,103.4 C1303.7,103.6 1317.0,103.9 1330.4,104.2 C1343.7,104.6 1357.0,105.1 1370.4,105.7 C1383.7,106.2 1397.0,106.9 1410.4,107.6 C1423.7,108.4 1437.0,109.3 1450.4,110.2 C1463.7,111.1 1477.0,112.2 1490.4,113.3 C1503.7,114.4 1517.0,115.7 1530.4,117.0 C1543.7,118.3 1563.7,120.5 1570.4,121.2" stroke="#e6f3ff" stroke-opacity="0.28" stroke-width="1.9" stroke-dasharray="253 19" fill="none"/><path d="M541.4,270.5 C548.1,268.9 568.1,264.1 581.4,261.0 C594.8,258.0 608.1,255.0 621.4,252.1 C634.8,249.2 648.1,246.4 661.4,243.7 C674.8,241.0 688.1,238.4 701.4,235.9 C714.8,233.4 728.1,231.0 741.4,228.6 C754.8,226.3 768.1,224.1 781.4,221.9 C794.8,219.8 808.1,217.7 821.4,215.8 C834.8,213.8 848.1,211.9 861.4,210.1 C874.8,208.3 888.1,206.7 901.4,205.1 C914.8,203.5 928.1,202.0 941.4,200.5 C954.8,199.1 968.1,197.8 981.4,196.6 C994.8,195.3 1008.1,194.2 1021.4,193.2 C1034.8,192.1 1048.1,191.1 1061.4,190.3 C1074.8,189.4 1088.1,188.6 1101.4,188.0 C1114.8,187.3 1128.1,186.7 1141.4,186.2 C1154.8,185.7 1168.1,185.3 1181.4,185.0 C1194.8,184.7 1208.1,184.4 1221.4,184.3 C1234.8,184.2 1248.1,184.1 1261.4,184.2 C1274.8,184.3 1294.8,184.7 1301.4,184.8" stroke="#0850c0" stroke-opacity="0.29" stroke-width="2.0" stroke-dasharray="125 45" fill="none"/><path d="M942.7,123.9 C949.4,123.4 969.4,121.8 982.7,120.9 C996.0,119.9 1009.4,119.0 1022.7,118.2 C1036.0,117.4 1049.4,116.7 1062.7,116.0 C1076.0,115.4 1089.4,114.8 1102.7,114.2 C1116.0,113.7 1129.4,113.3 1142.7,112.9 C1156.0,112.5 1169.4,112.2 1182.7,112.0 C1196.0,111.7 1209.4,111.6 1222.7,111.5 C1236.0,111.4 1249.4,111.3 1262.7,111.4 C1276.0,111.5 1289.4,111.6 1302.7,111.8 C1316.0,112.1 1329.4,112.4 1342.7,112.9 C1356.0,113.3 1369.4,113.8 1382.7,114.4 C1396.0,115.0 1409.4,115.7 1422.7,116.5 C1436.0,117.3 1449.4,118.2 1462.7,119.2 C1476.0,120.2 1496.0,121.9 1502.7,122.4" stroke="#0850c0" stroke-opacity="0.24" stroke-width="2.4" stroke-dasharray="154 44" fill="none"/></g>
<g filter="url(#spkMottle)"><rect x="164" y="67" width="1672" height="535" fill="#000"/><ellipse cx="1120" cy="290" rx="150" ry="110" fill="#787878" filter="url(#b30)"/><ellipse cx="1290" cy="260" rx="60" ry="90" fill="#808080" filter="url(#b30)"/></g>
<path d="M164.2,82.2 L213,85 L189.7,104.5 L172.7,104.5 Z" fill="#c4e4ff"/>
<path d="M174.5,84 L193,84.5 L184,104.5 L177.5,104.5 Z" fill="#4aacf6"/>
<line x1="173" y1="83.5" x2="176.8" y2="104.5" stroke="#000" stroke-width="1"/>
<path d="M1816,85.3 L1836,85 L1836,98 Z" fill="#c8e6ff"/>
<path d="M1822,85.5 L1836,85.5 L1836,94 Z" fill="#000"/>
<ellipse cx="590" cy="168" rx="40" ry="22" fill="#d8ecff" filter="url(#b10)" opacity="0.8"/>
<path d="M590.0,167.0 C595.5,166.8 608.7,165.2 623.0,166.0 C637.3,166.8 658.3,167.3 676.0,172.0 C693.7,176.7 711.3,184.5 729.0,194.0 C746.7,203.5 761.8,216.0 782.0,229.0 C802.2,242.0 831.5,260.3 850.0,272.0 C868.5,283.7 880.0,289.7 893.0,299.0 C906.0,308.3 916.3,318.7 928.0,328.0 C939.7,337.3 951.0,346.3 963.0,355.0 C975.0,363.7 985.5,371.5 1000.0,380.0 C1014.5,388.5 1035.3,398.0 1050.0,406.0 C1064.7,414.0 1075.3,421.7 1088.0,428.0 C1100.7,434.3 1113.3,438.5 1126.0,444.0 C1138.7,449.5 1152.2,456.5 1164.0,461.0 C1175.8,465.5 1189.0,469.5 1197.0,471.0 C1205.0,472.5 1209.5,470.2 1212.0,470.0" fill="none" stroke="#8ccaff" stroke-width="44" filter="url(#b10)" opacity="0.9"/>
<path d="M575.0,164.0 C583.0,164.3 606.2,164.5 623.0,166.0 C639.8,167.5 658.3,168.3 676.0,173.0 C693.7,177.7 711.3,184.7 729.0,194.0 C746.7,203.3 765.2,218.0 782.0,229.0 C798.8,240.0 822.0,254.8 830.0,260.0" fill="none" stroke="#f0f8ff" stroke-width="40" filter="url(#b10)"/>
<path d="M590.0,167.0 C595.5,166.8 608.7,165.2 623.0,166.0 C637.3,166.8 658.3,167.3 676.0,172.0 C693.7,176.7 711.3,184.5 729.0,194.0 C746.7,203.5 761.8,216.0 782.0,229.0 C802.2,242.0 831.5,260.3 850.0,272.0 C868.5,283.7 880.0,289.7 893.0,299.0 C906.0,308.3 916.3,318.7 928.0,328.0 C939.7,337.3 951.0,346.3 963.0,355.0 C975.0,363.7 985.5,371.5 1000.0,380.0 C1014.5,388.5 1035.3,398.0 1050.0,406.0 C1064.7,414.0 1075.3,421.7 1088.0,428.0 C1100.7,434.3 1113.3,438.5 1126.0,444.0 C1138.7,449.5 1152.2,456.5 1164.0,461.0 C1175.8,465.5 1189.0,469.5 1197.0,471.0 C1205.0,472.5 1209.5,470.2 1212.0,470.0" fill="none" stroke="#f8fcff" stroke-width="19" filter="url(#b3)"/>
<path d="M700.0,183.0 C713.7,190.7 757.0,214.2 782.0,229.0 C807.0,243.8 831.5,260.3 850.0,272.0 C868.5,283.7 880.0,289.7 893.0,299.0 C906.0,308.3 922.2,323.2 928.0,328.0" fill="none" stroke="#f8fcff" stroke-width="31" filter="url(#b6)"/>
<ellipse cx="1140" cy="452" rx="78" ry="26" transform="rotate(20 1140 452)" fill="#eef7ff" filter="url(#b10)" opacity="0.9"/>
<path d="M1170,462 C1185,440 1201,411 1227,376 C1238,358 1247,340 1252,332" fill="none" stroke="#8ccaff" stroke-width="34" filter="url(#b10)" opacity="0.7"/>
<path d="M1170,462 C1185,440 1201,411 1227,376 C1238,358 1247,340 1252,332" fill="none" stroke="#f4faff" stroke-width="17" filter="url(#b3)"/>
<ellipse cx="1225" cy="430" rx="30" ry="35" fill="#8ccaff" filter="url(#b10)" opacity="0.6"/>
<path d="M1196,476 C1214,472 1240,452 1265,424 C1272,416 1276,412 1280,408" fill="none" stroke="#f4faff" stroke-width="17" filter="url(#b3)"/>
<ellipse cx="1119" cy="303" rx="6" ry="10" fill="#f4faff" filter="url(#b2)"/>
<ellipse cx="1088" cy="353" rx="11" ry="8" fill="#f4faff" filter="url(#b2)"/>
<ellipse cx="1118" cy="340" rx="5" ry="7" fill="#d8ecff" filter="url(#b2)"/>
<ellipse cx="1073" cy="471" rx="3" ry="7" fill="#f4faff" filter="url(#b2)"/>
</g></g>
<g stroke="#fff" stroke-width="2.6" stroke-dasharray="2.8 8.23"><line x1="164.00" y1="600.40" x2="164.00" y2="67.5"/><line x1="233.67" y1="600.40" x2="233.67" y2="67.5"/><line x1="303.33" y1="600.40" x2="303.33" y2="67.5"/><line x1="373.00" y1="600.40" x2="373.00" y2="67.5"/><line x1="442.67" y1="600.40" x2="442.67" y2="67.5"/><line x1="512.33" y1="600.40" x2="512.33" y2="67.5"/><line x1="582.00" y1="600.40" x2="582.00" y2="67.5"/><line x1="651.67" y1="600.40" x2="651.67" y2="67.5"/><line x1="721.33" y1="600.40" x2="721.33" y2="67.5"/><line x1="791.00" y1="600.40" x2="791.00" y2="67.5"/><line x1="860.67" y1="600.40" x2="860.67" y2="67.5"/><line x1="930.33" y1="600.40" x2="930.33" y2="67.5"/><line x1="1000.00" y1="600.40" x2="1000.00" y2="67.5"/><line x1="1069.67" y1="600.40" x2="1069.67" y2="67.5"/><line x1="1139.33" y1="600.40" x2="1139.33" y2="67.5"/><line x1="1209.00" y1="600.40" x2="1209.00" y2="67.5"/><line x1="1278.67" y1="600.40" x2="1278.67" y2="67.5"/><line x1="1348.33" y1="600.40" x2="1348.33" y2="67.5"/><line x1="1418.00" y1="600.40" x2="1418.00" y2="67.5"/><line x1="1487.67" y1="600.40" x2="1487.67" y2="67.5"/><line x1="1557.33" y1="600.40" x2="1557.33" y2="67.5"/><line x1="1627.00" y1="600.40" x2="1627.00" y2="67.5"/><line x1="1696.67" y1="600.40" x2="1696.67" y2="67.5"/><line x1="1766.33" y1="600.40" x2="1766.33" y2="67.5"/><line x1="1836.00" y1="600.40" x2="1836.00" y2="67.5"/></g>
<g stroke="#fff" stroke-width="2.6" stroke-dasharray="3.8 7.23"><line x1="163.2" y1="120.88" x2="1836.0" y2="120.88"/><line x1="163.2" y1="174.26" x2="1836.0" y2="174.26"/><line x1="163.2" y1="227.64" x2="1836.0" y2="227.64"/><line x1="163.2" y1="281.02" x2="1836.0" y2="281.02"/><line x1="163.2" y1="334.40" x2="1836.0" y2="334.40"/><line x1="163.2" y1="387.78" x2="1836.0" y2="387.78"/><line x1="163.2" y1="441.16" x2="1836.0" y2="441.16"/><line x1="163.2" y1="494.54" x2="1836.0" y2="494.54"/><line x1="163.2" y1="547.92" x2="1836.0" y2="547.92"/></g>
<line x1="1000" y1="67.5" x2="1000" y2="601.3" stroke="#c8441c" stroke-width="4.4"/>
<g stroke="#000" stroke-width="1.3"><line x1="138" y1="67.5" x2="1837.0" y2="67.5"/><line x1="138" y1="601.3" x2="1837.0" y2="601.3"/><line x1="138" y1="67.50" x2="164.0" y2="67.50"/><line x1="151" y1="78.18" x2="164.0" y2="78.18"/><line x1="151" y1="88.85" x2="164.0" y2="88.85"/><line x1="151" y1="99.53" x2="164.0" y2="99.53"/><line x1="151" y1="110.20" x2="164.0" y2="110.20"/><line x1="151" y1="120.88" x2="164.0" y2="120.88"/><line x1="151" y1="131.56" x2="164.0" y2="131.56"/><line x1="151" y1="142.23" x2="164.0" y2="142.23"/><line x1="151" y1="152.91" x2="164.0" y2="152.91"/><line x1="151" y1="163.58" x2="164.0" y2="163.58"/><line x1="138" y1="174.26" x2="164.0" y2="174.26"/><line x1="151" y1="184.94" x2="164.0" y2="184.94"/><line x1="151" y1="195.61" x2="164.0" y2="195.61"/><line x1="151" y1="206.29" x2="164.0" y2="206.29"/><line x1="151" y1="216.96" x2="164.0" y2="216.96"/><line x1="151" y1="227.64" x2="164.0" y2="227.64"/><line x1="151" y1="238.32" x2="164.0" y2="238.32"/><line x1="151" y1="248.99" x2="164.0" y2="248.99"/><line x1="151" y1="259.67" x2="164.0" y2="259.67"/><line x1="151" y1="270.34" x2="164.0" y2="270.34"/><line x1="138" y1="281.02" x2="164.0" y2="281.02"/><line x1="151" y1="291.70" x2="164.0" y2="291.70"/><line x1="151" y1="302.37" x2="164.0" y2="302.37"/><line x1="151" y1="313.05" x2="164.0" y2="313.05"/><line x1="151" y1="323.72" x2="164.0" y2="323.72"/><line x1="151" y1="334.40" x2="164.0" y2="334.40"/><line x1="151" y1="345.08" x2="164.0" y2="345.08"/><line x1="151" y1="355.75" x2="164.0" y2="355.75"/><line x1="151" y1="366.43" x2="164.0" y2="366.43"/><line x1="151" y1="377.10" x2="164.0" y2="377.10"/><line x1="138" y1="387.78" x2="164.0" y2="387.78"/><line x1="151" y1="398.46" x2="164.0" y2="398.46"/><line x1="151" y1="409.13" x2="164.0" y2="409.13"/><line x1="151" y1="419.81" x2="164.0" y2="419.81"/><line x1="151" y1="430.48" x2="164.0" y2="430.48"/><line x1="151" y1="441.16" x2="164.0" y2="441.16"/><line x1="151" y1="451.84" x2="164.0" y2="451.84"/><line x1="151" y1="462.51" x2="164.0" y2="462.51"/><line x1="151" y1="473.19" x2="164.0" y2="473.19"/><line x1="151" y1="483.86" x2="164.0" y2="483.86"/><line x1="138" y1="494.54" x2="164.0" y2="494.54"/><line x1="151" y1="505.22" x2="164.0" y2="505.22"/><line x1="151" y1="515.89" x2="164.0" y2="515.89"/><line x1="151" y1="526.57" x2="164.0" y2="526.57"/><line x1="151" y1="537.24" x2="164.0" y2="537.24"/><line x1="151" y1="547.92" x2="164.0" y2="547.92"/><line x1="151" y1="558.60" x2="164.0" y2="558.60"/><line x1="151" y1="569.27" x2="164.0" y2="569.27"/><line x1="151" y1="579.95" x2="164.0" y2="579.95"/><line x1="151" y1="590.62" x2="164.0" y2="590.62"/><line x1="138" y1="601.30" x2="164.0" y2="601.30"/><line x1="164.00" y1="601.3" x2="164.00" y2="609.3"/><line x1="233.67" y1="601.3" x2="233.67" y2="605.3"/><line x1="303.33" y1="601.3" x2="303.33" y2="605.3"/><line x1="373.00" y1="601.3" x2="373.00" y2="609.3"/><line x1="442.67" y1="601.3" x2="442.67" y2="605.3"/><line x1="512.33" y1="601.3" x2="512.33" y2="605.3"/><line x1="582.00" y1="601.3" x2="582.00" y2="609.3"/><line x1="651.67" y1="601.3" x2="651.67" y2="605.3"/><line x1="721.33" y1="601.3" x2="721.33" y2="605.3"/><line x1="791.00" y1="601.3" x2="791.00" y2="609.3"/><line x1="860.67" y1="601.3" x2="860.67" y2="605.3"/><line x1="930.33" y1="601.3" x2="930.33" y2="605.3"/><line x1="1000.00" y1="601.3" x2="1000.00" y2="609.3"/><line x1="1069.67" y1="601.3" x2="1069.67" y2="605.3"/><line x1="1139.33" y1="601.3" x2="1139.33" y2="605.3"/><line x1="1209.00" y1="601.3" x2="1209.00" y2="609.3"/><line x1="1278.67" y1="601.3" x2="1278.67" y2="605.3"/><line x1="1348.33" y1="601.3" x2="1348.33" y2="605.3"/><line x1="1418.00" y1="601.3" x2="1418.00" y2="609.3"/><line x1="1487.67" y1="601.3" x2="1487.67" y2="605.3"/><line x1="1557.33" y1="601.3" x2="1557.33" y2="605.3"/><line x1="1627.00" y1="601.3" x2="1627.00" y2="609.3"/><line x1="1696.67" y1="601.3" x2="1696.67" y2="605.3"/><line x1="1766.33" y1="601.3" x2="1766.33" y2="605.3"/><line x1="1836.00" y1="601.3" x2="1836.00" y2="609.3"/></g>
<g font-family="&quot;Liberation Sans&quot;, sans-serif" font-size="37" fill="#000"><text x="129.5" y="89.5" text-anchor="end">90</text><text x="129.5" y="187.1" text-anchor="end">80</text><text x="129.5" y="293.8" text-anchor="end">70</text><text x="129.5" y="400.6" text-anchor="end">60</text><text x="129.5" y="507.3" text-anchor="end">50</text><text x="129.5" y="601.6" text-anchor="end">40</text><text x="164.00" y="655.3" text-anchor="middle">0</text><text x="373.00" y="655.3" text-anchor="middle">3</text><text x="582.00" y="655.3" text-anchor="middle">6</text><text x="791.00" y="655.3" text-anchor="middle">9</text><text x="1000.00" y="655.3" text-anchor="middle">12</text><text x="1209.00" y="655.3" text-anchor="middle">15</text><text x="1418.00" y="655.3" text-anchor="middle">18</text><text x="1627.00" y="655.3" text-anchor="middle">21</text><text x="1836.00" y="655.3" text-anchor="middle">24</text><text x="1000" y="695.5999999999999" text-anchor="middle">Local Time (hours)</text><text x="1000.5" y="51.0" text-anchor="middle" font-size="42">Northern hemisphere</text><text transform="translate(59.7,333.59999999999997) rotate(-90)" text-anchor="middle">Latitude (<tspan font-size="17" dy="-14">o</tspan><tspan dy="14">)</tspan></text></g>
<rect x="164.0" y="767.5" width="1673.0" height="533.8" fill="#000"/>
<g stroke="#fff" stroke-width="2.6" stroke-dasharray="2.8 8.23"><line x1="164.00" y1="1300.40" x2="164.00" y2="767.5"/><line x1="233.67" y1="1300.40" x2="233.67" y2="767.5"/><line x1="303.33" y1="1300.40" x2="303.33" y2="767.5"/><line x1="373.00" y1="1300.40" x2="373.00" y2="767.5"/><line x1="442.67" y1="1300.40" x2="442.67" y2="767.5"/><line x1="512.33" y1="1300.40" x2="512.33" y2="767.5"/><line x1="582.00" y1="1300.40" x2="582.00" y2="767.5"/><line x1="651.67" y1="1300.40" x2="651.67" y2="767.5"/><line x1="721.33" y1="1300.40" x2="721.33" y2="767.5"/><line x1="791.00" y1="1300.40" x2="791.00" y2="767.5"/><line x1="860.67" y1="1300.40" x2="860.67" y2="767.5"/><line x1="930.33" y1="1300.40" x2="930.33" y2="767.5"/><line x1="1000.00" y1="1300.40" x2="1000.00" y2="767.5"/><line x1="1069.67" y1="1300.40" x2="1069.67" y2="767.5"/><line x1="1139.33" y1="1300.40" x2="1139.33" y2="767.5"/><line x1="1209.00" y1="1300.40" x2="1209.00" y2="767.5"/><line x1="1278.67" y1="1300.40" x2="1278.67" y2="767.5"/><line x1="1348.33" y1="1300.40" x2="1348.33" y2="767.5"/><line x1="1418.00" y1="1300.40" x2="1418.00" y2="767.5"/><line x1="1487.67" y1="1300.40" x2="1487.67" y2="767.5"/><line x1="1557.33" y1="1300.40" x2="1557.33" y2="767.5"/><line x1="1627.00" y1="1300.40" x2="1627.00" y2="767.5"/><line x1="1696.67" y1="1300.40" x2="1696.67" y2="767.5"/><line x1="1766.33" y1="1300.40" x2="1766.33" y2="767.5"/><line x1="1836.00" y1="1300.40" x2="1836.00" y2="767.5"/></g>
<g stroke="#fff" stroke-width="2.6" stroke-dasharray="3.8 7.23"><line x1="163.2" y1="820.88" x2="1836.0" y2="820.88"/><line x1="163.2" y1="874.26" x2="1836.0" y2="874.26"/><line x1="163.2" y1="927.64" x2="1836.0" y2="927.64"/><line x1="163.2" y1="981.02" x2="1836.0" y2="981.02"/><line x1="163.2" y1="1034.40" x2="1836.0" y2="1034.40"/><line x1="163.2" y1="1087.78" x2="1836.0" y2="1087.78"/><line x1="163.2" y1="1141.16" x2="1836.0" y2="1141.16"/><line x1="163.2" y1="1194.54" x2="1836.0" y2="1194.54"/><line x1="163.2" y1="1247.92" x2="1836.0" y2="1247.92"/></g>
<line x1="1000" y1="767.5" x2="1000" y2="1301.3" stroke="#c8441c" stroke-width="4.4"/>
<g stroke="#000" stroke-width="1.3"><line x1="138" y1="767.5" x2="1837.0" y2="767.5"/><line x1="138" y1="1301.3" x2="1837.0" y2="1301.3"/><line x1="138" y1="767.50" x2="164.0" y2="767.50"/><line x1="151" y1="778.18" x2="164.0" y2="778.18"/><line x1="151" y1="788.85" x2="164.0" y2="788.85"/><line x1="151" y1="799.53" x2="164.0" y2="799.53"/><line x1="151" y1="810.20" x2="164.0" y2="810.20"/><line x1="151" y1="820.88" x2="164.0" y2="820.88"/><line x1="151" y1="831.56" x2="164.0" y2="831.56"/><line x1="151" y1="842.23" x2="164.0" y2="842.23"/><line x1="151" y1="852.91" x2="164.0" y2="852.91"/><line x1="151" y1="863.58" x2="164.0" y2="863.58"/><line x1="138" y1="874.26" x2="164.0" y2="874.26"/><line x1="151" y1="884.94" x2="164.0" y2="884.94"/><line x1="151" y1="895.61" x2="164.0" y2="895.61"/><line x1="151" y1="906.29" x2="164.0" y2="906.29"/><line x1="151" y1="916.96" x2="164.0" y2="916.96"/><line x1="151" y1="927.64" x2="164.0" y2="927.64"/><line x1="151" y1="938.32" x2="164.0" y2="938.32"/><line x1="151" y1="948.99" x2="164.0" y2="948.99"/><line x1="151" y1="959.67" x2="164.0" y2="959.67"/><line x1="151" y1="970.34" x2="164.0" y2="970.34"/><line x1="138" y1="981.02" x2="164.0" y2="981.02"/><line x1="151" y1="991.70" x2="164.0" y2="991.70"/><line x1="151" y1="1002.37" x2="164.0" y2="1002.37"/><line x1="151" y1="1013.05" x2="164.0" y2="1013.05"/><line x1="151" y1="1023.72" x2="164.0" y2="1023.72"/><line x1="151" y1="1034.40" x2="164.0" y2="1034.40"/><line x1="151" y1="1045.08" x2="164.0" y2="1045.08"/><line x1="151" y1="1055.75" x2="164.0" y2="1055.75"/><line x1="151" y1="1066.43" x2="164.0" y2="1066.43"/><line x1="151" y1="1077.10" x2="164.0" y2="1077.10"/><line x1="138" y1="1087.78" x2="164.0" y2="1087.78"/><line x1="151" y1="1098.46" x2="164.0" y2="1098.46"/><line x1="151" y1="1109.13" x2="164.0" y2="1109.13"/><line x1="151" y1="1119.81" x2="164.0" y2="1119.81"/><line x1="151" y1="1130.48" x2="164.0" y2="1130.48"/><line x1="151" y1="1141.16" x2="164.0" y2="1141.16"/><line x1="151" y1="1151.84" x2="164.0" y2="1151.84"/><line x1="151" y1="1162.51" x2="164.0" y2="1162.51"/><line x1="151" y1="1173.19" x2="164.0" y2="1173.19"/><line x1="151" y1="1183.86" x2="164.0" y2="1183.86"/><line x1="138" y1="1194.54" x2="164.0" y2="1194.54"/><line x1="151" y1="1205.22" x2="164.0" y2="1205.22"/><line x1="151" y1="1215.89" x2="164.0" y2="1215.89"/><line x1="151" y1="1226.57" x2="164.0" y2="1226.57"/><line x1="151" y1="1237.24" x2="164.0" y2="1237.24"/><line x1="151" y1="1247.92" x2="164.0" y2="1247.92"/><line x1="151" y1="1258.60" x2="164.0" y2="1258.60"/><line x1="151" y1="1269.27" x2="164.0" y2="1269.27"/><line x1="151" y1="1279.95" x2="164.0" y2="1279.95"/><line x1="151" y1="1290.62" x2="164.0" y2="1290.62"/><line x1="138" y1="1301.30" x2="164.0" y2="1301.30"/><line x1="164.00" y1="1301.3" x2="164.00" y2="1309.3"/><line x1="233.67" y1="1301.3" x2="233.67" y2="1305.3"/><line x1="303.33" y1="1301.3" x2="303.33" y2="1305.3"/><line x1="373.00" y1="1301.3" x2="373.00" y2="1309.3"/><line x1="442.67" y1="1301.3" x2="442.67" y2="1305.3"/><line x1="512.33" y1="1301.3" x2="512.33" y2="1305.3"/><line x1="582.00" y1="1301.3" x2="582.00" y2="1309.3"/><line x1="651.67" y1="1301.3" x2="651.67" y2="1305.3"/><line x1="721.33" y1="1301.3" x2="721.33" y2="1305.3"/><line x1="791.00" y1="1301.3" x2="791.00" y2="1309.3"/><line x1="860.67" y1="1301.3" x2="860.67" y2="1305.3"/><line x1="930.33" y1="1301.3" x2="930.33" y2="1305.3"/><line x1="1000.00" y1="1301.3" x2="1000.00" y2="1309.3"/><line x1="1069.67" y1="1301.3" x2="1069.67" y2="1305.3"/><line x1="1139.33" y1="1301.3" x2="1139.33" y2="1305.3"/><line x1="1209.00" y1="1301.3" x2="1209.00" y2="1309.3"/><line x1="1278.67" y1="1301.3" x2="1278.67" y2="1305.3"/><line x1="1348.33" y1="1301.3" x2="1348.33" y2="1305.3"/><line x1="1418.00" y1="1301.3" x2="1418.00" y2="1309.3"/><line x1="1487.67" y1="1301.3" x2="1487.67" y2="1305.3"/><line x1="1557.33" y1="1301.3" x2="1557.33" y2="1305.3"/><line x1="1627.00" y1="1301.3" x2="1627.00" y2="1309.3"/><line x1="1696.67" y1="1301.3" x2="1696.67" y2="1305.3"/><line x1="1766.33" y1="1301.3" x2="1766.33" y2="1305.3"/><line x1="1836.00" y1="1301.3" x2="1836.00" y2="1309.3"/></g>
<g font-family="&quot;Liberation Sans&quot;, sans-serif" font-size="37" fill="#000"><text x="129.5" y="789.5" text-anchor="end">-40</text><text x="129.5" y="887.1" text-anchor="end">-50</text><text x="129.5" y="993.8" text-anchor="end">-60</text><text x="129.5" y="1100.6" text-anchor="end">-70</text><text x="129.5" y="1207.3" text-anchor="end">-80</text><text x="129.5" y="1301.6" text-anchor="end">-90</text><text x="164.00" y="1355.3" text-anchor="middle">0</text><text x="373.00" y="1355.3" text-anchor="middle">3</text><text x="582.00" y="1355.3" text-anchor="middle">6</text><text x="791.00" y="1355.3" text-anchor="middle">9</text><text x="1000.00" y="1355.3" text-anchor="middle">12</text><text x="1209.00" y="1355.3" text-anchor="middle">15</text><text x="1418.00" y="1355.3" text-anchor="middle">18</text><text x="1627.00" y="1355.3" text-anchor="middle">21</text><text x="1836.00" y="1355.3" text-anchor="middle">24</text><text x="1000" y="1395.6" text-anchor="middle">Local Time (hours)</text><text x="1000.5" y="751.0" text-anchor="middle" font-size="42">Southern hemisphere</text><text transform="translate(47.2,1033.6000000000001) rotate(-90)" text-anchor="middle">Latitude (<tspan font-size="17" dy="-14">o</tspan><tspan dy="14">)</tspan></text></g>

<defs>
<linearGradient id="cbg" x1="0" y1="1" x2="0" y2="0">
<stop offset="0.005" stop-color="#000008"/>
<stop offset="0.099" stop-color="#000018"/>
<stop offset="0.194" stop-color="#000038"/>
<stop offset="0.288" stop-color="#000060"/>
<stop offset="0.374" stop-color="#000878"/>
<stop offset="0.430" stop-color="#00108c"/>
<stop offset="0.501" stop-color="#0028a8"/>
<stop offset="0.572" stop-color="#0048c0"/>
<stop offset="0.626" stop-color="#0058d0"/>
<stop offset="0.692" stop-color="#0070e8"/>
<stop offset="0.736" stop-color="#0a8cf8"/>
<stop offset="0.780" stop-color="#30a0ff"/>
<stop offset="0.824" stop-color="#60b8ff"/>
<stop offset="0.881" stop-color="#a0d4ff"/>
<stop offset="0.934" stop-color="#c8e6ff"/>
<stop offset="0.995" stop-color="#f0f8ff"/>
</linearGradient>
</defs>
<rect x="1851.2" y="1090.2" width="37.4" height="209.6" fill="url(#cbg)" stroke="#000" stroke-width="2"/>
<g stroke="#000" stroke-width="1.5">
<line x1="1852" y1="1159.5" x2="1855" y2="1159.5"/><line x1="1885" y1="1159.5" x2="1888" y2="1159.5"/>
<line x1="1852" y1="1229.7" x2="1855" y2="1229.7"/><line x1="1885" y1="1229.7" x2="1888" y2="1229.7"/>
</g>
<g font-family="&quot;Liberation Sans&quot;, sans-serif" font-size="29.5" fill="#000">
<text x="1897.6" y="1107.2">1000</text>
<text x="1897.6" y="1169.8">100</text>
<text x="1897.6" y="1240">10</text>
<text x="1897.6" y="1299.5">1</text>
<text x="1837" y="1077.4">kR H<tspan font-size="13" dy="4">2</tspan></text>
</g>

</svg></body></html>
